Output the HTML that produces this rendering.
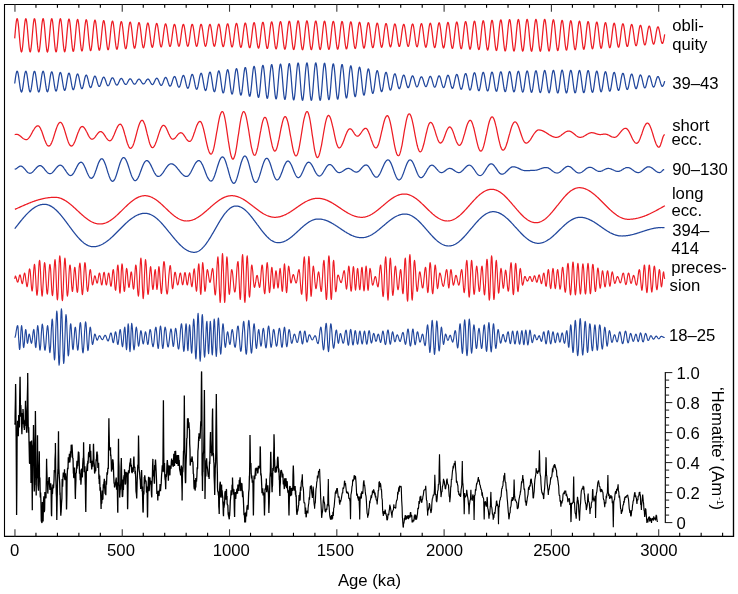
<!DOCTYPE html>
<html lang="en"><head><meta charset="utf-8"><title>Orbital filters and hematite record</title>
<style>html,body{margin:0;padding:0;background:#fff}svg{display:block}</style></head>
<body>
<svg width="738" height="594" viewBox="0 0 738 594">
<rect width="738" height="594" fill="#fff"/>
<path d="M4.5 537.05 V4.0 M4.0 4.5 H734.1" fill="none" stroke="#000" stroke-width="1.1"/>
<path d="M733.5 4.0 V537.05 M734.1 536.4 H4.0" fill="none" stroke="#000" stroke-width="1.35"/>
<path d="M14.95 4.5 V11.8 M14.95 536.4 V529.1999999999999 M122.24 4.5 V11.8 M122.24 536.4 V529.1999999999999 M229.53 4.5 V11.8 M229.53 536.4 V529.1999999999999 M336.82 4.5 V11.8 M336.82 536.4 V529.1999999999999 M444.11 4.5 V11.8 M444.11 536.4 V529.1999999999999 M551.40 4.5 V11.8 M551.40 536.4 V529.1999999999999 M658.69 4.5 V11.8 M658.69 536.4 V529.1999999999999" stroke="#3a3a3a" stroke-width="1.1" fill="none"/>
<path d="M35.96 4.5 V7.8 M35.96 536.4 V532.8 M57.42 4.5 V7.8 M57.42 536.4 V532.8 M78.87 4.5 V7.8 M78.87 536.4 V532.8 M100.33 4.5 V7.8 M100.33 536.4 V532.8 M143.25 4.5 V7.8 M143.25 536.4 V532.8 M164.71 4.5 V7.8 M164.71 536.4 V532.8 M186.16 4.5 V7.8 M186.16 536.4 V532.8 M207.62 4.5 V7.8 M207.62 536.4 V532.8 M250.54 4.5 V7.8 M250.54 536.4 V532.8 M272.00 4.5 V7.8 M272.00 536.4 V532.8 M293.45 4.5 V7.8 M293.45 536.4 V532.8 M314.91 4.5 V7.8 M314.91 536.4 V532.8 M357.83 4.5 V7.8 M357.83 536.4 V532.8 M379.29 4.5 V7.8 M379.29 536.4 V532.8 M400.74 4.5 V7.8 M400.74 536.4 V532.8 M422.20 4.5 V7.8 M422.20 536.4 V532.8 M465.12 4.5 V7.8 M465.12 536.4 V532.8 M486.58 4.5 V7.8 M486.58 536.4 V532.8 M508.03 4.5 V7.8 M508.03 536.4 V532.8 M529.49 4.5 V7.8 M529.49 536.4 V532.8 M572.41 4.5 V7.8 M572.41 536.4 V532.8 M593.87 4.5 V7.8 M593.87 536.4 V532.8 M615.32 4.5 V7.8 M615.32 536.4 V532.8 M636.78 4.5 V7.8 M636.78 536.4 V532.8 M679.70 4.5 V7.8 M679.70 536.4 V532.8 M701.16 4.5 V7.8 M701.16 536.4 V532.8 M722.61 4.5 V7.8 M722.61 536.4 V532.8" stroke="#000" stroke-width="1.1" fill="none"/>
<path d="M665.35 372.1 V523.1" stroke="#1a1a1a" stroke-width="1.25" fill="none"/>
<path d="M665.0500000000001 522.60 h7.3 M665.0500000000001 515.10 h4.1 M665.0500000000001 507.60 h4.1 M665.0500000000001 500.10 h4.1 M665.0500000000001 492.60 h7.3 M665.0500000000001 485.10 h4.1 M665.0500000000001 477.60 h4.1 M665.0500000000001 470.10 h4.1 M665.0500000000001 462.60 h7.3 M665.0500000000001 455.10 h4.1 M665.0500000000001 447.60 h4.1 M665.0500000000001 440.10 h4.1 M665.0500000000001 432.60 h7.3 M665.0500000000001 425.10 h4.1 M665.0500000000001 417.60 h4.1 M665.0500000000001 410.10 h4.1 M665.0500000000001 402.60 h7.3 M665.0500000000001 395.10 h4.1 M665.0500000000001 387.60 h4.1 M665.0500000000001 380.10 h4.1 M665.0500000000001 372.60 h7.3" stroke="#1a1a1a" stroke-width="1.0" fill="none"/>
<path d="M14.7 38.39 15.1 33.61 15.5 28.97 15.9 24.85 16.3 21.58 16.7 19.44 17.1 18.61 17.5 19.15 17.9 21.04 18.3 24.11 18.7 28.11 19.1 32.71 19.5 37.53 19.9 42.16 20.3 46.22 20.7 49.37 21.1 51.35 21.5 52.00 21.9 51.26 22.3 49.19 22.7 45.96 23.1 41.85 23.5 37.19 23.9 32.38 24.3 27.81 24.7 23.86 25.1 20.86 25.5 19.07 25.9 18.62 26.3 19.57 26.7 21.84 27.1 25.23 27.5 29.47 27.9 34.20 28.3 39.02 28.7 43.53 29.1 47.34 29.5 50.15 29.9 51.72 30.3 51.91 30.7 50.70 31.1 48.21 31.5 44.63 31.9 40.27 32.3 35.50 32.7 30.71 33.1 26.30 33.5 22.65 33.9 20.05 34.3 18.74 34.7 18.82 35.1 20.28 35.5 23.02 35.9 26.79 36.3 31.29 36.7 36.12 37.1 40.88 37.5 45.17 37.9 48.63 38.3 50.96 38.7 51.97 39.1 51.57 39.5 49.79 39.9 46.79 40.3 42.82 40.7 38.22 41.1 33.36 41.5 28.68 41.9 24.55 42.3 21.33 42.7 19.29 43.1 18.60 43.5 19.32 43.9 21.37 44.3 24.59 44.7 28.70 45.1 33.36 45.5 38.19 45.9 42.78 46.3 46.74 46.7 49.74 47.1 51.54 47.5 51.98 47.9 51.02 48.3 48.75 48.7 45.36 49.1 41.12 49.5 36.40 49.9 31.59 50.3 27.09 50.7 23.27 51.1 20.46 51.5 18.89 51.9 18.69 52.3 19.89 52.7 22.40 53.1 25.99 53.5 30.38 53.9 35.17 54.3 39.98 54.7 44.39 55.1 48.04 55.5 50.61 55.9 51.88 56.3 51.75 56.7 50.24 57.1 47.46 57.5 43.65 57.9 39.14 58.3 34.31 58.7 29.55 59.1 25.29 59.5 21.87 59.9 19.58 60.3 18.64 60.7 19.10 61.1 20.94 61.5 23.98 61.9 27.97 62.3 32.57 62.7 37.40 63.1 42.03 63.5 46.09 63.9 49.23 64.3 51.19 64.7 51.80 65.1 51.02 65.5 48.91 65.9 45.66 66.3 41.54 66.7 36.90 67.1 32.14 67.5 27.65 67.9 23.82 68.3 20.97 68.7 19.33 69.1 19.04 69.5 20.13 69.9 22.49 70.3 25.93 70.7 30.15 71.1 34.80 71.5 39.48 71.9 43.80 72.3 47.39 72.7 49.96 73.1 51.28 73.5 51.25 73.9 49.87 74.3 47.27 74.7 43.66 75.1 39.35 75.5 34.71 75.9 30.13 76.3 26.00 76.7 22.66 77.1 20.39 77.5 19.39 77.9 19.73 78.3 21.37 78.7 24.16 79.1 27.89 79.5 32.22 79.9 36.80 80.3 41.25 80.7 45.19 81.1 48.29 81.5 50.31 81.9 51.06 82.3 50.50 82.7 48.67 83.1 45.73 83.5 41.92 83.9 37.57 84.3 33.04 84.7 28.70 85.1 24.93 85.5 22.03 85.9 20.25 86.3 19.72 86.7 20.49 87.1 22.49 87.5 25.53 87.9 29.38 88.3 33.71 88.7 38.16 89.1 42.36 89.5 45.97 89.9 48.70 90.3 50.30 90.7 50.67 91.1 49.76 91.5 47.66 91.9 44.55 92.3 40.67 92.7 36.37 93.1 31.98 93.5 27.88 93.9 24.39 94.3 21.82 94.7 20.37 95.1 20.15 95.5 21.18 95.9 23.36 96.3 26.51 96.7 30.37 97.1 34.63 97.5 38.93 97.9 42.92 98.3 46.29 98.7 48.74 99.1 50.10 99.5 50.23 99.9 49.15 100.3 46.94 100.7 43.77 101.1 39.93 101.5 35.72 101.9 31.49 102.3 27.58 102.7 24.31 103.1 21.96 103.5 20.70 103.9 20.64 104.3 21.78 104.7 24.02 105.1 27.17 105.5 30.98 105.9 35.13 106.3 39.28 106.7 43.10 107.1 46.26 107.5 48.52 107.9 49.69 108.3 49.68 108.7 48.50 109.1 46.24 109.5 43.09 109.9 39.32 110.3 35.23 110.7 31.16 111.1 27.44 111.5 24.37 111.9 22.21 112.3 21.13 112.7 21.20 113.1 22.41 113.5 24.64 113.9 27.72 114.3 31.39 114.7 35.37 115.1 39.33 115.5 42.95 115.9 45.95 116.3 48.09 116.7 49.19 117.1 49.18 117.5 48.06 117.9 45.92 118.3 42.94 118.7 39.36 119.1 35.46 119.5 31.56 119.9 27.98 120.3 24.99 120.7 22.84 121.1 21.69 121.5 21.64 121.9 22.68 122.3 24.73 122.7 27.61 123.1 31.10 123.5 34.92 123.9 38.75 124.3 42.30 124.7 45.27 125.1 47.43 125.5 48.62 125.9 48.73 126.3 47.77 126.7 45.82 127.1 43.03 127.5 39.63 127.9 35.89 128.3 32.12 128.7 28.62 129.1 25.66 129.5 23.49 129.9 22.27 130.3 22.10 130.7 22.98 131.1 24.85 131.5 27.54 131.9 30.85 132.3 34.50 132.7 38.21 133.1 41.67 133.5 44.60 133.9 46.78 134.3 48.04 134.7 48.27 135.1 47.46 135.5 45.68 135.9 43.08 136.3 39.86 136.7 36.29 137.1 32.65 137.5 29.24 137.9 26.33 138.3 24.14 138.7 22.85 139.1 22.57 139.5 23.30 139.9 25.00 140.3 27.51 140.7 30.63 141.1 34.12 141.5 37.69 141.9 41.06 142.3 43.96 142.7 46.16 143.1 47.48 143.5 47.82 143.9 47.16 144.3 45.55 144.7 43.12 145.1 40.08 145.5 36.66 145.9 33.15 146.3 29.81 146.7 26.93 147.1 24.73 147.5 23.38 147.9 22.99 148.3 23.58 148.7 25.10 149.1 27.43 149.5 30.38 149.9 33.71 150.3 37.15 150.7 40.44 151.1 43.31 151.5 45.53 151.9 46.93 152.3 47.40 152.7 46.91 153.1 45.50 153.5 43.28 153.9 40.43 154.3 37.18 154.7 33.80 155.1 30.54 155.5 27.68 155.9 25.43 156.3 23.97 156.7 23.42 157.1 23.81 157.5 25.13 157.9 27.25 158.3 30.00 158.7 33.17 159.1 36.50 159.5 39.72 159.9 42.58 160.3 44.85 160.7 46.35 161.1 46.96 161.5 46.64 161.9 45.41 162.3 43.38 162.7 40.72 163.1 37.62 163.5 34.36 163.9 31.18 164.3 28.34 164.7 26.06 165.1 24.53 165.5 23.87 165.9 24.11 166.3 25.24 166.7 27.17 167.1 29.72 167.5 32.71 167.9 35.89 168.3 39.02 168.7 41.84 169.1 44.14 169.5 45.72 169.9 46.48 170.3 46.36 170.7 45.36 171.1 43.57 171.5 41.13 171.9 38.24 172.3 35.13 172.7 32.04 173.1 29.22 173.5 26.89 173.9 25.24 174.3 24.38 174.7 24.39 175.1 25.27 175.5 26.93 175.9 29.27 176.3 32.08 176.7 35.16 177.1 38.24 177.5 41.09 177.9 43.48 178.3 45.21 178.7 46.15 179.1 46.22 179.5 45.42 179.9 43.81 180.3 41.52 180.7 38.73 181.1 35.67 181.5 32.58 181.9 29.71 182.3 27.28 182.7 25.49 183.1 24.49 183.5 24.35 183.9 25.09 184.3 26.64 184.7 28.89 185.1 31.65 185.5 34.70 185.9 37.80 186.3 40.70 186.7 43.16 187.1 45.00 187.5 46.07 187.9 46.27 188.3 45.59 188.7 44.09 189.1 41.89 189.5 39.16 189.9 36.13 190.3 33.02 190.7 30.10 191.1 27.60 191.5 25.71 191.9 24.58 192.3 24.32 192.7 24.93 193.1 26.36 193.5 28.51 193.9 31.20 194.3 34.22 194.7 37.32 195.1 40.26 195.5 42.80 195.9 44.75 196.3 45.95 196.7 46.30 197.1 45.77 197.5 44.40 197.9 42.32 198.3 39.67 198.7 36.68 199.1 33.57 199.5 30.60 199.9 28.01 200.3 26.00 200.7 24.73 201.1 24.30 201.5 24.75 201.9 26.05 202.3 28.08 202.7 30.70 203.1 33.69 203.5 36.80 203.9 39.79 204.3 42.43 204.7 44.49 205.1 45.82 205.5 46.30 205.9 45.90 206.3 44.65 206.7 42.65 207.1 40.06 207.5 37.09 207.9 33.98 208.3 30.97 208.7 28.31 209.1 26.21 209.5 24.84 209.9 24.30 210.3 24.65 210.7 25.86 211.1 27.82 211.5 30.38 211.9 33.33 212.3 36.44 212.7 39.46 213.1 42.15 213.5 44.29 213.9 45.71 214.3 46.29 214.7 45.99 215.1 44.84 215.5 42.93 215.9 40.40 216.3 37.46 216.7 34.33 217.1 31.27 217.5 28.52 217.9 26.31 218.3 24.82 218.7 24.16 219.1 24.39 219.5 25.50 219.9 27.40 220.3 29.94 220.7 32.92 221.1 36.10 221.5 39.23 221.9 42.05 222.3 44.33 222.7 45.90 223.1 46.62 223.5 46.44 223.9 45.36 224.3 43.47 224.7 40.91 225.1 37.90 225.5 34.67 225.9 31.48 226.3 28.59 226.7 26.22 227.1 24.58 227.5 23.80 227.9 23.93 228.3 24.98 228.7 26.86 229.1 29.43 229.5 32.47 229.9 35.75 230.3 39.00 230.7 41.97 231.1 44.41 231.5 46.13 231.9 46.98 232.3 46.89 232.7 45.88 233.1 44.01 233.5 41.44 233.9 38.37 234.3 35.04 234.7 31.72 235.1 28.68 235.5 26.16 235.9 24.37 236.3 23.45 236.7 23.48 237.1 24.47 237.5 26.34 237.9 28.94 238.3 32.07 238.7 35.47 239.1 38.86 239.5 41.98 239.9 44.56 240.3 46.40 240.7 47.34 241.1 47.31 241.5 46.31 241.9 44.40 242.3 41.76 242.7 38.58 243.1 35.13 243.5 31.68 243.9 28.51 244.3 25.89 244.7 24.02 245.1 23.06 245.5 23.10 245.9 24.12 246.3 26.05 246.7 28.74 247.1 31.97 247.5 35.47 247.9 38.98 248.3 42.19 248.7 44.86 249.1 46.76 249.5 47.73 249.9 47.70 250.3 46.66 250.7 44.70 251.1 41.97 251.5 38.69 251.9 35.12 252.3 31.57 252.7 28.30 253.1 25.59 253.5 23.67 253.9 22.68 254.3 22.71 254.7 23.76 255.1 25.76 255.5 28.53 255.9 31.86 256.3 35.48 256.7 39.09 257.1 42.41 257.5 45.16 257.9 47.11 258.3 48.12 258.7 48.08 259.1 47.01 259.5 44.99 259.9 42.17 260.3 38.79 260.7 35.12 261.1 31.45 261.5 28.09 261.9 25.30 262.3 23.32 262.7 22.30 263.1 22.34 263.5 23.42 263.9 25.48 264.3 28.33 264.7 31.76 265.1 35.48 265.5 39.20 265.9 42.61 266.3 45.43 266.7 47.44 267.1 48.47 267.5 48.44 267.9 47.33 268.3 45.25 268.7 42.36 269.1 38.89 269.5 35.11 269.9 31.35 270.3 27.89 270.7 25.03 271.1 22.99 271.5 21.95 271.9 21.99 272.3 23.11 272.7 25.21 273.1 28.15 273.5 31.67 273.9 35.49 274.3 39.30 274.7 42.80 275.1 45.70 275.5 47.77 275.9 48.82 276.3 48.78 276.7 47.65 277.1 45.52 277.5 42.55 277.9 38.98 278.3 35.11 278.7 31.24 279.1 27.70 279.5 24.76 279.9 22.67 280.3 21.60 280.7 21.64 281.1 22.79 281.5 24.95 281.9 27.96 282.3 31.57 282.7 35.49 283.1 39.41 283.5 43.00 283.9 45.97 284.3 48.09 284.7 49.17 285.1 49.13 285.5 47.97 285.9 45.78 286.3 42.73 286.7 39.08 287.1 35.11 287.5 31.14 287.9 27.51 288.3 24.49 288.7 22.35 289.1 21.25 289.5 21.29 289.9 22.46 290.3 24.65 290.7 27.71 291.1 31.38 291.5 35.38 291.9 39.38 292.3 43.06 292.7 46.12 293.1 48.33 293.5 49.49 293.9 49.52 294.3 48.40 294.7 46.23 295.1 43.18 295.5 39.49 295.9 35.46 296.3 31.40 296.7 27.65 297.1 24.50 297.5 22.21 297.9 20.97 298.3 20.88 298.7 21.95 299.1 24.11 299.5 27.18 299.9 30.92 300.3 35.02 300.7 39.14 301.1 42.95 301.5 46.13 301.9 48.44 302.3 49.67 302.7 49.75 303.1 48.65 303.5 46.47 303.9 43.39 304.3 39.66 304.7 35.58 305.1 31.48 305.5 27.69 305.9 24.52 306.3 22.22 306.7 20.99 307.1 20.92 307.5 22.00 307.9 24.14 308.3 27.18 308.7 30.87 309.1 34.91 309.5 38.97 309.9 42.74 310.3 45.91 310.7 48.23 311.1 49.51 311.5 49.65 311.9 48.63 312.3 46.56 312.7 43.58 313.1 39.94 313.5 35.93 313.9 31.87 314.3 28.10 314.7 24.90 315.1 22.54 315.5 21.20 315.9 21.00 316.3 21.96 316.7 24.00 317.1 26.97 317.5 30.61 317.9 34.64 318.3 38.71 318.7 42.50 319.1 45.70 319.5 48.05 319.9 49.36 320.3 49.52 320.7 48.52 321.1 46.44 321.5 43.45 321.9 39.80 322.3 35.79 322.7 31.74 323.1 27.98 323.5 24.83 323.9 22.53 324.3 21.27 324.7 21.16 325.1 22.21 325.5 24.32 325.9 27.33 326.3 30.98 326.7 34.99 327.1 39.01 327.5 42.73 327.9 45.84 328.3 48.09 328.7 49.29 329.1 49.35 329.5 48.26 329.9 46.12 330.3 43.09 330.7 39.43 331.1 35.44 331.5 31.44 331.9 27.76 332.3 24.69 332.7 22.50 333.1 21.35 333.5 21.34 333.9 22.47 334.3 24.64 334.7 27.69 335.1 31.35 335.5 35.33 335.9 39.31 336.3 42.95 336.7 45.97 337.1 48.11 337.5 49.21 337.9 49.17 338.3 48.00 338.7 45.79 339.1 42.73 339.5 39.07 339.9 35.10 340.3 31.15 340.7 27.56 341.1 24.60 341.5 22.52 341.9 21.49 342.3 21.59 342.7 22.81 343.1 25.04 343.5 28.10 343.9 31.74 344.3 35.66 344.7 39.54 345.1 43.07 345.5 45.95 345.9 47.95 346.3 48.92 346.7 48.77 347.1 47.53 347.5 45.29 347.9 42.25 348.3 38.64 348.7 34.78 349.1 30.96 349.5 27.51 349.9 24.71 350.3 22.77 350.7 21.87 351.1 22.06 351.5 23.34 351.9 25.61 352.3 28.66 352.7 32.26 353.1 36.09 353.5 39.85 353.9 43.23 354.3 45.94 354.7 47.76 355.1 48.56 355.5 48.26 355.9 46.89 356.3 44.58 356.7 41.50 357.1 37.92 357.5 34.14 357.9 30.46 358.3 27.20 358.7 24.60 359.1 22.90 359.5 22.23 359.9 22.62 360.3 24.02 360.7 26.33 361.1 29.34 361.5 32.83 361.9 36.50 362.3 40.07 362.7 43.24 363.1 45.77 363.5 47.45 363.9 48.16 364.3 47.83 364.7 46.50 365.1 44.28 365.5 41.35 365.9 37.94 366.3 34.33 366.7 30.80 367.1 27.65 367.5 25.12 367.9 23.41 368.3 22.66 368.7 22.92 369.1 24.18 369.5 26.32 369.9 29.17 370.3 32.50 370.7 36.05 371.1 39.53 371.5 42.66 371.9 45.19 372.3 46.92 372.7 47.72 373.1 47.52 373.5 46.34 373.9 44.28 374.3 41.51 374.7 38.25 375.1 34.76 375.5 31.33 375.9 28.23 376.3 25.70 376.7 23.95 377.1 23.11 377.5 23.25 377.9 24.37 378.3 26.37 378.7 29.08 379.1 32.29 379.5 35.73 379.9 39.13 380.3 42.21 380.7 44.71 381.1 46.45 381.5 47.29 381.9 47.14 382.3 46.05 382.7 44.08 383.1 41.41 383.5 38.26 383.9 34.87 384.3 31.54 384.7 28.51 385.1 26.05 385.5 24.34 385.9 23.52 386.3 23.66 386.7 24.73 387.1 26.64 387.5 29.24 387.9 32.31 388.3 35.62 388.7 38.89 389.1 41.86 389.5 44.30 389.9 46.01 390.3 46.85 390.7 46.77 391.1 45.77 391.5 43.94 391.9 41.42 392.3 38.42 392.7 35.17 393.1 31.95 393.5 29.01 393.9 26.58 394.3 24.86 394.7 23.97 395.1 24.00 395.5 24.93 395.9 26.69 396.3 29.13 396.7 32.06 397.1 35.24 397.5 38.41 397.9 41.32 398.3 43.74 398.7 45.48 399.1 46.39 399.5 46.42 399.9 45.55 400.3 43.87 400.7 41.51 401.1 38.65 401.5 35.54 401.9 32.42 402.3 29.54 402.7 27.13 403.1 25.39 403.5 24.44 403.9 24.36 404.3 25.14 404.7 26.72 405.1 29.00 405.5 31.79 405.9 34.88 406.3 38.00 406.7 40.92 407.1 43.40 407.5 45.23 407.9 46.27 408.3 46.44 408.7 45.71 409.1 44.14 409.5 41.86 409.9 39.04 410.3 35.92 410.7 32.73 411.1 29.74 411.5 27.19 411.9 25.29 412.3 24.18 412.7 23.96 413.1 24.65 413.5 26.20 413.9 28.48 414.3 31.32 414.7 34.49 415.1 37.73 415.5 40.78 415.9 43.41 416.3 45.39 416.7 46.57 417.1 46.85 417.5 46.20 417.9 44.67 418.3 42.39 418.7 39.53 419.1 36.32 419.5 33.02 419.9 29.89 420.3 27.19 420.7 25.13 421.1 23.89 421.5 23.55 421.9 24.16 422.3 25.66 422.7 27.95 423.1 30.82 423.5 34.07 423.9 37.43 424.3 40.62 424.7 43.40 425.1 45.53 425.5 46.85 425.9 47.25 426.3 46.68 426.7 45.20 427.1 42.93 427.5 40.03 427.9 36.74 428.3 33.33 428.7 30.07 429.1 27.22 429.5 25.01 429.9 23.61 430.3 23.16 430.7 23.67 431.1 25.13 431.5 27.40 431.9 30.31 432.3 33.63 432.7 37.10 433.1 40.43 433.5 43.36 433.9 45.65 434.3 47.11 434.7 47.63 435.1 47.17 435.5 45.74 435.9 43.48 436.3 40.55 436.7 37.19 437.1 33.67 437.5 30.27 437.9 27.27 438.3 24.90 438.7 23.36 439.1 22.78 439.5 23.19 439.9 24.59 440.3 26.84 440.7 29.78 441.1 33.17 441.5 36.75 441.9 40.21 442.3 43.29 442.7 45.74 443.1 47.36 443.5 48.01 443.9 47.64 444.3 46.28 444.7 44.04 445.1 41.09 445.5 37.66 445.9 34.04 446.3 30.51 446.7 27.35 447.1 24.82 447.5 23.13 447.9 22.41 448.3 22.72 448.7 24.06 449.1 26.31 449.5 29.30 449.9 32.78 450.3 36.48 450.7 40.09 451.1 43.32 451.5 45.91 451.9 47.65 452.3 48.40 452.7 48.08 453.1 46.72 453.5 44.43 453.9 41.40 454.3 37.86 454.7 34.10 455.1 30.43 455.5 27.14 455.9 24.51 456.3 22.74 456.7 21.99 457.1 22.31 457.5 23.67 457.9 25.98 458.3 29.03 458.7 32.60 459.1 36.40 459.5 40.12 459.9 43.46 460.3 46.16 460.7 47.99 461.1 48.81 461.5 48.55 461.9 47.22 462.3 44.93 462.7 41.86 463.1 38.26 463.5 34.40 463.9 30.61 464.3 27.19 464.7 24.40 465.1 22.48 465.5 21.59 465.9 21.79 466.3 23.08 466.7 25.36 467.1 28.44 467.5 32.07 467.9 35.98 468.3 39.85 468.7 43.36 469.1 46.23 469.5 48.23 469.9 49.21 470.3 49.06 470.7 47.81 471.1 45.56 471.5 42.47 471.9 38.80 472.3 34.84 472.7 30.90 473.1 27.31 473.5 24.34 473.9 22.25 474.3 21.20 474.7 21.29 475.1 22.51 475.5 24.78 475.9 27.91 476.3 31.65 476.7 35.70 477.1 39.73 477.5 43.40 477.9 46.43 478.3 48.56 478.7 49.62 479.1 49.51 479.5 48.25 479.9 45.92 480.3 42.73 480.7 38.92 481.1 34.81 481.5 30.72 481.9 27.00 482.3 23.94 482.7 21.80 483.1 20.76 483.5 20.89 483.9 22.21 484.3 24.59 484.7 27.86 485.1 31.75 485.5 35.93 485.9 40.08 486.3 43.85 486.7 46.92 487.1 49.06 487.5 50.08 487.9 49.89 488.3 48.50 488.7 46.04 489.1 42.69 489.5 38.73 489.9 34.48 490.3 30.28 490.7 26.48 491.1 23.40 491.5 21.27 491.9 20.29 492.3 20.53 492.7 21.97 493.1 24.49 493.5 27.89 493.9 31.90 494.3 36.19 494.7 40.42 495.1 44.25 495.5 47.37 495.9 49.51 496.3 50.52 496.7 50.29 497.1 48.85 497.5 46.31 497.9 42.88 498.3 38.82 498.7 34.46 499.1 30.17 499.5 26.28 499.9 23.10 500.3 20.91 500.7 19.87 501.1 20.09 501.5 21.54 501.9 24.13 502.3 27.63 502.7 31.77 503.1 36.21 503.5 40.59 503.9 44.54 504.3 47.75 504.7 49.95 505.1 50.95 505.5 50.67 505.9 49.13 506.3 46.46 506.7 42.88 507.1 38.67 507.5 34.19 507.9 29.80 508.3 25.85 508.7 22.67 509.1 20.52 509.5 19.58 509.9 19.92 510.3 21.52 510.7 24.24 511.1 27.87 511.5 32.10 511.9 36.60 512.3 41.00 512.7 44.93 513.1 48.08 513.5 50.19 513.9 51.08 514.3 50.69 514.7 49.03 515.1 46.26 515.5 42.59 515.9 38.32 516.3 33.80 516.7 29.40 517.1 25.48 517.5 22.36 517.9 20.30 518.3 19.45 518.7 19.90 519.1 21.61 519.5 24.42 519.9 28.13 520.3 32.42 520.7 36.95 521.1 41.34 521.5 45.25 521.9 48.35 522.3 50.39 522.7 51.20 523.1 50.72 523.5 48.99 523.9 46.14 524.3 42.41 524.7 38.10 525.1 33.55 525.5 29.15 525.9 25.24 526.3 22.15 526.7 20.13 527.1 19.34 527.5 19.85 527.9 21.61 528.3 24.48 528.7 28.22 529.1 32.55 529.5 37.10 529.9 41.50 530.3 45.41 530.7 48.49 531.1 50.51 531.5 51.29 531.9 50.78 532.3 49.02 532.7 46.14 533.1 42.38 533.5 38.06 533.9 33.50 534.3 29.10 534.7 25.19 535.1 22.11 535.5 20.09 535.9 19.31 536.3 19.82 536.7 21.61 537.1 24.51 537.5 28.30 537.9 32.66 538.3 37.24 538.7 41.66 539.1 45.55 539.5 48.61 539.9 50.58 540.3 51.30 540.7 50.71 541.1 48.85 541.5 45.89 541.9 42.06 542.3 37.68 542.7 33.10 543.1 28.70 543.5 24.85 543.9 21.84 544.3 19.94 544.7 19.30 545.1 19.98 545.5 21.94 545.9 24.99 546.3 28.89 546.7 33.31 547.1 37.89 547.5 42.23 547.9 46.00 548.3 48.87 548.7 50.61 549.1 51.08 549.5 50.25 549.9 48.18 550.3 45.06 550.7 41.13 551.1 36.74 551.5 32.24 551.9 28.00 552.3 24.38 552.7 21.67 553.1 20.09 553.5 19.77 553.9 20.74 554.3 22.91 554.7 26.09 555.1 30.03 555.5 34.39 555.9 38.82 556.3 42.94 556.7 46.43 557.1 48.98 557.5 50.40 557.9 50.56 558.3 49.47 558.7 47.20 559.1 43.96 559.5 40.01 559.9 35.69 560.3 31.34 560.7 27.33 561.1 23.99 561.5 21.60 561.9 20.34 562.3 20.32 562.7 21.54 563.1 23.89 563.5 27.18 563.9 31.13 564.3 35.42 564.7 39.68 565.1 43.57 565.5 46.76 565.9 49.00 566.3 50.11 566.7 49.98 567.1 48.64 567.5 46.21 567.9 42.88 568.3 38.93 568.7 34.69 569.1 30.52 569.5 26.75 569.9 23.70 570.3 21.62 570.7 20.67 571.1 20.93 571.5 22.40 571.9 24.94 572.3 28.33 572.7 32.30 573.1 36.51 573.5 40.60 573.9 44.24 574.3 47.13 574.7 49.02 575.1 49.75 575.5 49.28 575.9 47.65 576.3 44.98 576.7 41.52 577.1 37.55 577.5 33.40 577.9 29.42 578.3 25.94 578.7 23.26 579.1 21.58 579.5 21.06 579.9 21.73 580.3 23.53 580.7 26.31 581.1 29.83 581.5 33.79 581.9 37.87 582.3 41.73 582.7 45.03 583.1 47.52 583.5 48.97 583.9 49.29 584.3 48.43 584.7 46.48 585.1 43.60 585.5 40.04 585.9 36.09 586.3 32.09 586.7 28.37 587.1 25.23 587.5 22.95 587.9 21.71 588.3 21.60 588.7 22.64 589.1 24.73 589.5 27.70 589.9 31.29 590.3 35.21 590.7 39.12 591.1 42.71 591.5 45.66 591.9 47.74 592.3 48.77 592.7 48.67 593.1 47.46 593.5 45.24 593.9 42.19 594.3 38.59 594.7 34.72 595.1 30.91 595.5 27.49 595.9 24.73 596.3 22.86 596.7 22.04 597.1 22.33 597.5 23.70 597.9 26.03 598.3 29.13 598.7 32.73 599.1 36.53 599.5 40.21 599.9 43.47 600.3 46.04 600.7 47.70 601.1 48.32 601.5 47.85 601.9 46.33 602.3 43.90 602.7 40.76 603.1 37.18 603.5 33.46 603.9 29.90 604.3 26.81 604.7 24.44 605.1 22.98 605.5 22.56 605.9 23.20 606.3 24.83 606.7 27.32 607.1 30.46 607.5 33.99 607.9 37.61 608.3 41.02 608.7 43.95 609.1 46.15 609.5 47.45 609.9 47.74 610.3 47.00 610.7 45.30 611.1 42.78 611.5 39.65 611.9 36.17 612.3 32.64 612.7 29.34 613.1 26.55 613.5 24.49 613.9 23.33 614.3 23.17 614.7 24.00 615.1 25.74 615.5 28.27 615.9 31.35 616.3 34.75 616.7 38.17 617.1 41.35 617.5 44.02 617.9 45.97 618.3 47.03 618.7 47.13 619.1 46.27 619.5 44.51 619.9 42.01 620.3 38.97 620.7 35.64 621.1 32.30 621.5 29.22 621.9 26.65 622.3 24.80 622.7 23.81 623.1 23.77 623.5 24.66 623.9 26.43 624.3 28.91 624.7 31.90 625.1 35.15 625.5 38.40 625.9 41.38 626.3 43.84 626.7 45.59 627.1 46.48 627.5 46.46 627.9 45.53 628.3 43.77 628.7 41.33 629.1 38.41 629.5 35.26 629.9 32.13 630.3 29.28 630.7 26.94 631.1 25.30 631.5 24.49 631.9 24.56 632.3 25.50 632.7 27.22 633.1 29.59 633.5 32.40 633.9 35.43 634.3 38.42 634.7 41.15 635.1 43.38 635.5 44.94 635.9 45.72 636.3 45.64 636.7 44.74 637.1 43.08 637.5 40.80 637.9 38.09 638.3 35.18 638.7 32.30 639.1 29.68 639.5 27.53 639.9 26.03 640.3 25.28 640.7 25.35 641.1 26.23 641.5 27.84 641.9 30.04 642.3 32.65 642.7 35.46 643.1 38.23 643.5 40.75 643.9 42.80 644.3 44.23 644.7 44.93 645.1 44.84 645.5 43.98 645.9 42.41 646.3 40.29 646.7 37.77 647.1 35.08 647.5 32.42 647.9 30.02 648.3 28.06 648.7 26.71 649.1 26.06 649.5 26.17 649.9 27.03 650.3 28.57 650.7 30.65 651.1 33.09 651.5 35.70 651.9 38.25 652.3 40.54 652.7 42.38 653.1 43.63 653.5 44.17 653.9 43.98 654.3 43.08 654.7 41.54 655.1 39.50 655.5 37.13 655.9 34.63 656.3 32.21 656.7 30.06 657.1 28.36 657.5 27.25 657.9 26.81 658.3 27.07 658.7 27.99 659.1 29.50 659.5 31.46 659.9 33.72 660.3 36.10 660.7 38.39 661.1 40.42 661.5 42.02 661.9 43.06 662.3 43.47 662.7 43.21 663.1 42.32 663.5 40.85 663.9 38.95 664.3 36.76 664.7 34.47" fill="none" stroke="#ed1c24" stroke-width="1.25" stroke-linejoin="round" stroke-linecap="butt"/>
<path d="M14.7 83.53 15.1 80.55 15.5 77.66 15.9 75.09 16.3 73.06 16.7 71.73 17.1 71.21 17.5 71.54 17.9 72.72 18.3 74.63 18.7 77.12 19.1 79.99 19.5 82.99 19.9 85.87 20.3 88.40 20.7 90.36 21.1 91.60 21.5 92.00 21.9 91.54 22.3 90.25 22.7 88.24 23.1 85.68 23.5 82.78 23.9 79.78 24.3 76.94 24.7 74.48 25.1 72.61 25.5 71.49 25.9 71.21 26.3 71.80 26.7 73.22 27.1 75.33 27.5 77.97 27.9 80.91 28.3 83.92 28.7 86.72 29.1 89.10 29.5 90.85 29.9 91.82 30.3 91.94 30.7 91.19 31.1 89.64 31.5 87.41 31.9 84.70 32.3 81.72 32.7 78.74 33.1 75.99 33.5 73.72 33.9 72.11 34.3 71.29 34.7 71.33 35.1 72.25 35.5 73.95 35.9 76.30 36.3 79.10 36.7 82.11 37.1 85.07 37.5 87.75 37.9 89.90 38.3 91.35 38.7 91.98 39.1 91.73 39.5 90.62 39.9 88.76 40.3 86.28 40.7 83.42 41.1 80.39 41.5 77.48 41.9 74.90 42.3 72.90 42.7 71.63 43.1 71.20 43.5 71.65 43.9 72.92 44.3 74.93 44.7 77.49 45.1 80.40 45.5 83.39 45.9 86.22 46.3 88.65 46.7 90.47 47.1 91.55 47.5 91.79 47.9 91.17 48.3 89.76 48.7 87.69 49.1 85.11 49.5 82.26 49.9 79.38 50.3 76.69 50.7 74.44 51.1 72.79 51.5 71.89 51.9 71.81 52.3 72.54 52.7 74.04 53.1 76.17 53.5 78.73 53.9 81.53 54.3 84.31 54.7 86.84 55.1 88.92 55.5 90.36 55.9 91.06 56.3 90.96 56.7 90.07 57.1 88.47 57.5 86.30 57.9 83.76 58.3 81.04 58.7 78.40 59.1 76.04 59.5 74.17 59.9 72.93 60.3 72.44 60.7 72.72 61.1 73.74 61.5 75.42 61.9 77.61 62.3 80.12 62.7 82.74 63.1 85.24 63.5 87.42 63.9 89.09 64.3 90.12 64.7 90.42 65.1 89.98 65.5 88.84 65.9 87.10 66.3 84.90 66.7 82.45 67.1 79.94 67.5 77.59 67.9 75.59 68.3 74.12 68.7 73.28 69.1 73.16 69.5 73.74 69.9 74.98 70.3 76.77 70.7 78.96 71.1 81.35 71.5 83.74 71.9 85.93 72.3 87.74 72.7 89.02 73.1 89.67 73.5 89.63 73.9 88.92 74.3 87.59 74.7 85.77 75.1 83.62 75.5 81.31 75.9 79.06 76.3 77.05 76.7 75.45 77.1 74.38 77.5 73.94 77.9 74.15 78.3 74.97 78.7 76.33 79.1 78.11 79.5 80.16 79.9 82.30 80.3 84.35 80.7 86.14 81.1 87.54 81.5 88.41 81.9 88.71 82.3 88.42 82.7 87.56 83.1 86.22 83.5 84.52 83.9 82.59 84.3 80.62 84.7 78.75 85.1 77.15 85.5 75.94 85.9 75.23 86.3 75.05 86.7 75.41 87.1 76.28 87.5 77.58 87.9 79.18 88.3 80.95 88.7 82.75 89.1 84.43 89.5 85.85 89.9 86.89 90.3 87.48 90.7 87.58 91.1 87.19 91.5 86.34 91.9 85.12 92.3 83.63 92.7 82.00 93.1 80.37 93.5 78.86 93.9 77.61 94.3 76.71 94.7 76.23 95.1 76.20 95.5 76.60 95.9 77.41 96.3 78.54 96.7 79.90 97.1 81.37 97.5 82.83 97.9 84.16 98.3 85.26 98.7 86.03 99.1 86.44 99.5 86.44 99.9 86.04 100.3 85.31 100.7 84.29 101.1 83.06 101.5 81.73 101.9 80.41 102.3 79.20 102.7 78.20 103.1 77.49 103.5 77.13 103.9 77.13 104.3 77.50 104.7 78.20 105.1 79.16 105.5 80.31 105.9 81.55 106.3 82.78 106.7 83.89 107.1 84.80 107.5 85.44 107.9 85.75 108.3 85.73 108.7 85.37 109.1 84.70 109.5 83.80 109.9 82.73 110.3 81.58 110.7 80.45 111.1 79.43 111.5 78.61 111.9 78.04 112.3 77.77 112.7 77.81 113.1 78.16 113.5 78.77 113.9 79.60 114.3 80.58 114.7 81.62 115.1 82.64 115.5 83.56 115.9 84.32 116.3 84.84 116.7 85.09 117.1 85.07 117.5 84.76 117.9 84.22 118.3 83.47 118.7 82.58 119.1 81.64 119.5 80.71 119.9 79.86 120.3 79.17 120.7 78.69 121.1 78.45 121.5 78.46 121.9 78.72 122.3 79.21 122.7 79.87 123.1 80.67 123.5 81.52 123.9 82.36 124.3 83.12 124.7 83.75 125.1 84.19 125.5 84.44 125.9 84.46 126.3 84.25 126.7 83.83 127.1 83.23 127.5 82.51 127.9 81.72 128.3 80.93 128.7 80.20 129.1 79.59 129.5 79.15 129.9 78.90 130.3 78.87 130.7 79.06 131.1 79.45 131.5 80.01 131.9 80.69 132.3 81.44 132.7 82.19 133.1 82.89 133.5 83.48 133.9 83.92 134.3 84.16 134.7 84.20 135.1 84.03 135.5 83.67 135.9 83.15 136.3 82.50 136.7 81.80 137.1 81.08 137.5 80.41 137.9 79.84 138.3 79.42 138.7 79.17 139.1 79.13 139.5 79.28 139.9 79.61 140.3 80.10 140.7 80.70 141.1 81.37 141.5 82.06 141.9 82.69 142.3 83.24 142.7 83.65 143.1 83.89 143.5 83.94 143.9 83.81 144.3 83.50 144.7 83.05 145.1 82.49 145.5 81.86 145.9 81.19 146.3 80.53 146.7 79.94 147.1 79.47 147.5 79.16 147.9 79.03 148.3 79.12 148.7 79.41 149.1 79.88 149.5 80.51 149.9 81.24 150.3 82.02 150.7 82.79 151.1 83.48 151.5 84.04 151.9 84.42 152.3 84.57 152.7 84.49 153.1 84.17 153.5 83.64 153.9 82.93 154.3 82.09 154.7 81.20 155.1 80.32 155.5 79.52 155.9 78.87 156.3 78.42 156.7 78.23 157.1 78.30 157.5 78.64 157.9 79.23 158.3 80.02 158.7 80.96 159.1 81.97 159.5 82.97 159.9 83.88 160.3 84.62 160.7 85.14 161.1 85.38 161.5 85.31 161.9 84.95 162.3 84.31 162.7 83.43 163.1 82.40 163.5 81.27 163.9 80.16 164.3 79.14 164.7 78.30 165.1 77.71 165.5 77.42 165.9 77.47 166.3 77.85 166.7 78.54 167.1 79.48 167.5 80.60 167.9 81.83 168.3 83.06 168.7 84.19 169.1 85.14 169.5 85.81 169.9 86.16 170.3 86.16 170.7 85.80 171.1 85.09 171.5 84.09 171.9 82.87 172.3 81.52 172.7 80.16 173.1 78.88 173.5 77.80 173.9 77.00 174.3 76.55 174.7 76.50 175.1 76.87 175.5 77.62 175.9 78.70 176.3 80.04 176.7 81.53 177.1 83.05 177.5 84.48 177.9 85.70 178.3 86.61 178.7 87.13 179.1 87.22 179.5 86.85 179.9 86.05 180.3 84.88 180.7 83.42 181.1 81.80 181.5 80.13 181.9 78.56 182.3 77.20 182.7 76.18 183.1 75.59 183.5 75.46 183.9 75.83 184.3 76.68 184.7 77.93 185.1 79.49 185.5 81.25 185.9 83.06 186.3 84.79 186.7 86.27 187.1 87.41 187.5 88.09 187.9 88.26 188.3 87.89 188.7 87.01 189.1 85.68 189.5 84.01 189.9 82.12 190.3 80.16 190.7 78.29 191.1 76.66 191.5 75.41 191.9 74.64 192.3 74.42 192.7 74.78 193.1 75.69 193.5 77.08 193.9 78.85 194.3 80.87 194.7 82.97 195.1 84.99 195.5 86.76 195.9 88.15 196.3 89.03 196.7 89.33 197.1 89.01 197.5 88.09 197.9 86.64 198.3 84.76 198.7 82.60 199.1 80.33 199.5 78.14 199.9 76.19 200.3 74.64 200.7 73.64 201.1 73.26 201.5 73.55 201.9 74.49 202.3 76.02 202.7 78.02 203.1 80.34 203.5 82.78 203.9 85.16 204.3 87.29 204.7 88.98 205.1 90.09 205.5 90.54 205.9 90.27 206.3 89.29 206.7 87.68 207.1 85.57 207.5 83.10 207.9 80.49 208.3 77.93 208.7 75.64 209.1 73.80 209.5 72.58 209.9 72.06 210.3 72.31 210.7 73.31 211.1 74.99 211.5 77.23 211.9 79.84 212.3 82.63 212.7 85.36 213.1 87.82 213.5 89.80 213.9 91.15 214.3 91.74 214.7 91.51 215.1 90.49 215.5 88.74 215.9 86.39 216.3 83.63 216.7 80.68 217.1 77.77 217.5 75.14 217.9 73.01 218.3 71.54 218.7 70.87 219.1 71.06 219.5 72.10 219.9 73.92 220.3 76.37 220.7 79.27 221.1 82.39 221.5 85.47 221.9 88.28 222.3 90.57 222.7 92.16 223.1 92.92 223.5 92.77 223.9 91.72 224.3 89.84 224.7 87.28 225.1 84.24 225.5 80.96 225.9 77.70 226.3 74.72 226.7 72.27 227.1 70.54 227.5 69.70 227.9 69.80 228.3 70.86 228.7 72.79 229.1 75.45 229.5 78.63 229.9 82.07 230.3 85.51 230.7 88.66 231.1 91.27 231.5 93.12 231.9 94.06 232.3 94.00 232.7 92.95 233.1 90.97 233.5 88.22 233.9 84.91 234.3 81.32 234.7 77.71 235.1 74.40 235.5 71.63 235.9 69.65 236.3 68.62 236.7 68.62 237.1 69.68 237.5 71.71 237.9 74.57 238.3 78.02 238.7 81.79 239.1 85.57 239.5 89.05 239.9 91.96 240.3 94.04 240.7 95.13 241.1 95.13 241.5 94.02 241.9 91.90 242.3 88.92 242.7 85.33 243.1 81.41 243.5 77.47 243.9 73.84 244.3 70.82 244.7 68.65 245.1 67.52 245.5 67.53 245.9 68.68 246.3 70.89 246.7 73.98 247.1 77.72 247.5 81.80 247.9 85.89 248.3 89.66 248.7 92.81 249.1 95.06 249.5 96.23 249.9 96.22 250.3 95.02 250.7 92.73 251.1 89.51 251.5 85.63 251.9 81.39 252.3 77.14 252.7 73.23 253.1 69.97 253.5 67.64 253.9 66.42 254.3 66.43 254.7 67.68 255.1 70.06 255.5 73.40 255.9 77.43 256.3 81.82 256.7 86.22 257.1 90.27 257.5 93.65 257.9 96.07 258.3 97.33 258.7 97.31 259.1 96.02 259.5 93.55 259.9 90.09 260.3 85.92 260.7 81.38 261.1 76.82 261.5 72.62 261.9 69.13 262.3 66.62 262.7 65.33 263.1 65.34 263.5 66.68 263.9 69.24 264.3 72.81 264.7 77.13 265.1 81.83 265.5 86.54 265.9 90.85 266.3 94.43 266.7 96.98 267.1 98.29 267.5 98.24 267.9 96.85 268.3 94.22 268.7 90.55 269.1 86.15 269.5 81.36 269.9 76.59 270.3 72.20 270.7 68.57 271.1 65.98 271.5 64.65 271.9 64.70 272.3 66.11 272.7 68.79 273.1 72.51 273.5 76.98 273.9 81.84 274.3 86.69 274.7 91.14 275.1 94.83 275.5 97.46 275.9 98.81 276.3 98.77 276.7 97.33 277.1 94.61 277.5 90.83 277.9 86.29 278.3 81.36 278.7 76.43 279.1 71.91 279.5 68.16 279.9 65.50 280.3 64.13 280.7 64.17 281.1 65.63 281.5 68.39 281.9 72.23 282.3 76.84 282.7 81.85 283.1 86.85 283.5 91.43 283.9 95.24 284.3 97.95 284.7 99.33 285.1 99.29 285.5 97.81 285.9 95.01 286.3 91.11 286.7 86.43 287.1 81.35 287.5 76.28 287.9 71.62 288.3 67.76 288.7 65.01 289.1 63.60 289.5 63.65 289.9 65.14 290.3 67.95 290.7 71.87 291.1 76.58 291.5 81.70 291.9 86.83 292.3 91.55 292.7 95.49 293.1 98.32 293.5 99.82 293.9 99.86 294.3 98.43 294.7 95.64 295.1 91.73 295.5 86.99 295.9 81.80 296.3 76.59 296.7 71.76 297.1 67.71 297.5 64.77 297.9 63.17 298.3 63.04 298.7 64.42 299.1 67.20 299.5 71.15 299.9 75.96 300.3 81.24 300.7 86.55 301.1 91.46 301.5 95.57 301.9 98.55 302.3 100.15 302.7 100.26 303.1 98.85 303.5 96.04 303.9 92.07 304.3 87.24 304.7 81.96 305.1 76.65 305.5 71.74 305.9 67.63 306.3 64.65 306.7 63.05 307.1 62.94 307.5 64.34 307.9 67.11 308.3 71.05 308.7 75.84 309.1 81.09 309.5 86.38 309.9 91.28 310.3 95.41 310.7 98.43 311.1 100.10 311.5 100.29 311.9 98.98 312.3 96.28 312.7 92.40 313.1 87.65 313.5 82.42 313.9 77.12 314.3 72.18 314.7 68.00 315.1 64.91 315.5 63.15 315.9 62.88 316.3 64.13 316.7 66.80 317.1 70.68 317.5 75.46 317.9 80.73 318.3 86.08 318.7 91.06 319.1 95.27 319.5 98.36 319.9 100.08 320.3 100.28 320.7 98.95 321.1 96.20 321.5 92.28 321.9 87.49 322.3 82.24 322.7 76.95 323.1 72.05 323.5 67.95 323.9 64.97 324.3 63.35 324.7 63.23 325.1 64.60 325.5 67.36 325.9 71.27 326.3 76.01 326.7 81.20 327.1 86.40 327.5 91.19 327.9 95.19 328.3 98.07 328.7 99.60 329.1 99.66 329.5 98.25 329.9 95.48 330.3 91.59 330.7 86.89 331.1 81.78 331.5 76.67 331.9 71.97 332.3 68.07 332.7 65.29 333.1 63.85 333.5 63.85 333.9 65.30 334.3 68.08 334.7 71.95 335.1 76.60 335.5 81.64 335.9 86.66 336.3 91.26 336.7 95.05 337.1 97.74 337.5 99.10 337.9 99.03 338.3 97.55 338.7 94.76 339.1 90.91 339.5 86.32 339.9 81.35 340.3 76.42 340.7 71.96 341.1 68.31 341.5 65.76 341.9 64.52 342.3 64.69 342.7 66.22 343.1 69.00 343.5 72.78 343.9 77.25 344.3 82.05 344.7 86.77 345.1 91.03 345.5 94.50 345.9 96.89 346.3 98.02 346.7 97.81 347.1 96.28 347.5 93.56 347.9 89.90 348.3 85.58 348.7 80.98 349.1 76.46 349.5 72.39 349.9 69.11 350.3 66.86 350.7 65.84 351.1 66.10 351.5 67.64 351.9 70.31 352.3 73.89 352.7 78.07 353.1 82.52 353.5 86.85 353.9 90.71 354.3 93.80 354.7 95.85 355.1 96.72 355.5 96.34 355.9 94.75 356.3 92.09 356.7 88.60 357.1 84.55 357.5 80.30 357.9 76.19 358.3 72.56 358.7 69.70 359.1 67.84 359.5 67.14 359.9 67.61 360.3 69.21 360.7 71.78 361.1 75.11 361.5 78.92 361.9 82.90 362.3 86.73 362.7 90.11 363.1 92.77 363.5 94.51 363.9 95.20 364.3 94.79 364.7 93.34 365.1 90.97 365.5 87.88 365.9 84.33 366.3 80.60 366.7 76.99 367.1 73.80 367.5 71.27 367.9 69.59 368.3 68.89 368.7 69.22 369.1 70.53 369.5 72.70 369.9 75.56 370.3 78.86 370.7 82.34 371.1 85.71 371.5 88.71 371.9 91.11 372.3 92.71 372.7 93.41 373.1 93.16 373.5 91.99 373.9 90.01 374.3 87.38 374.7 84.33 375.1 81.10 375.5 77.96 375.9 75.16 376.3 72.90 376.7 71.37 377.1 70.68 377.5 70.87 377.9 71.92 378.3 73.74 378.7 76.16 379.1 78.98 379.5 81.97 379.9 84.89 380.3 87.50 380.7 89.60 381.1 91.03 381.5 91.68 381.9 91.51 382.3 90.54 382.7 88.87 383.1 86.63 383.5 84.02 383.9 81.25 384.3 78.55 384.7 76.14 385.1 74.20 385.5 72.88 385.9 72.29 386.3 72.45 386.7 73.34 387.1 74.87 387.5 76.92 387.9 79.31 388.3 81.84 388.7 84.32 389.1 86.54 389.5 88.33 389.9 89.56 390.3 90.13 390.7 90.02 391.1 89.23 391.5 87.85 391.9 86.00 392.3 83.83 392.7 81.51 393.1 79.24 393.5 77.20 393.9 75.55 394.3 74.40 394.7 73.85 395.1 73.92 395.5 74.61 395.9 75.84 396.3 77.50 396.7 79.46 397.1 81.56 397.5 83.62 397.9 85.48 398.3 86.99 398.7 88.05 399.1 88.57 399.5 88.53 399.9 87.94 400.3 86.87 400.7 85.40 401.1 83.65 401.5 81.75 401.9 79.86 402.3 78.13 402.7 76.70 403.1 75.67 403.5 75.13 403.9 75.11 404.3 75.61 404.7 76.58 405.1 77.94 405.5 79.58 405.9 81.36 406.3 83.13 406.7 84.76 407.1 86.12 407.5 87.11 407.9 87.64 408.3 87.68 408.7 87.24 409.1 86.35 409.5 85.10 409.9 83.58 410.3 81.92 410.7 80.26 411.1 78.73 411.5 77.45 411.9 76.51 412.3 75.99 412.7 75.93 413.1 76.32 413.5 77.12 413.9 78.27 414.3 79.68 414.7 81.21 415.1 82.75 415.5 84.19 415.9 85.39 416.3 86.28 416.7 86.78 417.1 86.86 417.5 86.52 417.9 85.79 418.3 84.74 418.7 83.46 419.1 82.04 419.5 80.62 419.9 79.29 420.3 78.16 420.7 77.33 421.1 76.85 421.5 76.76 421.9 77.05 422.3 77.66 422.7 78.59 423.1 79.76 423.5 81.09 423.9 82.48 424.3 83.81 424.7 84.97 425.1 85.87 425.5 86.44 425.9 86.62 426.3 86.40 426.7 85.79 427.1 84.83 427.5 83.61 427.9 82.22 428.3 80.76 428.7 79.36 429.1 78.12 429.5 77.16 429.9 76.54 430.3 76.33 430.7 76.54 431.1 77.16 431.5 78.14 431.9 79.41 432.3 80.87 432.7 82.39 433.1 83.87 433.5 85.18 433.9 86.20 434.3 86.87 434.7 87.12 435.1 86.92 435.5 86.30 435.9 85.29 436.3 83.97 436.7 82.46 437.1 80.86 437.5 79.31 437.9 77.93 438.3 76.84 438.7 76.12 439.1 75.83 439.5 76.01 439.9 76.64 440.3 77.68 440.7 79.03 441.1 80.61 441.5 82.28 441.9 83.90 442.3 85.35 442.7 86.51 443.1 87.29 443.5 87.61 443.9 87.45 444.3 86.82 444.7 85.76 445.1 84.37 445.5 82.74 445.9 80.99 446.3 79.28 446.7 77.73 447.1 76.47 447.5 75.61 447.9 75.23 448.3 75.36 448.7 75.99 449.1 77.10 449.5 78.58 449.9 80.33 450.3 82.20 450.7 84.04 451.1 85.71 451.5 87.06 451.9 87.98 452.3 88.40 452.7 88.26 453.1 87.58 453.5 86.40 453.9 84.82 454.3 82.96 454.7 80.96 455.1 79.00 455.5 77.23 455.9 75.79 456.3 74.81 456.7 74.38 457.1 74.53 457.5 75.24 457.9 76.48 458.3 78.15 458.7 80.11 459.1 82.21 459.5 84.29 459.9 86.16 460.3 87.69 460.7 88.75 461.1 89.24 461.5 89.12 461.9 88.39 462.3 87.10 462.7 85.36 463.1 83.30 463.5 81.08 463.9 78.88 464.3 76.88 464.7 75.24 465.1 74.10 465.5 73.55 465.9 73.64 466.3 74.38 466.7 75.70 467.1 77.51 467.5 79.67 467.9 82.01 468.3 84.33 468.7 86.46 469.1 88.21 469.5 89.45 469.9 90.06 470.3 90.00 470.7 89.26 471.1 87.90 471.5 86.02 471.9 83.76 472.3 81.31 472.7 78.86 473.1 76.61 473.5 74.75 473.9 73.41 474.3 72.73 474.7 72.76 475.1 73.51 475.5 74.94 475.9 76.92 476.3 79.29 476.7 81.85 477.1 84.40 477.5 86.73 477.9 88.65 478.3 90.00 478.7 90.67 479.1 90.60 479.5 89.80 479.9 88.33 480.3 86.31 480.7 83.89 481.1 81.29 481.5 78.70 481.9 76.34 482.3 74.40 482.7 73.05 483.1 72.38 483.5 72.47 483.9 73.30 484.3 74.81 484.7 76.88 485.1 79.35 485.5 82.00 485.9 84.63 486.3 87.02 486.7 88.97 487.1 90.33 487.5 90.97 487.9 90.86 488.3 89.98 488.7 88.42 489.1 86.29 489.5 83.78 489.9 81.08 490.3 78.41 490.7 76.00 491.1 74.04 491.5 72.69 491.9 72.07 492.3 72.22 492.7 73.13 493.1 74.73 493.5 76.89 493.9 79.44 494.3 82.17 494.7 84.86 495.1 87.29 495.5 89.27 495.9 90.64 496.3 91.27 496.7 91.13 497.1 90.22 497.5 88.60 497.9 86.42 498.3 83.84 498.7 81.07 499.1 78.33 499.5 75.86 499.9 73.84 500.3 72.44 500.7 71.78 501.1 71.92 501.5 72.84 501.9 74.49 502.3 76.72 502.7 79.35 503.1 82.18 503.5 84.97 503.9 87.49 504.3 89.53 504.7 90.93 505.1 91.57 505.5 91.40 505.9 90.42 506.3 88.73 506.7 86.44 507.1 83.76 507.5 80.89 507.9 78.07 508.3 75.54 508.7 73.50 509.1 72.11 509.5 71.50 509.9 71.71 510.3 72.73 510.7 74.47 511.1 76.81 511.5 79.54 511.9 82.44 512.3 85.28 512.7 87.83 513.1 89.88 513.5 91.25 513.9 91.83 514.3 91.59 514.7 90.52 515.1 88.72 515.5 86.34 515.9 83.57 516.3 80.62 516.7 77.75 517.1 75.19 517.5 73.15 517.9 71.80 518.3 71.24 518.7 71.52 519.1 72.63 519.5 74.47 519.9 76.90 520.3 79.71 520.7 82.68 521.1 85.57 521.5 88.15 521.9 90.19 522.3 91.54 522.7 92.09 523.1 91.78 523.5 90.64 523.9 88.77 524.3 86.30 524.7 83.45 525.1 80.44 525.5 77.52 525.9 74.93 526.3 72.87 526.7 71.52 527.1 70.99 527.5 71.31 527.9 72.48 528.3 74.38 528.7 76.88 529.1 79.76 529.5 82.80 529.9 85.75 530.3 88.36 530.7 90.44 531.1 91.80 531.5 92.33 531.9 92.00 532.3 90.82 532.7 88.89 533.1 86.37 533.5 83.46 533.9 80.39 534.3 77.41 534.7 74.77 535.1 72.67 535.5 71.30 535.9 70.76 536.3 71.10 536.7 72.30 537.1 74.27 537.5 76.84 537.9 79.80 538.3 82.92 538.7 85.94 539.1 88.60 539.5 90.70 539.9 92.06 540.3 92.56 540.7 92.16 541.1 90.90 541.5 88.87 541.9 86.25 542.3 83.24 542.7 80.09 543.1 77.05 543.5 74.39 543.9 72.31 544.3 70.99 544.7 70.53 545.1 70.99 545.5 72.32 545.9 74.43 546.3 77.13 546.7 80.21 547.1 83.41 547.5 86.47 547.9 89.12 548.3 91.16 548.7 92.41 549.1 92.77 549.5 92.20 549.9 90.76 550.3 88.55 550.7 85.77 551.1 82.63 551.5 79.40 551.9 76.35 552.3 73.73 552.7 71.76 553.1 70.59 553.5 70.34 553.9 71.02 554.3 72.57 554.7 74.88 555.1 77.75 555.5 80.94 555.9 84.19 556.3 87.23 556.7 89.81 557.1 91.72 557.5 92.79 557.9 92.94 558.3 92.15 558.7 90.48 559.1 88.08 559.5 85.13 559.9 81.89 560.3 78.62 560.7 75.59 561.1 73.05 561.5 71.22 561.9 70.24 562.3 70.21 562.7 71.13 563.1 72.91 563.5 75.41 563.9 78.42 564.3 81.69 564.7 84.95 565.1 87.92 565.5 90.37 565.9 92.09 566.3 92.94 566.7 92.85 567.1 91.84 567.5 89.97 567.9 87.42 568.3 84.39 568.7 81.13 569.1 77.92 569.5 75.01 569.9 72.65 570.3 71.04 570.7 70.30 571.1 70.50 571.5 71.62 571.9 73.58 572.3 76.20 572.7 79.27 573.1 82.54 573.5 85.72 573.9 88.55 574.3 90.80 574.7 92.28 575.1 92.86 575.5 92.50 575.9 91.23 576.3 89.16 576.7 86.46 577.1 83.36 577.5 80.11 577.9 76.99 578.3 74.26 578.7 72.15 579.1 70.83 579.5 70.41 579.9 70.93 580.3 72.34 580.7 74.52 581.1 77.28 581.5 80.41 581.9 83.63 582.3 86.68 582.7 89.30 583.1 91.27 583.5 92.43 583.9 92.69 584.3 92.02 584.7 90.48 585.1 88.20 585.5 85.37 585.9 82.23 586.3 79.04 586.7 76.07 587.1 73.57 587.5 71.74 587.9 70.73 588.3 70.64 588.7 71.46 589.1 73.13 589.5 75.50 589.9 78.38 590.3 81.53 590.7 84.66 591.1 87.53 591.5 89.88 591.9 91.53 592.3 92.35 592.7 92.26 593.1 91.29 593.5 89.51 593.9 87.08 594.3 84.21 594.7 81.14 595.1 78.12 595.5 75.41 595.9 73.23 596.3 71.75 596.7 71.11 597.1 71.35 597.5 72.44 597.9 74.29 598.3 76.73 598.7 79.57 599.1 82.57 599.5 85.46 599.9 88.02 600.3 90.03 600.7 91.32 601.1 91.80 601.5 91.42 601.9 90.23 602.3 88.32 602.7 85.87 603.1 83.07 603.5 80.16 603.9 77.40 604.3 75.00 604.7 73.16 605.1 72.04 605.5 71.72 605.9 72.22 606.3 73.49 606.7 75.43 607.1 77.86 607.5 80.59 607.9 83.38 608.3 86.01 608.7 88.26 609.1 89.95 609.5 90.94 609.9 91.15 610.3 90.58 610.7 89.26 611.1 87.32 611.5 84.93 611.9 82.27 612.3 79.57 612.7 77.06 613.1 74.94 613.5 73.38 613.9 72.50 614.3 72.39 614.7 73.02 615.1 74.36 615.5 76.28 615.9 78.62 616.3 81.18 616.7 83.76 617.1 86.13 617.5 88.12 617.9 89.55 618.3 90.32 618.7 90.38 619.1 89.72 619.5 88.40 619.9 86.54 620.3 84.30 620.7 81.85 621.1 79.41 621.5 77.17 621.9 75.31 622.3 73.98 622.7 73.28 623.1 73.27 623.5 73.94 623.9 75.23 624.3 77.02 624.7 79.17 625.1 81.50 625.5 83.81 625.9 85.92 626.3 87.66 626.7 88.88 627.1 89.50 627.5 89.47 627.9 88.80 628.3 87.55 628.7 85.83 629.1 83.78 629.5 81.57 629.9 79.39 630.3 77.41 630.7 75.79 631.1 74.67 631.5 74.12 631.9 74.18 632.3 74.84 632.7 76.04 633.1 77.68 633.5 79.61 633.9 81.69 634.3 83.73 634.7 85.58 635.1 87.09 635.5 88.14 635.9 88.65 636.3 88.59 636.7 87.96 637.1 86.83 637.5 85.29 637.9 83.47 638.3 81.52 638.7 79.60 639.1 77.86 639.5 76.45 639.9 75.46 640.3 74.98 640.7 75.04 641.1 75.63 641.5 76.70 641.9 78.15 642.3 79.86 642.7 81.70 643.1 83.51 643.5 85.14 643.9 86.47 644.3 87.39 644.7 87.83 645.1 87.76 645.5 87.19 645.9 86.18 646.3 84.80 646.7 83.18 647.1 81.46 647.5 79.76 647.9 78.24 648.3 77.00 648.7 76.15 649.1 75.75 649.5 75.84 649.9 76.39 650.3 77.37 650.7 78.68 651.1 80.22 651.5 81.85 651.9 83.44 652.3 84.86 652.7 85.99 653.1 86.75 653.5 87.07 653.9 86.94 654.3 86.37 654.7 85.42 655.1 84.17 655.5 82.72 655.9 81.19 656.3 79.73 656.7 78.43 657.1 77.42 657.5 76.76 657.9 76.51 658.3 76.68 658.7 77.24 659.1 78.15 659.5 79.32 659.9 80.67 660.3 82.07 660.7 83.42 661.1 84.61 661.5 85.55 661.9 86.15 662.3 86.38 662.7 86.21 663.1 85.68 663.5 84.82 663.9 83.71 664.3 82.45 664.7 81.12" fill="none" stroke="#21479d" stroke-width="1.25" stroke-linejoin="round" stroke-linecap="butt"/>
<path d="M14.7 134.55 15.3 134.50 15.9 134.38 16.5 134.32 17.0 134.36 17.5 134.47 18.0 134.64 18.6 134.88 19.1 135.18 19.6 135.52 20.1 135.91 20.6 136.32 21.1 136.75 21.6 137.19 22.1 137.62 22.6 138.04 23.1 138.42 23.6 138.77 24.2 139.06 24.7 139.30 25.2 139.48 25.7 139.59 26.2 139.62 26.7 139.56 27.2 139.37 27.7 139.05 28.2 138.62 28.7 138.07 29.3 137.43 29.8 136.70 30.3 135.89 30.8 135.03 31.3 134.12 31.8 133.18 32.3 132.24 32.8 131.31 33.3 130.40 33.9 129.53 34.4 128.73 34.9 127.99 35.4 127.35 35.9 126.81 36.4 126.37 36.9 126.06 37.4 125.86 37.9 125.80 38.5 125.91 39.0 126.25 39.5 126.80 40.0 127.56 40.5 128.51 41.0 129.62 41.6 130.87 42.1 132.23 42.6 133.68 43.1 135.18 43.6 136.69 44.1 138.19 44.6 139.64 45.2 141.00 45.7 142.26 46.2 143.37 46.7 144.31 47.2 145.07 47.7 145.62 48.3 145.96 48.8 146.07 49.3 145.96 49.8 145.63 50.3 145.09 50.8 144.35 51.3 143.41 51.8 142.31 52.3 141.05 52.8 139.67 53.3 138.18 53.8 136.62 54.3 135.02 54.8 133.40 55.3 131.79 55.8 130.24 56.3 128.75 56.8 127.37 57.3 126.11 57.8 125.01 58.3 124.07 58.8 123.33 59.3 122.79 59.8 122.46 60.3 122.35 60.8 122.47 61.3 122.83 61.8 123.42 62.3 124.23 62.8 125.24 63.3 126.44 63.8 127.79 64.3 129.28 64.8 130.87 65.3 132.52 65.8 134.21 66.3 135.90 66.8 137.55 67.3 139.14 67.8 140.62 68.3 141.98 68.8 143.17 69.3 144.19 69.8 145.00 70.3 145.59 70.8 145.95 71.3 146.07 71.9 145.96 72.4 145.64 72.9 145.10 73.4 144.37 73.9 143.46 74.4 142.39 75.0 141.18 75.5 139.86 76.0 138.46 76.5 137.01 77.0 135.55 77.5 134.10 78.0 132.71 78.6 131.39 79.1 130.18 79.6 129.11 80.1 128.19 80.6 127.46 81.1 126.93 81.7 126.60 82.2 126.49 82.7 126.58 83.2 126.83 83.7 127.26 84.3 127.83 84.8 128.54 85.3 129.36 85.8 130.28 86.3 131.27 86.9 132.30 87.4 133.35 87.9 134.38 88.4 135.37 88.9 136.29 89.5 137.12 90.0 137.83 90.5 138.40 91.0 138.82 91.6 139.08 92.1 139.16 92.6 139.10 93.1 138.90 93.6 138.59 94.1 138.17 94.6 137.65 95.1 137.05 95.6 136.40 96.1 135.71 96.6 135.01 97.1 134.32 97.6 133.67 98.1 133.07 98.6 132.55 99.1 132.13 99.6 131.82 100.1 131.62 100.6 131.56 101.1 131.63 101.6 131.84 102.1 132.18 102.6 132.64 103.2 133.21 103.7 133.86 104.2 134.59 104.7 135.37 105.2 136.17 105.7 136.97 106.2 137.74 106.7 138.47 107.3 139.13 107.8 139.70 108.3 140.16 108.8 140.50 109.3 140.70 109.8 140.77 110.3 140.67 110.9 140.37 111.4 139.87 111.9 139.19 112.4 138.35 112.9 137.36 113.4 136.25 114.0 135.04 114.5 133.78 115.0 132.48 115.5 131.18 116.0 129.92 116.6 128.72 117.1 127.61 117.6 126.62 118.1 125.77 118.6 125.09 119.1 124.59 119.7 124.29 120.2 124.19 120.7 124.34 121.2 124.78 121.7 125.51 122.3 126.50 122.8 127.73 123.3 129.17 123.8 130.79 124.3 132.54 124.8 134.39 125.4 136.28 125.9 138.17 126.4 140.02 126.9 141.77 127.4 143.39 128.0 144.83 128.5 146.07 129.0 147.06 129.5 147.78 130.0 148.23 130.5 148.38 131.0 148.25 131.5 147.85 132.0 147.21 132.6 146.33 133.1 145.22 133.6 143.92 134.1 142.43 134.6 140.79 135.1 139.03 135.6 137.18 136.1 135.28 136.6 133.36 137.1 131.46 137.6 129.62 138.1 127.86 138.6 126.22 139.1 124.73 139.6 123.42 140.1 122.32 140.6 121.44 141.1 120.79 141.6 120.40 142.1 120.27 142.6 120.44 143.1 120.94 143.6 121.77 144.1 122.89 144.7 124.29 145.2 125.92 145.7 127.76 146.2 129.74 146.7 131.83 147.2 133.98 147.8 136.12 148.3 138.21 148.8 140.20 149.3 142.03 149.8 143.67 150.4 145.07 150.9 146.19 151.4 147.01 151.9 147.52 152.4 147.68 152.9 147.57 153.4 147.23 153.9 146.68 154.4 145.91 154.9 144.96 155.4 143.83 155.9 142.55 156.5 141.15 157.0 139.66 157.5 138.10 158.0 136.51 158.5 134.92 159.0 133.36 159.5 131.87 160.0 130.47 160.5 129.20 161.0 128.07 161.5 127.11 162.0 126.35 162.5 125.79 163.0 125.45 163.5 125.34 164.0 125.44 164.5 125.76 165.0 126.27 165.6 126.96 166.1 127.81 166.6 128.80 167.1 129.89 167.6 131.05 168.1 132.25 168.6 133.45 169.2 134.61 169.7 135.71 170.2 136.69 170.7 137.54 171.2 138.24 171.7 138.74 172.2 139.06 172.8 139.16 173.3 139.10 173.8 138.92 174.3 138.62 174.8 138.22 175.3 137.73 175.8 137.17 176.3 136.57 176.8 135.94 177.3 135.31 177.8 134.70 178.3 134.14 178.8 133.66 179.3 133.25 179.8 132.96 180.3 132.77 180.8 132.71 181.3 132.79 181.9 133.01 182.4 133.37 182.9 133.85 183.4 134.45 183.9 135.14 184.4 135.89 184.9 136.68 185.5 137.49 186.0 138.29 186.5 139.04 187.0 139.73 187.5 140.32 188.0 140.81 188.6 141.17 189.1 141.39 189.6 141.47 190.1 141.34 190.6 140.97 191.1 140.37 191.7 139.55 192.2 138.53 192.7 137.33 193.2 135.99 193.7 134.54 194.2 133.01 194.8 131.44 195.3 129.88 195.8 128.35 196.3 126.90 196.8 125.55 197.4 124.36 197.9 123.34 198.4 122.52 198.9 121.91 199.4 121.55 199.9 121.42 200.4 121.59 201.0 122.09 201.5 122.90 202.0 124.02 202.5 125.42 203.0 127.07 203.5 128.94 204.0 130.98 204.5 133.17 205.0 135.45 205.5 137.78 206.0 140.11 206.5 142.39 207.0 144.57 207.5 146.62 208.0 148.49 208.5 150.14 209.0 151.54 209.5 152.66 210.0 153.47 210.5 153.97 211.0 154.13 211.5 153.92 212.0 153.27 212.5 152.21 213.1 150.75 213.6 148.93 214.1 146.78 214.6 144.35 215.1 141.68 215.6 138.83 216.1 135.86 216.6 132.83 217.2 129.79 217.7 126.82 218.2 123.97 218.7 121.31 219.2 118.87 219.7 116.72 220.2 114.90 220.8 113.44 221.3 112.38 221.8 111.73 222.3 111.52 222.8 111.78 223.3 112.58 223.8 113.88 224.3 115.66 224.8 117.88 225.3 120.50 225.8 123.44 226.3 126.65 226.8 130.06 227.3 133.58 227.8 137.14 228.3 140.67 228.9 144.07 229.4 147.28 229.9 150.23 230.4 152.84 230.9 155.06 231.4 156.84 231.9 158.14 232.4 158.94 232.9 159.20 233.4 158.94 233.9 158.14 234.4 156.84 235.0 155.06 235.5 152.84 236.0 150.23 236.5 147.28 237.0 144.07 237.5 140.67 238.0 137.14 238.6 133.58 239.1 130.06 239.6 126.65 240.1 123.44 240.6 120.50 241.1 117.88 241.7 115.66 242.2 113.88 242.7 112.58 243.2 111.78 243.7 111.52 244.2 111.76 244.7 112.49 245.3 113.69 245.8 115.32 246.3 117.36 246.8 119.76 247.3 122.46 247.8 125.41 248.4 128.53 248.9 131.77 249.4 135.04 249.9 138.27 250.4 141.40 250.9 144.34 251.4 147.05 252.0 149.44 252.5 151.48 253.0 153.12 253.5 154.31 254.0 155.04 254.5 155.29 255.1 155.05 255.6 154.36 256.1 153.22 256.6 151.66 257.1 149.72 257.7 147.45 258.2 144.91 258.7 142.15 259.2 139.25 259.7 136.28 260.2 133.31 260.8 130.41 261.3 127.65 261.8 125.11 262.3 122.84 262.8 120.91 263.4 119.35 263.9 118.21 264.4 117.51 264.9 117.28 265.4 117.51 266.0 118.19 266.5 119.32 267.0 120.85 267.5 122.74 268.0 124.95 268.6 127.41 269.1 130.05 269.6 132.81 270.1 135.61 270.6 138.37 271.2 141.01 271.7 143.47 272.2 145.68 272.7 147.57 273.3 149.10 273.8 150.22 274.3 150.91 274.8 151.14 275.3 150.93 275.9 150.29 276.4 149.26 276.9 147.84 277.4 146.08 277.9 144.02 278.4 141.71 279.0 139.20 279.5 136.57 280.0 133.86 280.5 131.16 281.0 128.52 281.6 126.02 282.1 123.71 282.6 121.65 283.1 119.89 283.6 118.47 284.1 117.43 284.7 116.80 285.2 116.59 285.7 116.81 286.2 117.46 286.7 118.54 287.2 120.01 287.8 121.84 288.3 124.00 288.8 126.43 289.3 129.09 289.8 131.90 290.3 134.81 290.9 137.75 291.4 140.66 291.9 143.48 292.4 146.13 292.9 148.56 293.4 150.72 293.9 152.56 294.5 154.03 295.0 155.10 295.5 155.76 296.0 155.98 296.5 155.75 297.0 155.08 297.5 153.97 298.0 152.45 298.5 150.55 299.0 148.31 299.5 145.77 300.0 142.98 300.5 140.01 301.0 136.91 301.5 133.75 302.0 130.58 302.5 127.49 303.0 124.51 303.5 121.73 304.0 119.19 304.6 116.95 305.1 115.05 305.6 113.53 306.1 112.42 306.6 111.74 307.1 111.52 307.6 111.80 308.1 112.65 308.6 114.03 309.1 115.92 309.7 118.27 310.2 121.01 310.7 124.10 311.2 127.44 311.7 130.95 312.2 134.55 312.8 138.16 313.3 141.67 313.8 145.01 314.3 148.09 314.8 150.84 315.4 153.19 315.9 155.08 316.4 156.46 316.9 157.31 317.4 157.59 317.9 157.38 318.4 156.74 318.9 155.69 319.4 154.24 319.9 152.44 320.4 150.32 320.9 147.91 321.5 145.27 322.0 142.45 322.5 139.51 323.0 136.51 323.5 133.51 324.0 130.57 324.5 127.76 325.0 125.12 325.5 122.71 326.0 120.58 326.5 118.78 327.0 117.34 327.5 116.29 328.0 115.65 328.5 115.43 329.0 115.62 329.5 116.16 330.0 117.04 330.5 118.26 331.0 119.77 331.5 121.55 332.0 123.55 332.5 125.74 333.1 128.06 333.6 130.46 334.1 132.89 334.6 135.29 335.1 137.61 335.6 139.79 336.1 141.80 336.6 143.58 337.1 145.09 337.6 146.31 338.1 147.19 338.6 147.73 339.1 147.92 339.7 147.81 340.2 147.49 340.7 146.97 341.2 146.25 341.7 145.36 342.2 144.32 342.8 143.14 343.3 141.85 343.8 140.48 344.3 139.07 344.8 137.64 345.3 136.23 345.8 134.86 346.4 133.58 346.9 132.39 347.4 131.35 347.9 130.46 348.4 129.74 348.9 129.22 349.5 128.90 350.0 128.80 350.5 128.89 351.0 129.16 351.6 129.60 352.1 130.18 352.6 130.88 353.1 131.66 353.7 132.48 354.2 133.30 354.7 134.08 355.2 134.78 355.8 135.36 356.3 135.80 356.8 136.07 357.3 136.17 357.9 136.09 358.4 135.87 358.9 135.51 359.4 135.02 359.9 134.43 360.5 133.75 361.0 133.01 361.5 132.25 362.0 131.49 362.5 130.75 363.0 130.07 363.6 129.48 364.1 128.99 364.6 128.63 365.1 128.41 365.6 128.33 366.2 128.46 366.7 128.81 367.2 129.40 367.7 130.20 368.2 131.20 368.7 132.37 369.3 133.68 369.8 135.10 370.3 136.59 370.8 138.12 371.3 139.66 371.9 141.15 372.4 142.57 372.9 143.88 373.4 145.05 373.9 146.05 374.4 146.85 375.0 147.44 375.5 147.79 376.0 147.92 376.5 147.75 377.0 147.26 377.5 146.46 378.1 145.36 378.6 143.98 379.1 142.35 379.6 140.51 380.1 138.49 380.6 136.33 381.1 134.08 381.6 131.79 382.2 129.50 382.7 127.25 383.2 125.09 383.7 123.07 384.2 121.23 384.7 119.60 385.2 118.22 385.8 117.12 386.3 116.32 386.8 115.83 387.3 115.66 387.8 115.87 388.3 116.48 388.8 117.48 389.3 118.85 389.8 120.56 390.3 122.58 390.8 124.87 391.3 127.38 391.8 130.06 392.3 132.85 392.8 135.71 393.3 138.56 393.8 141.35 394.3 144.03 394.8 146.54 395.3 148.83 395.8 150.85 396.3 152.57 396.8 153.94 397.3 154.94 397.8 155.54 398.3 155.75 398.9 155.51 399.4 154.82 399.9 153.67 400.4 152.10 400.9 150.15 401.4 147.85 402.0 145.27 402.5 142.44 403.0 139.45 403.5 136.35 404.0 133.22 404.5 130.12 405.1 127.13 405.6 124.30 406.1 121.71 406.6 119.42 407.1 117.46 407.6 115.90 408.1 114.75 408.7 114.06 409.2 113.82 409.7 114.02 410.2 114.59 410.7 115.54 411.2 116.84 411.7 118.46 412.2 120.38 412.7 122.55 413.2 124.93 413.7 127.47 414.2 130.12 414.7 132.83 415.2 135.53 415.7 138.18 416.2 140.72 416.7 143.10 417.2 145.27 417.7 147.19 418.2 148.81 418.7 150.11 419.2 151.06 419.7 151.64 420.2 151.83 420.8 151.65 421.3 151.11 421.8 150.22 422.3 149.02 422.8 147.51 423.3 145.75 423.9 143.78 424.4 141.64 424.9 139.39 425.4 137.09 425.9 134.78 426.5 132.53 427.0 130.39 427.5 128.42 428.0 126.66 428.5 125.16 429.0 123.95 429.6 123.07 430.1 122.53 430.6 122.35 431.1 122.49 431.6 122.91 432.2 123.59 432.7 124.53 433.2 125.69 433.7 127.04 434.2 128.55 434.8 130.17 435.3 131.86 435.8 133.57 436.3 135.26 436.9 136.88 437.4 138.38 437.9 139.73 438.4 140.89 438.9 141.83 439.5 142.52 440.0 142.94 440.5 143.08 441.0 142.96 441.5 142.59 442.0 142.00 442.6 141.19 443.1 140.20 443.6 139.05 444.1 137.77 444.6 136.42 445.1 135.01 445.6 133.61 446.1 132.26 446.6 130.98 447.2 129.83 447.7 128.84 448.2 128.03 448.7 127.44 449.2 127.07 449.7 126.95 450.2 127.08 450.7 127.45 451.2 128.06 451.8 128.90 452.3 129.93 452.8 131.13 453.3 132.47 453.8 133.90 454.3 135.41 454.8 136.93 455.3 138.43 455.8 139.87 456.3 141.21 456.8 142.41 457.4 143.44 457.9 144.27 458.4 144.88 458.9 145.26 459.4 145.38 459.9 145.24 460.4 144.82 460.9 144.14 461.5 143.20 462.0 142.03 462.5 140.65 463.0 139.10 463.5 137.41 464.0 135.62 464.6 133.76 465.1 131.89 465.6 130.03 466.1 128.24 466.6 126.55 467.1 125.00 467.6 123.62 468.2 122.45 468.7 121.52 469.2 120.83 469.7 120.41 470.2 120.27 470.7 120.44 471.2 120.96 471.7 121.80 472.2 122.95 472.7 124.39 473.2 126.08 473.8 127.99 474.3 130.07 474.8 132.27 475.3 134.55 475.8 136.86 476.3 139.14 476.8 141.34 477.3 143.42 477.8 145.33 478.3 147.02 478.8 148.46 479.3 149.61 479.8 150.45 480.3 150.97 480.8 151.14 481.3 150.97 481.8 150.45 482.4 149.59 482.9 148.42 483.4 146.95 483.9 145.22 484.4 143.26 484.9 141.11 485.4 138.81 485.9 136.42 486.5 133.98 487.0 131.54 487.5 129.14 488.0 126.85 488.5 124.70 489.0 122.74 489.5 121.01 490.1 119.54 490.6 118.37 491.1 117.51 491.6 116.99 492.1 116.82 492.6 117.00 493.1 117.56 493.7 118.47 494.2 119.72 494.7 121.27 495.2 123.10 495.7 125.17 496.3 127.42 496.8 129.80 497.3 132.27 497.8 134.77 498.3 137.23 498.8 139.62 499.4 141.87 499.9 143.93 500.4 145.76 500.9 147.32 501.4 148.56 502.0 149.48 502.5 150.03 503.0 150.22 503.5 150.09 504.0 149.69 504.6 149.05 505.1 148.16 505.6 147.04 506.1 145.72 506.6 144.22 507.2 142.57 507.7 140.80 508.2 138.93 508.7 137.02 509.2 135.08 509.8 133.17 510.3 131.31 510.8 129.53 511.3 127.88 511.8 126.38 512.4 125.06 512.9 123.95 513.4 123.06 513.9 122.41 514.5 122.02 515.0 121.88 515.5 121.99 516.0 122.31 516.5 122.84 517.0 123.57 517.5 124.47 518.0 125.54 518.5 126.75 519.0 128.08 519.5 129.50 520.0 130.97 520.5 132.48 521.0 133.99 521.5 135.47 522.0 136.88 522.5 138.21 523.0 139.42 523.5 140.49 524.0 141.40 524.5 142.12 525.0 142.65 525.5 142.97 526.0 143.08 526.5 143.03 527.0 142.87 527.6 142.62 528.1 142.27 528.6 141.82 529.1 141.30 529.6 140.70 530.1 140.03 530.6 139.31 531.1 138.54 531.6 137.74 532.1 136.92 532.6 136.10 533.1 135.28 533.6 134.48 534.1 133.72 534.6 132.99 535.2 132.33 535.7 131.73 536.2 131.20 536.7 130.76 537.2 130.41 537.7 130.15 538.2 130.00 538.7 129.95 539.2 129.96 539.7 130.01 540.2 130.08 540.7 130.18 541.2 130.31 541.7 130.47 542.2 130.65 542.8 130.86 543.3 131.09 543.8 131.33 544.3 131.60 544.8 131.89 545.3 132.18 545.8 132.49 546.3 132.81 546.8 133.14 547.3 133.47 547.8 133.80 548.3 134.13 548.8 134.45 549.3 134.77 549.9 135.08 550.4 135.38 550.9 135.66 551.4 135.93 551.9 136.18 552.4 136.41 552.9 136.61 553.4 136.80 553.9 136.95 554.4 137.08 554.9 137.19 555.4 137.26 555.9 137.30 556.4 137.32 556.9 137.29 557.5 137.21 558.0 137.08 558.5 136.90 559.0 136.68 559.5 136.41 560.0 136.10 560.5 135.76 561.0 135.40 561.5 135.01 562.0 134.61 562.5 134.21 563.1 133.80 563.6 133.40 564.1 133.02 564.6 132.65 565.1 132.32 565.6 132.01 566.1 131.74 566.6 131.52 567.1 131.34 567.6 131.20 568.1 131.13 568.6 131.10 569.1 131.13 569.6 131.21 570.2 131.36 570.7 131.55 571.2 131.80 571.7 132.09 572.2 132.42 572.7 132.78 573.2 133.17 573.7 133.58 574.2 134.00 574.7 134.42 575.2 134.84 575.7 135.25 576.2 135.64 576.7 136.00 577.2 136.33 577.7 136.62 578.2 136.87 578.7 137.06 579.2 137.20 579.7 137.29 580.2 137.32 580.7 137.30 581.2 137.23 581.7 137.13 582.2 136.98 582.7 136.80 583.2 136.59 583.7 136.34 584.2 136.07 584.7 135.79 585.2 135.48 585.7 135.17 586.2 134.86 586.7 134.55 587.2 134.24 587.7 133.96 588.2 133.69 588.7 133.44 589.2 133.23 589.7 133.05 590.2 132.90 590.7 132.80 591.2 132.73 591.7 132.71 592.2 132.73 592.7 132.77 593.2 132.85 593.7 132.95 594.2 133.08 594.7 133.22 595.2 133.38 595.7 133.55 596.2 133.72 596.7 133.88 597.2 134.04 597.7 134.19 598.2 134.31 598.7 134.42 599.2 134.49 599.7 134.54 600.2 134.55 600.7 134.54 601.2 134.50 601.7 134.44 602.3 134.36 602.8 134.28 603.3 134.21 603.8 134.15 604.3 134.11 604.8 134.09 605.3 134.12 605.8 134.18 606.3 134.29 606.9 134.43 607.4 134.61 607.9 134.82 608.4 135.06 608.9 135.31 609.4 135.57 609.9 135.84 610.4 136.10 610.9 136.35 611.4 136.59 611.9 136.80 612.5 136.98 613.0 137.12 613.5 137.23 614.0 137.30 614.5 137.32 615.0 137.27 615.5 137.14 616.0 136.91 616.5 136.61 617.0 136.22 617.5 135.77 618.0 135.26 618.5 134.69 619.0 134.09 619.5 133.47 620.0 132.83 620.5 132.19 621.0 131.56 621.5 130.96 622.0 130.40 622.5 129.88 623.0 129.43 623.5 129.05 624.0 128.74 624.5 128.52 625.0 128.38 625.5 128.33 626.0 128.41 626.6 128.64 627.1 129.01 627.6 129.52 628.1 130.16 628.6 130.92 629.1 131.77 629.6 132.71 630.1 133.71 630.6 134.76 631.1 135.82 631.6 136.89 632.1 137.93 632.6 138.93 633.1 139.87 633.6 140.72 634.1 141.48 634.6 142.12 635.1 142.63 635.6 143.00 636.1 143.23 636.6 143.31 637.1 143.19 637.6 142.86 638.2 142.30 638.7 141.55 639.2 140.60 639.7 139.49 640.2 138.24 640.7 136.88 641.2 135.43 641.8 133.93 642.3 132.41 642.8 130.92 643.3 129.47 643.8 128.10 644.3 126.85 644.9 125.74 645.4 124.80 645.9 124.04 646.4 123.49 646.9 123.15 647.4 123.04 647.9 123.15 648.4 123.48 648.9 124.04 649.4 124.80 649.9 125.75 650.4 126.88 650.9 128.16 651.4 129.57 651.9 131.08 652.4 132.67 652.9 134.30 653.4 135.96 653.9 137.59 654.4 139.18 654.9 140.69 655.4 142.10 655.9 143.38 656.4 144.51 656.9 145.46 657.4 146.22 657.9 146.78 658.4 147.11 658.9 147.22 659.5 146.97 660.0 146.22 660.5 145.04 661.0 143.52 661.6 141.79 662.1 139.99 662.6 138.26 663.1 136.74 663.7 135.56 664.2 134.81 664.7 134.55" fill="none" stroke="#ed1c24" stroke-width="1.25" stroke-linejoin="round" stroke-linecap="butt"/>
<path d="M14.7 169.11 15.2 169.05 15.8 168.87 16.3 168.59 16.9 168.23 17.4 167.82 17.9 167.40 18.5 166.99 19.0 166.63 19.6 166.35 20.1 166.17 20.7 166.11 21.2 166.17 21.7 166.33 22.2 166.59 22.7 166.95 23.2 167.39 23.7 167.90 24.2 168.46 24.8 169.06 25.3 169.68 25.8 170.30 26.3 170.91 26.8 171.47 27.3 171.98 27.8 172.42 28.3 172.78 28.9 173.04 29.4 173.20 29.9 173.26 30.4 173.21 30.9 173.07 31.4 172.84 31.9 172.53 32.4 172.14 32.9 171.69 33.4 171.18 33.9 170.63 34.4 170.05 34.9 169.45 35.5 168.86 36.0 168.28 36.5 167.73 37.0 167.22 37.5 166.77 38.0 166.38 38.5 166.07 39.0 165.84 39.5 165.70 40.0 165.65 40.5 165.71 41.1 165.87 41.6 166.14 42.1 166.50 42.6 166.95 43.1 167.48 43.7 168.07 44.2 168.69 44.7 169.35 45.2 170.02 45.7 170.67 46.3 171.30 46.8 171.89 47.3 172.41 47.8 172.87 48.4 173.23 48.9 173.50 49.4 173.66 49.9 173.72 50.4 173.66 51.0 173.51 51.5 173.25 52.0 172.90 52.5 172.47 53.0 171.96 53.5 171.39 54.1 170.77 54.6 170.12 55.1 169.45 55.6 168.79 56.1 168.14 56.7 167.52 57.2 166.95 57.7 166.44 58.2 166.01 58.7 165.66 59.3 165.40 59.8 165.24 60.3 165.19 60.8 165.26 61.3 165.45 61.8 165.76 62.4 166.18 62.9 166.71 63.4 167.33 63.9 168.02 64.4 168.77 65.0 169.56 65.5 170.38 66.0 171.19 66.5 171.98 67.0 172.73 67.5 173.42 68.1 174.04 68.6 174.57 69.1 174.99 69.6 175.30 70.1 175.49 70.7 175.56 71.2 175.48 71.7 175.23 72.2 174.83 72.7 174.28 73.2 173.60 73.8 172.80 74.3 171.91 74.8 170.94 75.3 169.92 75.8 168.88 76.4 167.83 76.9 166.81 77.4 165.85 77.9 164.95 78.4 164.15 78.9 163.47 79.5 162.93 80.0 162.52 80.5 162.28 81.0 162.20 81.5 162.30 82.1 162.59 82.6 163.08 83.1 163.74 83.6 164.56 84.1 165.52 84.6 166.60 85.2 167.77 85.7 169.00 86.2 170.26 86.7 171.52 87.2 172.75 87.8 173.92 88.3 175.00 88.8 175.96 89.3 176.78 89.8 177.44 90.3 177.93 90.9 178.22 91.4 178.32 91.9 178.20 92.4 177.84 92.9 177.26 93.5 176.45 94.0 175.46 94.5 174.29 95.0 172.98 95.5 171.56 96.1 170.06 96.6 168.53 97.1 167.00 97.6 165.51 98.1 164.09 98.6 162.78 99.2 161.61 99.7 160.61 100.2 159.81 100.7 159.22 101.2 158.86 101.8 158.74 102.3 158.87 102.8 159.24 103.3 159.86 103.8 160.70 104.3 161.76 104.8 162.99 105.4 164.39 105.9 165.91 106.4 167.52 106.9 169.19 107.4 170.87 107.9 172.54 108.5 174.15 109.0 175.67 109.5 177.07 110.0 178.30 110.5 179.36 111.0 180.20 111.5 180.82 112.1 181.19 112.6 181.32 113.1 181.20 113.6 180.84 114.1 180.25 114.6 179.43 115.1 178.42 115.6 177.22 116.1 175.87 116.6 174.38 117.1 172.80 117.6 171.14 118.1 169.45 118.6 167.77 119.1 166.11 119.6 164.53 120.1 163.04 120.6 161.69 121.1 160.49 121.6 159.47 122.1 158.66 122.6 158.07 123.1 157.71 123.6 157.59 124.1 157.70 124.6 158.02 125.1 158.54 125.6 159.27 126.1 160.17 126.6 161.25 127.1 162.47 127.6 163.81 128.1 165.25 128.6 166.77 129.1 168.32 129.6 169.89 130.1 171.45 130.6 172.97 131.1 174.41 131.6 175.75 132.1 176.97 132.7 178.04 133.2 178.95 133.7 179.67 134.2 180.20 134.7 180.52 135.2 180.63 135.7 180.53 136.2 180.25 136.7 179.80 137.2 179.17 137.7 178.38 138.2 177.45 138.7 176.38 139.2 175.22 139.7 173.96 140.2 172.64 140.7 171.29 141.2 169.92 141.7 168.57 142.2 167.25 142.7 166.00 143.2 164.83 143.7 163.77 144.2 162.83 144.7 162.04 145.2 161.41 145.7 160.96 146.2 160.68 146.7 160.59 147.2 160.66 147.7 160.88 148.2 161.24 148.7 161.74 149.2 162.37 149.7 163.11 150.2 163.95 150.7 164.88 151.2 165.87 151.7 166.92 152.2 167.99 152.7 169.07 153.2 170.15 153.7 171.19 154.2 172.19 154.7 173.12 155.2 173.96 155.7 174.70 156.2 175.32 156.7 175.82 157.2 176.19 157.7 176.41 158.2 176.48 158.7 176.43 159.2 176.28 159.7 176.04 160.3 175.70 160.8 175.27 161.3 174.76 161.8 174.18 162.3 173.54 162.9 172.84 163.4 172.10 163.9 171.33 164.4 170.54 164.9 169.75 165.4 168.96 166.0 168.19 166.5 167.45 167.0 166.75 167.5 166.11 168.0 165.53 168.6 165.02 169.1 164.59 169.6 164.26 170.1 164.01 170.6 163.86 171.2 163.81 171.7 163.84 172.2 163.95 172.7 164.12 173.2 164.36 173.7 164.66 174.2 165.02 174.8 165.44 175.3 165.91 175.8 166.42 176.3 166.98 176.8 167.57 177.3 168.19 177.8 168.83 178.4 169.48 178.9 170.15 179.4 170.81 179.9 171.46 180.4 172.10 180.9 172.72 181.4 173.31 182.0 173.87 182.5 174.38 183.0 174.85 183.5 175.27 184.0 175.63 184.5 175.93 185.0 176.17 185.6 176.34 186.1 176.45 186.6 176.48 187.1 176.41 187.6 176.21 188.1 175.88 188.6 175.42 189.1 174.84 189.6 174.15 190.1 173.37 190.7 172.51 191.2 171.57 191.7 170.59 192.2 169.57 192.7 168.53 193.2 167.50 193.7 166.48 194.2 165.49 194.7 164.56 195.2 163.69 195.7 162.91 196.3 162.23 196.8 161.65 197.3 161.19 197.8 160.86 198.3 160.65 198.8 160.59 199.3 160.67 199.8 160.93 200.3 161.37 200.8 161.96 201.3 162.70 201.8 163.59 202.4 164.60 202.9 165.71 203.4 166.91 203.9 168.18 204.4 169.50 204.9 170.84 205.4 172.17 205.9 173.49 206.4 174.76 206.9 175.96 207.4 177.08 208.0 178.08 208.5 178.97 209.0 179.71 209.5 180.31 210.0 180.74 210.5 181.00 211.0 181.09 211.5 180.97 212.0 180.64 212.5 180.09 213.0 179.33 213.5 178.37 214.0 177.25 214.5 175.97 215.0 174.56 215.5 173.04 216.0 171.45 216.5 169.82 217.0 168.17 217.5 166.53 218.0 164.94 218.5 163.43 219.0 162.02 219.5 160.74 220.0 159.61 220.5 158.66 221.0 157.90 221.5 157.35 222.0 157.01 222.5 156.90 223.0 157.03 223.5 157.44 224.1 158.10 224.6 159.00 225.1 160.13 225.6 161.47 226.1 162.98 226.6 164.64 227.1 166.41 227.7 168.26 228.2 170.15 228.7 172.03 229.2 173.88 229.7 175.65 230.2 177.31 230.7 178.82 231.2 180.16 231.8 181.29 232.3 182.19 232.8 182.85 233.3 183.26 233.8 183.39 234.3 183.25 234.8 182.84 235.3 182.15 235.8 181.22 236.3 180.04 236.8 178.66 237.3 177.09 237.8 175.38 238.3 173.55 238.8 171.64 239.3 169.68 239.8 167.73 240.3 165.82 240.8 163.99 241.3 162.27 241.9 160.71 242.4 159.33 242.9 158.15 243.4 157.22 243.9 156.53 244.4 156.12 244.9 155.98 245.4 156.13 245.9 156.57 246.4 157.29 246.9 158.28 247.4 159.51 248.0 160.97 248.5 162.60 249.0 164.38 249.5 166.28 250.0 168.23 250.5 170.21 251.1 172.17 251.6 174.06 252.1 175.85 252.6 177.48 253.1 178.93 253.6 180.17 254.1 181.16 254.7 181.88 255.2 182.32 255.7 182.47 256.2 182.35 256.7 181.98 257.2 181.38 257.7 180.55 258.2 179.52 258.7 178.30 259.2 176.91 259.7 175.40 260.2 173.78 260.7 172.10 261.2 170.38 261.7 168.65 262.2 166.97 262.7 165.35 263.2 163.84 263.7 162.46 264.2 161.24 264.7 160.20 265.2 159.37 265.7 158.77 266.2 158.40 266.8 158.28 267.3 158.41 267.8 158.81 268.3 159.46 268.8 160.35 269.3 161.45 269.9 162.74 270.4 164.19 270.9 165.76 271.4 167.41 271.9 169.11 272.5 170.80 273.0 172.45 273.5 174.02 274.0 175.47 274.5 176.76 275.0 177.87 275.6 178.76 276.1 179.41 276.6 179.80 277.1 179.94 277.6 179.83 278.1 179.52 278.7 179.00 279.2 178.29 279.7 177.41 280.2 176.38 280.7 175.21 281.2 173.94 281.8 172.59 282.3 171.20 282.8 169.78 283.3 168.39 283.8 167.04 284.3 165.77 284.9 164.60 285.4 163.57 285.9 162.69 286.4 161.98 286.9 161.47 287.4 161.15 287.9 161.05 288.5 161.15 289.0 161.45 289.5 161.95 290.0 162.63 290.5 163.47 291.1 164.46 291.6 165.57 292.1 166.78 292.6 168.04 293.1 169.34 293.6 170.64 294.2 171.90 294.7 173.10 295.2 174.21 295.7 175.20 296.2 176.05 296.8 176.73 297.3 177.23 297.8 177.53 298.3 177.63 298.8 177.54 299.3 177.25 299.9 176.79 300.4 176.16 300.9 175.37 301.4 174.45 301.9 173.42 302.5 172.30 303.0 171.12 303.5 169.91 304.0 168.71 304.5 167.53 305.0 166.41 305.6 165.38 306.1 164.46 306.6 163.67 307.1 163.04 307.6 162.58 308.2 162.29 308.7 162.20 309.2 162.27 309.7 162.50 310.2 162.88 310.7 163.40 311.2 164.04 311.7 164.80 312.2 165.65 312.7 166.58 313.2 167.57 313.7 168.59 314.2 169.62 314.7 170.65 315.2 171.63 315.7 172.56 316.2 173.42 316.8 174.17 317.3 174.82 317.8 175.33 318.3 175.71 318.8 175.94 319.3 176.02 319.8 175.95 320.3 175.74 320.8 175.39 321.3 174.92 321.9 174.33 322.4 173.65 322.9 172.87 323.4 172.04 323.9 171.16 324.5 170.26 325.0 169.36 325.5 168.48 326.0 167.65 326.5 166.88 327.0 166.19 327.6 165.60 328.1 165.13 328.6 164.78 329.1 164.57 329.6 164.50 330.1 164.56 330.6 164.72 331.1 164.99 331.6 165.35 332.1 165.80 332.6 166.33 333.1 166.91 333.6 167.54 334.1 168.20 334.6 168.87 335.1 169.52 335.6 170.15 336.1 170.74 336.6 171.26 337.1 171.71 337.6 172.08 338.1 172.35 338.6 172.51 339.1 172.56 339.7 172.53 340.2 172.44 340.7 172.29 341.2 172.08 341.7 171.82 342.2 171.53 342.7 171.20 343.2 170.85 343.8 170.49 344.3 170.13 344.8 169.78 345.3 169.45 345.8 169.16 346.3 168.90 346.8 168.70 347.3 168.54 347.8 168.45 348.4 168.42 348.9 168.45 349.4 168.56 349.9 168.73 350.4 168.96 350.9 169.24 351.4 169.56 351.9 169.90 352.4 170.26 352.9 170.62 353.4 170.97 353.9 171.28 354.4 171.56 354.9 171.79 355.4 171.96 355.9 172.07 356.4 172.10 356.9 172.05 357.4 171.91 358.0 171.67 358.5 171.35 359.0 170.95 359.5 170.49 360.0 169.97 360.5 169.41 361.0 168.83 361.5 168.24 362.0 167.66 362.5 167.10 363.0 166.58 363.6 166.11 364.1 165.71 364.6 165.39 365.1 165.16 365.6 165.01 366.1 164.96 366.6 165.04 367.1 165.26 367.7 165.63 368.2 166.13 368.7 166.75 369.2 167.48 369.7 168.30 370.2 169.18 370.8 170.11 371.3 171.07 371.8 172.02 372.3 172.95 372.8 173.84 373.4 174.65 373.9 175.38 374.4 176.01 374.9 176.51 375.4 176.87 375.9 177.10 376.5 177.17 377.0 177.09 377.5 176.85 378.0 176.46 378.5 175.91 379.0 175.23 379.5 174.43 380.0 173.51 380.5 172.51 381.0 171.43 381.5 170.29 382.0 169.12 382.5 167.94 383.0 166.78 383.5 165.64 384.0 164.56 384.5 163.55 385.0 162.64 385.5 161.83 386.0 161.15 386.5 160.61 387.0 160.21 387.5 159.97 388.0 159.89 388.5 160.00 389.0 160.30 389.5 160.80 390.0 161.48 390.5 162.34 391.0 163.35 391.5 164.50 392.0 165.75 392.5 167.09 393.0 168.49 393.5 169.91 394.0 171.34 394.5 172.74 395.0 174.08 395.5 175.33 396.0 176.48 396.5 177.49 397.0 178.34 397.5 179.03 398.0 179.53 398.5 179.83 399.0 179.94 399.5 179.83 400.0 179.53 400.5 179.03 401.1 178.34 401.6 177.49 402.1 176.48 402.6 175.33 403.1 174.08 403.6 172.74 404.1 171.34 404.6 169.91 405.1 168.49 405.6 167.09 406.1 165.75 406.6 164.50 407.1 163.35 407.6 162.34 408.1 161.48 408.6 160.80 409.1 160.30 409.6 160.00 410.1 159.89 410.6 159.99 411.1 160.29 411.6 160.77 412.2 161.44 412.7 162.26 413.2 163.23 413.7 164.33 414.2 165.52 414.7 166.79 415.3 168.10 415.8 169.43 416.3 170.74 416.8 172.00 417.3 173.20 417.8 174.29 418.3 175.26 418.9 176.09 419.4 176.75 419.9 177.24 420.4 177.53 420.9 177.63 421.4 177.56 422.0 177.36 422.5 177.02 423.0 176.55 423.5 175.97 424.0 175.29 424.5 174.52 425.0 173.68 425.6 172.80 426.1 171.88 426.6 170.95 427.1 170.03 427.6 169.14 428.1 168.30 428.7 167.53 429.2 166.85 429.7 166.27 430.2 165.81 430.7 165.47 431.2 165.26 431.8 165.19 432.3 165.24 432.8 165.39 433.3 165.64 433.8 165.97 434.3 166.38 434.8 166.86 435.3 167.40 435.8 167.97 436.3 168.57 436.8 169.18 437.4 169.78 437.9 170.36 438.4 170.89 438.9 171.37 439.4 171.79 439.9 172.12 440.4 172.36 440.9 172.51 441.4 172.56 441.9 172.52 442.5 172.41 443.0 172.21 443.5 171.96 444.0 171.64 444.5 171.28 445.1 170.90 445.6 170.49 446.1 170.09 446.6 169.70 447.1 169.34 447.6 169.02 448.2 168.77 448.7 168.58 449.2 168.46 449.7 168.42 450.2 168.45 450.7 168.54 451.3 168.70 451.8 168.90 452.3 169.16 452.8 169.45 453.3 169.78 453.8 170.13 454.3 170.49 454.8 170.85 455.4 171.20 455.9 171.53 456.4 171.82 456.9 172.08 457.4 172.29 457.9 172.44 458.4 172.53 458.9 172.56 459.5 172.52 460.0 172.38 460.5 172.16 461.0 171.86 461.5 171.48 462.0 171.04 462.6 170.55 463.1 170.02 463.6 169.45 464.1 168.88 464.6 168.30 465.2 167.74 465.7 167.20 466.2 166.71 466.7 166.27 467.2 165.90 467.7 165.59 468.3 165.37 468.8 165.24 469.3 165.19 469.8 165.25 470.3 165.42 470.8 165.71 471.4 166.09 471.9 166.58 472.4 167.14 472.9 167.78 473.4 168.48 473.9 169.22 474.5 169.99 475.0 170.76 475.5 171.53 476.0 172.27 476.5 172.97 477.0 173.61 477.5 174.17 478.1 174.66 478.6 175.05 479.1 175.33 479.6 175.50 480.1 175.56 480.6 175.50 481.1 175.32 481.6 175.03 482.1 174.63 482.6 174.12 483.1 173.53 483.6 172.86 484.1 172.12 484.7 171.34 485.2 170.52 485.7 169.68 486.2 168.85 486.7 168.03 487.2 167.24 487.7 166.51 488.2 165.84 488.7 165.24 489.2 164.74 489.7 164.34 490.2 164.05 490.7 163.87 491.2 163.81 491.7 163.87 492.2 164.04 492.7 164.32 493.2 164.71 493.7 165.19 494.2 165.76 494.7 166.40 495.2 167.10 495.8 167.84 496.3 168.61 496.8 169.38 497.3 170.15 497.8 170.89 498.3 171.58 498.8 172.22 499.3 172.79 499.8 173.28 500.3 173.66 500.8 173.95 501.3 174.12 501.8 174.18 502.4 174.14 502.9 174.03 503.4 173.84 503.9 173.59 504.4 173.28 504.9 172.90 505.4 172.48 505.9 172.02 506.5 171.53 507.0 171.02 507.5 170.49 508.0 169.97 508.5 169.45 509.0 168.96 509.5 168.50 510.1 168.08 510.6 167.71 511.1 167.39 511.6 167.14 512.1 166.95 512.6 166.84 513.1 166.80 513.6 166.82 514.1 166.87 514.7 166.94 515.2 167.05 515.7 167.18 516.2 167.34 516.7 167.51 517.2 167.71 517.7 167.93 518.2 168.16 518.7 168.40 519.2 168.64 519.7 168.89 520.2 169.13 520.7 169.37 521.2 169.60 521.7 169.81 522.3 170.01 522.8 170.19 523.3 170.35 523.8 170.48 524.3 170.58 524.8 170.66 525.3 170.71 525.8 170.72 526.3 170.72 526.8 170.71 527.3 170.69 527.9 170.66 528.4 170.63 528.9 170.59 529.4 170.55 529.9 170.51 530.4 170.47 530.9 170.43 531.5 170.39 532.0 170.35 532.5 170.32 533.0 170.29 533.5 170.28 534.0 170.26 534.6 170.26 535.1 170.25 535.6 170.21 536.1 170.15 536.6 170.06 537.1 169.95 537.6 169.82 538.1 169.68 538.6 169.51 539.1 169.34 539.6 169.16 540.1 168.97 540.6 168.78 541.1 168.60 541.6 168.42 542.1 168.24 542.6 168.08 543.1 167.93 543.6 167.81 544.1 167.70 544.6 167.61 545.1 167.55 545.6 167.51 546.1 167.50 546.6 167.52 547.1 167.61 547.6 167.75 548.1 167.93 548.6 168.17 549.1 168.45 549.6 168.77 550.1 169.11 550.6 169.48 551.1 169.87 551.6 170.26 552.1 170.65 552.6 171.04 553.1 171.41 553.6 171.75 554.1 172.07 554.6 172.35 555.1 172.59 555.6 172.77 556.1 172.91 556.6 173.00 557.1 173.02 557.6 172.99 558.1 172.89 558.6 172.72 559.1 172.49 559.6 172.21 560.1 171.87 560.6 171.49 561.2 171.07 561.7 170.63 562.2 170.16 562.7 169.68 563.2 169.21 563.7 168.74 564.2 168.30 564.7 167.88 565.2 167.50 565.7 167.16 566.2 166.87 566.7 166.65 567.2 166.48 567.7 166.38 568.2 166.34 568.7 166.38 569.2 166.49 569.7 166.67 570.2 166.92 570.8 167.24 571.3 167.60 571.8 168.01 572.3 168.46 572.8 168.94 573.3 169.43 573.9 169.93 574.4 170.43 574.9 170.90 575.4 171.35 575.9 171.77 576.4 172.13 577.0 172.44 577.5 172.69 578.0 172.88 578.5 172.99 579.0 173.02 579.5 172.99 580.0 172.90 580.6 172.74 581.1 172.52 581.6 172.26 582.1 171.94 582.6 171.58 583.1 171.20 583.7 170.79 584.2 170.36 584.7 169.93 585.2 169.50 585.7 169.09 586.2 168.71 586.7 168.35 587.3 168.03 587.8 167.77 588.3 167.55 588.8 167.39 589.3 167.30 589.8 167.27 590.4 167.29 590.9 167.38 591.4 167.52 591.9 167.70 592.4 167.93 592.9 168.20 593.4 168.51 593.9 168.83 594.4 169.17 594.9 169.51 595.4 169.85 596.0 170.17 596.5 170.47 597.0 170.74 597.5 170.97 598.0 171.16 598.5 171.30 599.0 171.38 599.5 171.41 600.0 171.39 600.5 171.31 601.1 171.19 601.6 171.02 602.1 170.82 602.6 170.58 603.1 170.32 603.6 170.05 604.2 169.78 604.7 169.50 605.2 169.25 605.7 169.01 606.2 168.81 606.7 168.64 607.2 168.52 607.8 168.44 608.3 168.42 608.8 168.44 609.3 168.50 609.8 168.60 610.3 168.73 610.8 168.90 611.3 169.10 611.8 169.31 612.3 169.55 612.9 169.79 613.4 170.04 613.9 170.28 614.4 170.52 614.9 170.73 615.4 170.93 615.9 171.10 616.4 171.23 616.9 171.33 617.4 171.39 617.9 171.41 618.5 171.38 619.0 171.29 619.5 171.15 620.0 170.95 620.6 170.71 621.1 170.43 621.6 170.12 622.1 169.79 622.7 169.45 623.2 169.11 623.7 168.78 624.2 168.48 624.8 168.20 625.3 167.95 625.8 167.76 626.3 167.61 626.9 167.53 627.4 167.50 627.9 167.52 628.4 167.61 628.9 167.75 629.5 167.94 630.0 168.17 630.5 168.45 631.0 168.76 631.5 169.10 632.0 169.47 632.5 169.84 633.1 170.22 633.6 170.59 634.1 170.96 634.6 171.30 635.1 171.61 635.6 171.89 636.2 172.12 636.7 172.31 637.2 172.45 637.7 172.54 638.2 172.56 638.7 172.53 639.3 172.42 639.8 172.25 640.3 172.01 640.8 171.72 641.3 171.38 641.8 170.99 642.4 170.57 642.9 170.13 643.4 169.68 643.9 169.23 644.4 168.79 645.0 168.38 645.5 167.99 646.0 167.65 646.5 167.35 647.0 167.12 647.5 166.95 648.1 166.84 648.6 166.80 649.1 166.83 649.6 166.92 650.1 167.07 650.6 167.26 651.1 167.51 651.6 167.80 652.1 168.13 652.6 168.49 653.1 168.87 653.6 169.27 654.1 169.68 654.6 170.09 655.1 170.50 655.6 170.88 656.1 171.24 656.6 171.57 657.1 171.86 657.6 172.11 658.1 172.30 658.6 172.45 659.1 172.53 659.6 172.56 660.2 172.47 660.7 172.21 661.2 171.82 661.7 171.33 662.2 170.81 662.7 170.32 663.2 169.92 663.7 169.66 664.2 169.57" fill="none" stroke="#21479d" stroke-width="1.25" stroke-linejoin="round" stroke-linecap="butt"/>
<path d="M14.9 209.36 15.4 209.13 15.9 208.91 16.4 208.69 16.9 208.46 17.4 208.24 17.9 208.01 18.4 207.79 18.9 207.56 19.4 207.34 19.9 207.11 20.4 206.89 20.9 206.67 21.4 206.44 21.9 206.22 22.4 206.00 22.9 205.78 23.4 205.56 23.9 205.34 24.4 205.12 24.9 204.90 25.4 204.68 25.9 204.47 26.4 204.26 26.9 204.05 27.4 203.84 27.9 203.63 28.4 203.42 28.9 203.22 29.4 203.02 29.9 202.82 30.4 202.62 30.9 202.42 31.4 202.23 31.9 202.04 32.4 201.85 32.9 201.67 33.4 201.49 33.9 201.31 34.4 201.13 34.9 200.96 35.4 200.79 35.9 200.62 36.4 200.46 36.9 200.30 37.4 200.14 37.9 199.99 38.4 199.84 38.9 199.70 39.5 199.55 40.0 199.42 40.5 199.28 41.0 199.15 41.5 199.03 42.0 198.90 42.5 198.79 43.0 198.67 43.5 198.56 44.0 198.46 44.5 198.36 45.0 198.26 45.5 198.17 46.0 198.08 46.5 198.00 47.0 197.92 47.5 197.84 48.0 197.77 48.5 197.71 49.0 197.65 49.5 197.59 50.0 197.54 50.5 197.50 51.0 197.46 51.5 197.42 52.0 197.39 52.5 197.36 53.0 197.34 53.5 197.32 54.0 197.31 54.5 197.30 55.0 197.30 55.5 197.31 56.0 197.33 56.5 197.37 57.0 197.43 57.5 197.50 58.0 197.59 58.5 197.70 59.0 197.82 59.5 197.95 60.0 198.11 60.5 198.27 61.0 198.45 61.5 198.65 62.0 198.86 62.5 199.09 63.0 199.33 63.5 199.58 64.0 199.85 64.5 200.13 65.0 200.42 65.5 200.73 66.0 201.05 66.5 201.38 67.0 201.72 67.5 202.07 68.0 202.43 68.5 202.80 69.0 203.18 69.5 203.58 70.0 203.97 70.5 204.38 71.0 204.80 71.5 205.22 72.0 205.65 72.5 206.08 73.0 206.52 73.5 206.97 74.0 207.42 74.5 207.87 75.0 208.33 75.5 208.79 76.0 209.25 76.5 209.72 77.0 210.18 77.5 210.65 78.0 211.12 78.5 211.58 79.0 212.05 79.5 212.51 80.0 212.97 80.5 213.43 81.0 213.88 81.5 214.33 82.0 214.78 82.5 215.22 83.0 215.65 83.5 216.08 84.0 216.50 84.5 216.92 85.0 217.32 85.5 217.72 86.0 218.12 86.5 218.50 87.0 218.87 87.5 219.23 88.0 219.58 88.5 219.92 89.0 220.25 89.5 220.57 90.0 220.88 90.5 221.17 91.0 221.45 91.5 221.72 92.0 221.97 92.5 222.21 93.0 222.44 93.5 222.65 94.0 222.85 94.5 223.03 95.0 223.19 95.5 223.35 96.0 223.48 96.5 223.60 97.0 223.71 97.5 223.80 98.0 223.87 98.5 223.93 99.0 223.97 99.5 223.99 100.0 224.00 100.5 223.99 101.0 223.97 101.5 223.92 102.0 223.86 102.5 223.79 103.0 223.69 103.5 223.58 104.0 223.45 104.5 223.31 105.0 223.15 105.5 222.97 106.0 222.78 106.5 222.57 107.0 222.34 107.5 222.10 108.0 221.85 108.5 221.58 109.0 221.30 109.5 221.00 110.0 220.69 110.5 220.37 111.0 220.03 111.5 219.68 112.0 219.32 112.5 218.95 113.0 218.56 113.5 218.17 114.0 217.76 114.5 217.35 115.0 216.93 115.5 216.49 116.0 216.05 116.5 215.61 117.0 215.15 117.5 214.69 118.0 214.22 118.5 213.75 119.0 213.27 119.5 212.79 120.0 212.31 120.5 211.82 121.0 211.33 121.5 210.84 122.0 210.34 122.5 209.85 123.0 209.36 123.5 208.86 124.0 208.37 124.5 207.88 125.0 207.39 125.5 206.91 126.0 206.43 126.5 205.95 127.0 205.48 127.5 205.01 128.0 204.55 128.5 204.09 129.0 203.65 129.5 203.21 130.0 202.78 130.5 202.35 131.0 201.94 131.5 201.53 132.0 201.14 132.5 200.75 133.0 200.38 133.5 200.02 134.0 199.67 134.5 199.33 135.0 199.01 135.5 198.70 136.0 198.40 136.5 198.12 137.0 197.85 137.5 197.60 138.0 197.36 138.5 197.13 139.0 196.92 139.5 196.73 140.0 196.55 140.5 196.39 141.0 196.25 141.5 196.12 142.0 196.01 142.5 195.91 143.0 195.84 143.5 195.78 144.0 195.73 144.5 195.71 145.0 195.70 145.5 195.71 146.0 195.74 146.5 195.78 147.0 195.84 147.5 195.93 148.0 196.02 148.5 196.14 149.0 196.28 149.5 196.43 150.0 196.60 150.5 196.78 151.0 196.98 151.5 197.20 152.0 197.43 152.5 197.68 153.0 197.95 153.5 198.23 154.0 198.52 154.5 198.83 155.0 199.15 155.6 199.49 156.1 199.84 156.6 200.20 157.1 200.57 157.6 200.95 158.1 201.35 158.6 201.75 159.1 202.16 159.6 202.59 160.1 203.02 160.6 203.45 161.1 203.90 161.6 204.35 162.1 204.81 162.6 205.27 163.1 205.74 163.6 206.21 164.1 206.68 164.6 207.15 165.1 207.63 165.6 208.11 166.1 208.59 166.6 209.07 167.1 209.55 167.6 210.02 168.1 210.49 168.6 210.96 169.1 211.43 169.6 211.89 170.1 212.35 170.6 212.80 171.1 213.25 171.6 213.68 172.1 214.11 172.6 214.54 173.1 214.95 173.6 215.35 174.1 215.75 174.6 216.13 175.1 216.50 175.6 216.86 176.1 217.21 176.7 217.55 177.2 217.87 177.7 218.18 178.2 218.47 178.7 218.75 179.2 219.02 179.7 219.27 180.2 219.50 180.7 219.72 181.2 219.92 181.7 220.10 182.2 220.27 182.7 220.42 183.2 220.56 183.7 220.68 184.2 220.77 184.7 220.86 185.2 220.92 185.7 220.96 186.2 220.99 186.7 221.00 187.2 220.99 187.7 220.97 188.2 220.93 188.7 220.88 189.2 220.81 189.7 220.72 190.2 220.62 190.7 220.51 191.2 220.38 191.7 220.24 192.2 220.08 192.7 219.91 193.2 219.72 193.7 219.52 194.2 219.31 194.7 219.08 195.2 218.84 195.7 218.58 196.2 218.32 196.7 218.04 197.2 217.75 197.7 217.45 198.2 217.14 198.7 216.81 199.2 216.48 199.7 216.14 200.2 215.79 200.7 215.42 201.2 215.05 201.7 214.68 202.2 214.29 202.7 213.90 203.2 213.50 203.7 213.09 204.2 212.68 204.7 212.26 205.2 211.84 205.7 211.41 206.2 210.98 206.7 210.55 207.2 210.11 207.7 209.67 208.2 209.23 208.7 208.79 209.2 208.35 209.7 207.91 210.2 207.47 210.7 207.03 211.2 206.59 211.7 206.15 212.2 205.72 212.7 205.29 213.2 204.86 213.7 204.44 214.2 204.02 214.7 203.61 215.2 203.20 215.7 202.80 216.2 202.41 216.7 202.03 217.2 201.65 217.7 201.28 218.2 200.91 218.7 200.56 219.2 200.22 219.7 199.89 220.2 199.56 220.7 199.25 221.2 198.95 221.7 198.66 222.2 198.38 222.7 198.12 223.2 197.86 223.7 197.62 224.2 197.39 224.7 197.18 225.2 196.98 225.7 196.79 226.2 196.62 226.7 196.46 227.2 196.32 227.7 196.19 228.2 196.08 228.7 195.98 229.2 195.89 229.7 195.82 230.2 195.77 230.7 195.73 231.2 195.71 231.7 195.70 232.2 195.71 232.7 195.73 233.2 195.76 233.7 195.82 234.2 195.88 234.7 195.96 235.2 196.05 235.7 196.16 236.2 196.28 236.7 196.41 237.2 196.56 237.7 196.72 238.2 196.90 238.7 197.08 239.3 197.28 239.8 197.49 240.3 197.72 240.8 197.95 241.3 198.20 241.8 198.46 242.3 198.73 242.8 199.00 243.3 199.29 243.8 199.59 244.3 199.90 244.8 200.22 245.3 200.54 245.8 200.87 246.3 201.21 246.8 201.56 247.3 201.92 247.8 202.28 248.3 202.64 248.8 203.01 249.3 203.39 249.8 203.77 250.3 204.15 250.8 204.54 251.3 204.93 251.8 205.32 252.3 205.71 252.8 206.11 253.3 206.50 253.9 206.89 254.4 207.29 254.9 207.68 255.4 208.07 255.9 208.46 256.4 208.85 256.9 209.23 257.4 209.61 257.9 209.99 258.4 210.36 258.9 210.72 259.4 211.08 259.9 211.44 260.4 211.79 260.9 212.13 261.4 212.46 261.9 212.78 262.4 213.10 262.9 213.41 263.4 213.71 263.9 214.00 264.4 214.27 264.9 214.54 265.4 214.80 265.9 215.05 266.4 215.28 266.9 215.51 267.4 215.72 268.0 215.92 268.5 216.10 269.0 216.28 269.5 216.44 270.0 216.59 270.5 216.72 271.0 216.84 271.5 216.95 272.0 217.04 272.5 217.12 273.0 217.18 273.5 217.24 274.0 217.27 274.5 217.29 275.0 217.30 275.5 217.29 276.0 217.27 276.5 217.24 277.0 217.20 277.5 217.14 278.0 217.07 278.5 216.98 279.0 216.89 279.5 216.78 280.0 216.66 280.5 216.53 281.0 216.38 281.5 216.22 282.0 216.06 282.5 215.88 283.0 215.69 283.5 215.49 284.0 215.27 284.5 215.05 285.0 214.82 285.5 214.58 286.1 214.33 286.6 214.07 287.1 213.80 287.6 213.53 288.1 213.24 288.6 212.95 289.1 212.65 289.6 212.35 290.1 212.03 290.6 211.72 291.1 211.39 291.6 211.07 292.1 210.74 292.6 210.40 293.1 210.06 293.6 209.72 294.1 209.37 294.6 209.03 295.1 208.68 295.6 208.33 296.1 207.98 296.6 207.62 297.1 207.27 297.6 206.92 298.1 206.57 298.6 206.23 299.1 205.88 299.6 205.54 300.1 205.20 300.6 204.86 301.1 204.53 301.6 204.21 302.1 203.88 302.6 203.57 303.1 203.25 303.6 202.95 304.1 202.65 304.6 202.36 305.1 202.07 305.6 201.80 306.1 201.53 306.6 201.27 307.2 201.02 307.7 200.78 308.2 200.55 308.7 200.33 309.2 200.11 309.7 199.91 310.2 199.72 310.7 199.54 311.2 199.38 311.7 199.22 312.2 199.07 312.7 198.94 313.2 198.82 313.7 198.71 314.2 198.62 314.7 198.53 315.2 198.46 315.7 198.40 316.2 198.36 316.7 198.33 317.2 198.31 317.7 198.30 318.2 198.31 318.7 198.32 319.2 198.35 319.7 198.40 320.2 198.45 320.7 198.52 321.2 198.60 321.7 198.68 322.2 198.79 322.7 198.90 323.2 199.02 323.7 199.16 324.2 199.30 324.7 199.46 325.2 199.63 325.7 199.81 326.2 200.00 326.7 200.19 327.2 200.40 327.7 200.62 328.2 200.85 328.7 201.08 329.2 201.33 329.7 201.58 330.2 201.84 330.7 202.11 331.2 202.38 331.7 202.66 332.2 202.95 332.7 203.25 333.2 203.55 333.7 203.85 334.2 204.16 334.7 204.48 335.2 204.80 335.7 205.12 336.2 205.45 336.7 205.78 337.2 206.11 337.7 206.45 338.2 206.78 338.7 207.12 339.2 207.46 339.7 207.80 340.2 208.14 340.7 208.48 341.2 208.82 341.7 209.15 342.2 209.49 342.7 209.82 343.2 210.15 343.7 210.48 344.2 210.80 344.7 211.12 345.2 211.44 345.7 211.75 346.2 212.05 346.7 212.35 347.2 212.65 347.7 212.94 348.2 213.22 348.7 213.49 349.2 213.76 349.7 214.02 350.2 214.27 350.7 214.52 351.2 214.75 351.7 214.98 352.2 215.20 352.7 215.41 353.2 215.60 353.7 215.79 354.2 215.97 354.7 216.14 355.2 216.30 355.7 216.44 356.2 216.58 356.7 216.70 357.2 216.81 357.7 216.92 358.2 217.00 358.7 217.08 359.2 217.15 359.7 217.20 360.2 217.25 360.7 217.28 361.2 217.29 361.7 217.30 362.2 217.29 362.7 217.27 363.2 217.23 363.7 217.17 364.2 217.10 364.7 217.01 365.2 216.91 365.7 216.79 366.2 216.66 366.7 216.51 367.2 216.35 367.7 216.17 368.2 215.98 368.7 215.77 369.2 215.56 369.7 215.32 370.2 215.08 370.7 214.82 371.2 214.54 371.7 214.26 372.2 213.96 372.7 213.66 373.2 213.34 373.7 213.01 374.2 212.67 374.7 212.32 375.2 211.96 375.7 211.60 376.2 211.22 376.7 210.84 377.2 210.45 377.7 210.06 378.2 209.66 378.7 209.25 379.2 208.84 379.7 208.42 380.2 208.00 380.7 207.58 381.2 207.15 381.7 206.72 382.2 206.30 382.7 205.87 383.3 205.43 383.8 205.00 384.3 204.58 384.8 204.15 385.3 203.72 385.8 203.30 386.3 202.88 386.8 202.46 387.3 202.05 387.8 201.64 388.3 201.24 388.8 200.85 389.3 200.46 389.8 200.08 390.3 199.70 390.8 199.34 391.3 198.98 391.8 198.63 392.3 198.29 392.8 197.96 393.3 197.64 393.8 197.34 394.3 197.04 394.8 196.76 395.3 196.48 395.8 196.22 396.3 195.98 396.8 195.74 397.3 195.53 397.8 195.32 398.3 195.13 398.8 194.95 399.3 194.79 399.8 194.64 400.3 194.51 400.8 194.39 401.3 194.29 401.8 194.20 402.3 194.13 402.8 194.07 403.3 194.03 403.8 194.01 404.3 194.00 404.8 194.01 405.3 194.04 405.8 194.08 406.3 194.14 406.8 194.22 407.3 194.32 407.8 194.44 408.3 194.57 408.8 194.72 409.3 194.89 409.8 195.08 410.3 195.28 410.8 195.49 411.3 195.73 411.8 195.98 412.3 196.24 412.8 196.52 413.3 196.81 413.8 197.12 414.3 197.45 414.8 197.78 415.4 198.13 415.9 198.49 416.4 198.86 416.9 199.25 417.4 199.64 417.9 200.05 418.4 200.47 418.9 200.89 419.4 201.33 419.9 201.77 420.4 202.22 420.9 202.68 421.4 203.14 421.9 203.61 422.4 204.09 422.9 204.56 423.4 205.05 423.9 205.53 424.4 206.02 424.9 206.51 425.4 207.01 425.9 207.50 426.4 207.99 426.9 208.49 427.4 208.98 427.9 209.47 428.4 209.95 428.9 210.44 429.4 210.91 429.9 211.39 430.4 211.86 430.9 212.32 431.4 212.78 431.9 213.23 432.4 213.67 432.9 214.11 433.4 214.53 433.9 214.95 434.4 215.36 434.9 215.75 435.4 216.14 435.9 216.51 436.4 216.87 437.0 217.22 437.5 217.55 438.0 217.88 438.5 218.19 439.0 218.48 439.5 218.76 440.0 219.02 440.5 219.27 441.0 219.51 441.5 219.72 442.0 219.92 442.5 220.11 443.0 220.28 443.5 220.43 444.0 220.56 444.5 220.68 445.0 220.78 445.5 220.86 446.0 220.92 446.5 220.96 447.0 220.99 447.5 221.00 448.0 220.99 448.5 220.96 449.0 220.91 449.5 220.84 450.0 220.75 450.5 220.64 451.0 220.51 451.5 220.36 452.0 220.19 452.5 220.00 453.0 219.79 453.5 219.57 454.0 219.32 454.5 219.06 455.0 218.78 455.5 218.48 456.0 218.17 456.5 217.84 457.0 217.49 457.5 217.13 458.0 216.75 458.6 216.36 459.1 215.95 459.6 215.53 460.1 215.10 460.6 214.65 461.1 214.19 461.6 213.72 462.1 213.24 462.6 212.75 463.1 212.24 463.6 211.73 464.1 211.22 464.6 210.69 465.1 210.16 465.6 209.62 466.1 209.07 466.6 208.52 467.1 207.96 467.6 207.41 468.1 206.84 468.6 206.28 469.1 205.72 469.6 205.15 470.1 204.58 470.6 204.02 471.1 203.46 471.6 202.89 472.1 202.34 472.6 201.78 473.1 201.23 473.6 200.68 474.1 200.14 474.6 199.61 475.1 199.08 475.6 198.57 476.1 198.06 476.6 197.55 477.1 197.06 477.6 196.58 478.1 196.11 478.6 195.65 479.1 195.20 479.6 194.77 480.1 194.35 480.6 193.94 481.2 193.55 481.7 193.17 482.2 192.81 482.7 192.46 483.2 192.13 483.7 191.82 484.2 191.52 484.7 191.24 485.2 190.98 485.7 190.73 486.2 190.51 486.7 190.30 487.2 190.11 487.7 189.94 488.2 189.79 488.7 189.66 489.2 189.55 489.7 189.46 490.2 189.39 490.7 189.34 491.2 189.31 491.7 189.30 492.2 189.31 492.7 189.34 493.2 189.40 493.7 189.47 494.2 189.57 494.7 189.68 495.2 189.82 495.7 189.98 496.2 190.15 496.7 190.35 497.2 190.57 497.7 190.81 498.2 191.07 498.7 191.34 499.3 191.64 499.8 191.95 500.3 192.28 500.8 192.63 501.3 193.00 501.8 193.38 502.3 193.78 502.8 194.19 503.3 194.62 503.8 195.06 504.3 195.52 504.8 195.99 505.3 196.48 505.8 196.97 506.3 197.48 506.8 198.00 507.3 198.52 507.8 199.06 508.3 199.61 508.8 200.16 509.3 200.73 509.8 201.30 510.3 201.87 510.8 202.45 511.3 203.03 511.8 203.62 512.3 204.21 512.8 204.81 513.3 205.40 513.9 206.00 514.4 206.60 514.9 207.19 515.4 207.79 515.9 208.38 516.4 208.97 516.9 209.55 517.4 210.13 517.9 210.70 518.4 211.27 518.9 211.84 519.4 212.39 519.9 212.94 520.4 213.48 520.9 214.00 521.4 214.52 521.9 215.03 522.4 215.52 522.9 216.01 523.4 216.48 523.9 216.94 524.4 217.38 524.9 217.81 525.4 218.22 525.9 218.62 526.4 219.00 526.9 219.37 527.4 219.72 527.9 220.05 528.4 220.36 529.0 220.66 529.5 220.93 530.0 221.19 530.5 221.43 531.0 221.65 531.5 221.85 532.0 222.02 532.5 222.18 533.0 222.32 533.5 222.43 534.0 222.53 534.5 222.60 535.0 222.66 535.5 222.69 536.0 222.70 536.5 222.69 537.0 222.65 537.5 222.60 538.0 222.51 538.5 222.41 539.0 222.28 539.5 222.13 540.0 221.96 540.5 221.76 541.0 221.55 541.5 221.31 542.0 221.05 542.5 220.76 543.0 220.46 543.6 220.14 544.1 219.79 544.6 219.43 545.1 219.05 545.6 218.65 546.1 218.23 546.6 217.80 547.1 217.35 547.6 216.88 548.1 216.39 548.6 215.90 549.1 215.38 549.6 214.86 550.1 214.32 550.6 213.76 551.1 213.20 551.6 212.63 552.1 212.04 552.6 211.45 553.1 210.85 553.6 210.24 554.1 209.63 554.6 209.01 555.1 208.38 555.6 207.75 556.1 207.11 556.6 206.48 557.1 205.84 557.6 205.20 558.2 204.56 558.7 203.92 559.2 203.29 559.7 202.65 560.2 202.02 560.7 201.39 561.2 200.77 561.7 200.16 562.2 199.55 562.7 198.95 563.2 198.36 563.7 197.77 564.2 197.20 564.7 196.64 565.2 196.08 565.7 195.54 566.2 195.02 566.7 194.50 567.2 194.01 567.7 193.52 568.2 193.05 568.7 192.60 569.2 192.17 569.7 191.75 570.2 191.35 570.7 190.97 571.2 190.61 571.7 190.26 572.3 189.94 572.8 189.64 573.3 189.35 573.8 189.09 574.3 188.85 574.8 188.64 575.3 188.44 575.8 188.27 576.3 188.12 576.8 187.99 577.3 187.89 577.8 187.80 578.3 187.75 578.8 187.71 579.3 187.70 579.8 187.71 580.3 187.73 580.8 187.77 581.3 187.83 581.8 187.90 582.3 187.99 582.8 188.10 583.3 188.22 583.8 188.35 584.3 188.50 584.8 188.67 585.3 188.85 585.8 189.05 586.3 189.26 586.8 189.49 587.3 189.73 587.8 189.99 588.3 190.26 588.8 190.54 589.3 190.84 589.8 191.15 590.3 191.47 590.8 191.80 591.3 192.15 591.8 192.51 592.3 192.88 592.8 193.26 593.3 193.65 593.8 194.05 594.3 194.46 594.8 194.88 595.3 195.31 595.8 195.75 596.3 196.19 596.8 196.64 597.3 197.10 597.8 197.57 598.3 198.04 598.8 198.52 599.3 199.00 599.8 199.49 600.3 199.98 600.8 200.48 601.3 200.98 601.8 201.48 602.3 201.98 602.8 202.49 603.3 202.99 603.8 203.50 604.3 204.01 604.8 204.51 605.3 205.02 605.8 205.52 606.3 206.02 606.8 206.52 607.3 207.02 607.8 207.51 608.3 208.00 608.8 208.48 609.3 208.96 609.8 209.43 610.3 209.90 610.8 210.36 611.3 210.81 611.8 211.25 612.3 211.69 612.8 212.12 613.3 212.54 613.8 212.95 614.3 213.35 614.8 213.74 615.3 214.12 615.8 214.49 616.3 214.85 616.8 215.20 617.3 215.53 617.8 215.85 618.3 216.16 618.8 216.46 619.3 216.74 619.8 217.01 620.3 217.27 620.8 217.51 621.3 217.74 621.8 217.95 622.3 218.15 622.8 218.33 623.3 218.50 623.8 218.65 624.3 218.78 624.8 218.90 625.3 219.01 625.8 219.10 626.3 219.17 626.8 219.23 627.3 219.27 627.8 219.29 628.3 219.30 628.8 219.30 629.3 219.29 629.8 219.27 630.3 219.25 630.8 219.22 631.3 219.18 631.8 219.14 632.3 219.09 632.8 219.04 633.3 218.97 633.8 218.91 634.3 218.83 634.8 218.75 635.3 218.66 635.8 218.57 636.3 218.47 636.8 218.36 637.3 218.25 637.8 218.14 638.3 218.01 638.8 217.88 639.3 217.75 639.8 217.61 640.3 217.46 640.8 217.31 641.3 217.15 641.8 216.99 642.3 216.82 642.8 216.65 643.4 216.47 643.9 216.29 644.4 216.10 644.9 215.90 645.4 215.71 645.9 215.50 646.4 215.30 646.9 215.09 647.4 214.87 647.9 214.65 648.4 214.43 648.9 214.20 649.4 213.97 649.9 213.74 650.4 213.50 650.9 213.26 651.4 213.01 651.9 212.77 652.4 212.52 652.9 212.26 653.4 212.01 653.9 211.75 654.4 211.49 654.9 211.23 655.4 210.96 655.9 210.70 656.4 210.43 656.9 210.16 657.4 209.89 657.9 209.61 658.4 209.34 658.9 209.06 659.4 208.79 659.9 208.51 660.4 208.23 660.9 207.96 661.4 207.68 661.9 207.40 662.4 207.12 662.9 206.85 663.4 206.57 663.9 206.29 664.4 206.02 664.9 205.74" fill="none" stroke="#ed1c24" stroke-width="1.25" stroke-linejoin="round" stroke-linecap="butt"/>
<path d="M14.7 228.62 15.3 227.98 15.8 227.33 16.3 226.69 16.8 226.05 17.3 225.41 17.8 224.77 18.3 224.13 18.8 223.50 19.3 222.87 19.8 222.24 20.3 221.62 20.8 221.01 21.3 220.40 21.8 219.79 22.3 219.19 22.8 218.60 23.3 218.01 23.8 217.43 24.3 216.86 24.8 216.30 25.3 215.75 25.8 215.20 26.3 214.67 26.8 214.14 27.3 213.63 27.8 213.12 28.3 212.63 28.8 212.15 29.3 211.67 29.8 211.22 30.3 210.77 30.8 210.34 31.3 209.91 31.8 209.51 32.3 209.11 32.8 208.73 33.3 208.37 33.8 208.02 34.3 207.68 34.8 207.36 35.3 207.05 35.8 206.76 36.3 206.48 36.8 206.22 37.3 205.98 37.8 205.75 38.3 205.54 38.8 205.34 39.3 205.16 39.8 205.00 40.3 204.85 40.8 204.72 41.3 204.61 41.8 204.52 42.3 204.44 42.8 204.38 43.3 204.33 43.8 204.31 44.3 204.30 44.8 204.31 45.3 204.34 45.8 204.40 46.3 204.47 46.8 204.57 47.3 204.69 47.8 204.83 48.3 204.99 48.8 205.18 49.3 205.38 49.8 205.60 50.3 205.85 50.8 206.11 51.3 206.40 51.8 206.70 52.3 207.03 52.8 207.37 53.3 207.73 53.8 208.11 54.3 208.51 54.8 208.93 55.3 209.36 55.8 209.81 56.3 210.27 56.8 210.75 57.3 211.25 57.8 211.76 58.3 212.28 58.8 212.82 59.3 213.37 59.8 213.93 60.3 214.51 60.8 215.10 61.3 215.69 61.8 216.30 62.3 216.92 62.8 217.54 63.3 218.18 63.8 218.82 64.3 219.47 64.8 220.12 65.3 220.78 65.8 221.45 66.3 222.12 66.8 222.79 67.3 223.46 67.8 224.14 68.3 224.82 68.8 225.50 69.3 226.18 69.8 226.86 70.3 227.54 70.8 228.21 71.3 228.88 71.8 229.55 72.3 230.22 72.8 230.88 73.3 231.53 73.8 232.18 74.3 232.82 74.8 233.46 75.3 234.08 75.8 234.70 76.3 235.31 76.8 235.90 77.3 236.49 77.8 237.07 78.3 237.63 78.8 238.18 79.3 238.72 79.8 239.24 80.3 239.75 80.8 240.25 81.3 240.73 81.8 241.19 82.3 241.64 82.8 242.07 83.3 242.49 83.8 242.89 84.3 243.27 84.8 243.63 85.3 243.97 85.8 244.30 86.3 244.60 86.8 244.89 87.3 245.15 87.8 245.40 88.3 245.62 88.8 245.82 89.3 246.01 89.8 246.17 90.3 246.31 90.8 246.43 91.3 246.53 91.8 246.60 92.3 246.66 92.8 246.69 93.3 246.70 93.8 246.69 94.3 246.67 94.8 246.63 95.3 246.58 95.8 246.51 96.3 246.42 96.8 246.32 97.3 246.21 97.8 246.07 98.3 245.93 98.8 245.77 99.3 245.59 99.8 245.40 100.3 245.20 100.8 244.98 101.3 244.75 101.8 244.50 102.3 244.25 102.8 243.97 103.3 243.69 103.8 243.39 104.3 243.08 104.8 242.76 105.3 242.42 105.8 242.08 106.4 241.72 106.9 241.35 107.4 240.97 107.9 240.58 108.4 240.18 108.9 239.77 109.4 239.36 109.9 238.93 110.4 238.50 110.9 238.05 111.4 237.60 111.9 237.15 112.4 236.68 112.9 236.21 113.4 235.74 113.9 235.26 114.4 234.77 114.9 234.28 115.4 233.79 115.9 233.29 116.4 232.79 116.9 232.28 117.4 231.78 117.9 231.27 118.4 230.76 118.9 230.25 119.4 229.75 119.9 229.24 120.4 228.73 120.9 228.22 121.4 227.72 121.9 227.21 122.4 226.71 122.9 226.21 123.4 225.72 123.9 225.23 124.4 224.74 124.9 224.26 125.4 223.79 125.9 223.32 126.4 222.85 126.9 222.40 127.4 221.95 127.9 221.50 128.4 221.07 128.9 220.64 129.4 220.23 129.9 219.82 130.4 219.42 130.9 219.03 131.4 218.65 131.9 218.28 132.5 217.92 133.0 217.58 133.5 217.24 134.0 216.92 134.5 216.61 135.0 216.31 135.5 216.03 136.0 215.75 136.5 215.50 137.0 215.25 137.5 215.02 138.0 214.80 138.5 214.60 139.0 214.41 139.5 214.23 140.0 214.07 140.5 213.93 141.0 213.79 141.5 213.68 142.0 213.58 142.5 213.49 143.0 213.42 143.5 213.37 144.0 213.33 144.5 213.31 145.0 213.30 145.5 213.31 146.0 213.34 146.5 213.39 147.0 213.46 147.5 213.55 148.0 213.66 148.5 213.79 149.0 213.94 149.5 214.11 150.0 214.29 150.5 214.50 151.0 214.73 151.5 214.97 152.0 215.23 152.5 215.51 153.0 215.81 153.6 216.12 154.1 216.46 154.6 216.81 155.1 217.17 155.6 217.55 156.1 217.95 156.6 218.36 157.1 218.79 157.6 219.23 158.1 219.69 158.6 220.16 159.1 220.64 159.6 221.14 160.1 221.64 160.6 222.16 161.1 222.69 161.6 223.23 162.1 223.78 162.6 224.34 163.1 224.91 163.6 225.48 164.1 226.07 164.6 226.66 165.1 227.25 165.6 227.85 166.1 228.46 166.6 229.07 167.1 229.69 167.6 230.31 168.1 230.93 168.6 231.55 169.1 232.17 169.7 232.80 170.2 233.43 170.7 234.05 171.2 234.67 171.7 235.29 172.2 235.91 172.7 236.53 173.2 237.14 173.7 237.75 174.2 238.35 174.7 238.94 175.2 239.53 175.7 240.12 176.2 240.69 176.7 241.26 177.2 241.82 177.7 242.37 178.2 242.91 178.7 243.44 179.2 243.96 179.7 244.46 180.2 244.96 180.7 245.44 181.2 245.91 181.7 246.37 182.2 246.81 182.7 247.24 183.2 247.65 183.7 248.05 184.2 248.43 184.7 248.79 185.2 249.14 185.7 249.48 186.3 249.79 186.8 250.09 187.3 250.37 187.8 250.63 188.3 250.87 188.8 251.10 189.3 251.31 189.8 251.49 190.3 251.66 190.8 251.81 191.3 251.94 191.8 252.05 192.3 252.14 192.8 252.21 193.3 252.26 193.8 252.29 194.3 252.30 194.8 252.28 195.3 252.23 195.8 252.15 196.3 252.04 196.8 251.89 197.3 251.71 197.8 251.49 198.3 251.25 198.8 250.97 199.3 250.66 199.8 250.32 200.3 249.95 200.8 249.55 201.3 249.13 201.8 248.67 202.3 248.18 202.8 247.67 203.3 247.13 203.8 246.57 204.3 245.98 204.9 245.36 205.4 244.73 205.9 244.07 206.4 243.39 206.9 242.69 207.4 241.97 207.9 241.23 208.4 240.47 208.9 239.70 209.4 238.91 209.9 238.11 210.4 237.30 210.9 236.47 211.4 235.63 211.9 234.79 212.4 233.93 212.9 233.07 213.4 232.21 213.9 231.34 214.4 230.46 214.9 229.59 215.4 228.71 215.9 227.84 216.4 226.96 216.9 226.09 217.4 225.23 217.9 224.37 218.4 223.51 218.9 222.67 219.4 221.83 219.9 221.00 220.4 220.19 220.9 219.39 221.4 218.60 221.9 217.83 222.4 217.07 222.9 216.33 223.4 215.61 223.9 214.91 224.4 214.23 224.9 213.57 225.4 212.94 226.0 212.32 226.5 211.73 227.0 211.17 227.5 210.63 228.0 210.12 228.5 209.63 229.0 209.17 229.5 208.75 230.0 208.35 230.5 207.98 231.0 207.64 231.5 207.33 232.0 207.05 232.5 206.81 233.0 206.59 233.5 206.41 234.0 206.26 234.5 206.15 235.0 206.07 235.5 206.02 236.0 206.00 236.5 206.01 237.0 206.05 237.5 206.12 238.0 206.20 238.5 206.32 239.0 206.46 239.5 206.63 240.0 206.82 240.5 207.03 241.0 207.27 241.5 207.53 242.0 207.82 242.5 208.13 243.1 208.46 243.6 208.81 244.1 209.19 244.6 209.59 245.1 210.00 245.6 210.44 246.1 210.90 246.6 211.37 247.1 211.87 247.6 212.38 248.1 212.91 248.6 213.45 249.1 214.01 249.6 214.59 250.1 215.17 250.6 215.78 251.1 216.39 251.6 217.01 252.1 217.65 252.6 218.29 253.1 218.94 253.6 219.60 254.1 220.27 254.6 220.94 255.1 221.62 255.6 222.30 256.1 222.98 256.6 223.66 257.1 224.35 257.7 225.04 258.2 225.72 258.7 226.40 259.2 227.08 259.7 227.76 260.2 228.43 260.7 229.10 261.2 229.76 261.7 230.41 262.2 231.05 262.7 231.69 263.2 232.31 263.7 232.92 264.2 233.52 264.7 234.11 265.2 234.69 265.7 235.25 266.2 235.79 266.7 236.32 267.2 236.83 267.7 237.33 268.2 237.80 268.7 238.26 269.2 238.70 269.7 239.11 270.2 239.51 270.7 239.89 271.2 240.24 271.8 240.57 272.3 240.88 272.8 241.17 273.3 241.43 273.8 241.67 274.3 241.88 274.8 242.07 275.3 242.24 275.8 242.38 276.3 242.50 276.8 242.58 277.3 242.65 277.8 242.69 278.3 242.70 278.8 242.69 279.3 242.66 279.8 242.62 280.3 242.55 280.8 242.47 281.3 242.37 281.8 242.26 282.3 242.12 282.8 241.97 283.3 241.80 283.8 241.61 284.3 241.41 284.8 241.19 285.3 240.95 285.8 240.70 286.3 240.44 286.8 240.16 287.3 239.86 287.8 239.55 288.3 239.23 288.8 238.89 289.3 238.55 289.8 238.19 290.3 237.82 290.8 237.43 291.3 237.04 291.8 236.64 292.3 236.23 292.8 235.81 293.3 235.38 293.8 234.95 294.3 234.51 294.8 234.07 295.3 233.62 295.8 233.16 296.3 232.70 296.8 232.24 297.3 231.78 297.8 231.32 298.3 230.85 298.8 230.38 299.3 229.92 299.8 229.46 300.3 229.00 300.8 228.54 301.3 228.08 301.8 227.63 302.3 227.19 302.8 226.75 303.3 226.32 303.8 225.89 304.3 225.47 304.8 225.06 305.3 224.66 305.8 224.27 306.3 223.88 306.8 223.51 307.3 223.15 307.8 222.81 308.3 222.47 308.8 222.15 309.3 221.84 309.8 221.54 310.3 221.26 310.8 221.00 311.3 220.75 311.8 220.51 312.3 220.29 312.8 220.09 313.3 219.90 313.8 219.73 314.3 219.58 314.8 219.44 315.3 219.33 315.8 219.23 316.3 219.15 316.8 219.08 317.3 219.04 317.8 219.01 318.3 219.00 318.8 219.01 319.3 219.02 319.8 219.06 320.3 219.10 320.8 219.16 321.3 219.22 321.8 219.30 322.3 219.40 322.8 219.50 323.3 219.62 323.9 219.74 324.4 219.88 324.9 220.03 325.4 220.20 325.9 220.37 326.4 220.55 326.9 220.75 327.4 220.95 327.9 221.16 328.4 221.39 328.9 221.62 329.4 221.86 329.9 222.11 330.4 222.37 330.9 222.64 331.4 222.91 331.9 223.19 332.4 223.48 332.9 223.77 333.4 224.07 333.9 224.38 334.4 224.69 335.0 225.01 335.5 225.33 336.0 225.66 336.5 225.99 337.0 226.32 337.5 226.65 338.0 226.99 338.5 227.33 339.0 227.67 339.5 228.01 340.0 228.35 340.5 228.69 341.0 229.03 341.5 229.37 342.0 229.71 342.5 230.05 343.0 230.38 343.5 230.71 344.0 231.04 344.5 231.37 345.0 231.69 345.6 232.01 346.1 232.32 346.6 232.63 347.1 232.93 347.6 233.22 348.1 233.51 348.6 233.79 349.1 234.06 349.6 234.33 350.1 234.59 350.6 234.84 351.1 235.08 351.6 235.31 352.1 235.54 352.6 235.75 353.1 235.95 353.6 236.15 354.1 236.33 354.6 236.50 355.1 236.67 355.6 236.82 356.1 236.96 356.7 237.08 357.2 237.20 357.7 237.30 358.2 237.40 358.7 237.48 359.2 237.54 359.7 237.60 360.2 237.64 360.7 237.68 361.2 237.69 361.7 237.70 362.2 237.69 362.7 237.67 363.2 237.63 363.7 237.57 364.2 237.50 364.7 237.42 365.2 237.31 365.7 237.20 366.2 237.07 366.7 236.92 367.2 236.76 367.7 236.58 368.2 236.39 368.7 236.18 369.3 235.97 369.8 235.73 370.3 235.49 370.8 235.23 371.3 234.96 371.8 234.68 372.3 234.38 372.8 234.07 373.3 233.76 373.8 233.43 374.3 233.09 374.8 232.75 375.3 232.39 375.8 232.02 376.3 231.65 376.8 231.27 377.3 230.88 377.8 230.48 378.3 230.08 378.8 229.68 379.3 229.26 379.8 228.85 380.3 228.43 380.8 228.00 381.3 227.58 381.8 227.15 382.3 226.71 382.8 226.28 383.4 225.85 383.9 225.42 384.4 224.99 384.9 224.55 385.4 224.12 385.9 223.70 386.4 223.27 386.9 222.85 387.4 222.44 387.9 222.02 388.4 221.62 388.9 221.22 389.4 220.82 389.9 220.43 390.4 220.05 390.9 219.68 391.4 219.31 391.9 218.95 392.4 218.61 392.9 218.27 393.4 217.94 393.9 217.63 394.4 217.32 394.9 217.02 395.4 216.74 395.9 216.47 396.4 216.21 396.9 215.97 397.4 215.73 398.0 215.52 398.5 215.31 399.0 215.12 399.5 214.94 400.0 214.78 400.5 214.63 401.0 214.50 401.5 214.39 402.0 214.28 402.5 214.20 403.0 214.13 403.5 214.07 404.0 214.03 404.5 214.01 405.0 214.00 405.5 214.01 406.0 214.04 406.5 214.09 407.0 214.17 407.5 214.26 408.0 214.37 408.5 214.51 409.0 214.66 409.5 214.84 410.0 215.03 410.5 215.25 411.0 215.48 411.5 215.73 412.0 216.00 412.5 216.29 413.0 216.60 413.5 216.92 414.0 217.26 414.5 217.62 415.0 217.99 415.5 218.38 416.1 218.79 416.6 219.21 417.1 219.64 417.6 220.09 418.1 220.55 418.6 221.02 419.1 221.50 419.6 222.00 420.1 222.51 420.6 223.02 421.1 223.55 421.6 224.08 422.1 224.62 422.6 225.17 423.1 225.72 423.6 226.28 424.1 226.84 424.6 227.41 425.1 227.98 425.6 228.56 426.1 229.13 426.6 229.71 427.1 230.29 427.6 230.87 428.1 231.44 428.6 232.02 429.1 232.59 429.6 233.16 430.1 233.72 430.6 234.28 431.1 234.83 431.6 235.38 432.1 235.92 432.6 236.45 433.1 236.98 433.6 237.49 434.1 238.00 434.6 238.50 435.1 238.98 435.6 239.45 436.1 239.91 436.6 240.36 437.1 240.79 437.6 241.21 438.2 241.62 438.7 242.01 439.2 242.38 439.7 242.74 440.2 243.08 440.7 243.40 441.2 243.71 441.7 244.00 442.2 244.27 442.7 244.52 443.2 244.75 443.7 244.97 444.2 245.16 444.7 245.34 445.2 245.49 445.7 245.63 446.2 245.74 446.7 245.83 447.2 245.91 447.7 245.96 448.2 245.99 448.7 246.00 449.2 245.99 449.7 245.96 450.2 245.90 450.7 245.83 451.2 245.73 451.7 245.62 452.2 245.48 452.7 245.32 453.2 245.14 453.7 244.94 454.2 244.72 454.7 244.48 455.2 244.23 455.7 243.95 456.2 243.65 456.7 243.34 457.2 243.00 457.7 242.65 458.2 242.29 458.7 241.90 459.2 241.50 459.7 241.08 460.2 240.65 460.7 240.21 461.2 239.74 461.7 239.27 462.2 238.78 462.7 238.28 463.2 237.77 463.7 237.25 464.2 236.72 464.7 236.17 465.2 235.62 465.7 235.06 466.2 234.49 466.7 233.92 467.2 233.34 467.7 232.75 468.2 232.16 468.7 231.56 469.2 230.96 469.7 230.36 470.2 229.76 470.7 229.15 471.3 228.55 471.8 227.94 472.3 227.34 472.8 226.74 473.3 226.14 473.8 225.54 474.3 224.95 474.8 224.36 475.3 223.78 475.8 223.21 476.3 222.64 476.8 222.08 477.3 221.53 477.8 220.98 478.3 220.45 478.8 219.93 479.3 219.42 479.8 218.92 480.3 218.43 480.8 217.96 481.3 217.49 481.8 217.05 482.3 216.62 482.8 216.20 483.3 215.80 483.8 215.41 484.3 215.05 484.8 214.70 485.3 214.36 485.8 214.05 486.3 213.75 486.8 213.47 487.3 213.22 487.8 212.98 488.3 212.76 488.8 212.56 489.3 212.38 489.8 212.22 490.3 212.08 490.8 211.97 491.3 211.87 491.8 211.80 492.3 211.74 492.8 211.71 493.3 211.70 493.8 211.71 494.3 211.74 494.8 211.79 495.3 211.86 495.8 211.95 496.3 212.05 496.8 212.18 497.3 212.33 497.9 212.49 498.4 212.67 498.9 212.88 499.4 213.10 499.9 213.33 500.4 213.59 500.9 213.86 501.4 214.15 501.9 214.46 502.4 214.78 502.9 215.12 503.4 215.48 503.9 215.85 504.4 216.23 504.9 216.63 505.4 217.04 505.9 217.46 506.4 217.90 507.0 218.35 507.5 218.81 508.0 219.28 508.5 219.76 509.0 220.25 509.5 220.75 510.0 221.26 510.5 221.78 511.0 222.30 511.5 222.83 512.0 223.37 512.5 223.91 513.0 224.45 513.5 225.00 514.0 225.55 514.5 226.11 515.0 226.66 515.5 227.22 516.1 227.78 516.6 228.34 517.1 228.89 517.6 229.45 518.1 230.00 518.6 230.55 519.1 231.09 519.6 231.63 520.1 232.17 520.6 232.70 521.1 233.22 521.6 233.74 522.1 234.25 522.6 234.75 523.1 235.24 523.6 235.72 524.1 236.19 524.6 236.65 525.2 237.10 525.7 237.54 526.2 237.96 526.7 238.37 527.2 238.77 527.7 239.15 528.2 239.52 528.7 239.88 529.2 240.22 529.7 240.54 530.2 240.85 530.7 241.14 531.2 241.41 531.7 241.67 532.2 241.90 532.7 242.12 533.2 242.33 533.7 242.51 534.3 242.67 534.8 242.82 535.3 242.95 535.8 243.05 536.3 243.14 536.8 243.21 537.3 243.26 537.8 243.29 538.3 243.30 538.8 243.29 539.3 243.26 539.8 243.22 540.3 243.15 540.8 243.07 541.3 242.97 541.8 242.85 542.3 242.71 542.8 242.55 543.3 242.38 543.8 242.19 544.3 241.98 544.8 241.76 545.3 241.52 545.8 241.26 546.3 240.99 546.8 240.70 547.3 240.40 547.8 240.08 548.3 239.75 548.9 239.40 549.4 239.05 549.9 238.68 550.4 238.29 550.9 237.90 551.4 237.50 551.9 237.08 552.4 236.66 552.9 236.22 553.4 235.78 553.9 235.33 554.4 234.87 554.9 234.41 555.4 233.94 555.9 233.47 556.4 232.99 556.9 232.50 557.4 232.02 557.9 231.53 558.4 231.04 558.9 230.55 559.4 230.05 559.9 229.56 560.4 229.07 560.9 228.58 561.4 228.10 561.9 227.61 562.4 227.13 562.9 226.66 563.4 226.19 563.9 225.73 564.4 225.27 564.9 224.82 565.4 224.38 565.9 223.94 566.4 223.52 566.9 223.10 567.4 222.70 567.9 222.31 568.4 221.92 568.9 221.55 569.4 221.20 570.0 220.85 570.5 220.52 571.0 220.20 571.5 219.90 572.0 219.61 572.5 219.34 573.0 219.08 573.5 218.84 574.0 218.62 574.5 218.41 575.0 218.22 575.5 218.05 576.0 217.89 576.5 217.75 577.0 217.63 577.5 217.53 578.0 217.45 578.5 217.38 579.0 217.34 579.5 217.31 580.0 217.30 580.5 217.31 581.0 217.33 581.5 217.36 582.0 217.41 582.5 217.47 583.0 217.54 583.5 217.63 584.0 217.73 584.5 217.84 585.0 217.96 585.5 218.10 586.0 218.25 586.5 218.41 587.0 218.58 587.5 218.77 588.0 218.96 588.5 219.17 589.0 219.39 589.5 219.62 590.0 219.85 590.6 220.10 591.1 220.36 591.6 220.62 592.1 220.90 592.6 221.18 593.1 221.47 593.6 221.77 594.1 222.08 594.6 222.39 595.1 222.71 595.6 223.03 596.1 223.36 596.6 223.69 597.1 224.03 597.6 224.37 598.1 224.72 598.6 225.07 599.1 225.41 599.6 225.77 600.1 226.12 600.6 226.47 601.1 226.83 601.6 227.18 602.1 227.53 602.6 227.89 603.1 228.23 603.6 228.58 604.1 228.93 604.6 229.27 605.1 229.61 605.6 229.94 606.1 230.27 606.6 230.59 607.1 230.91 607.6 231.22 608.1 231.53 608.6 231.83 609.1 232.12 609.6 232.40 610.1 232.68 610.6 232.94 611.1 233.20 611.7 233.45 612.2 233.68 612.7 233.91 613.2 234.13 613.7 234.34 614.2 234.53 614.7 234.72 615.2 234.89 615.7 235.05 616.2 235.20 616.7 235.34 617.2 235.46 617.7 235.57 618.2 235.67 618.7 235.76 619.2 235.83 619.7 235.89 620.2 235.94 620.7 235.97 621.2 235.99 621.7 236.00 622.2 236.00 622.7 235.99 623.2 235.97 623.7 235.95 624.2 235.92 624.7 235.88 625.2 235.84 625.7 235.79 626.2 235.74 626.7 235.68 627.2 235.61 627.7 235.54 628.2 235.46 628.8 235.37 629.3 235.28 629.8 235.19 630.3 235.09 630.8 234.98 631.3 234.87 631.8 234.76 632.3 234.63 632.8 234.51 633.3 234.38 633.8 234.25 634.3 234.11 634.8 233.97 635.3 233.83 635.8 233.68 636.3 233.53 636.8 233.38 637.3 233.22 637.8 233.06 638.3 232.90 638.8 232.74 639.3 232.58 639.8 232.41 640.3 232.25 640.8 232.08 641.3 231.92 641.9 231.75 642.4 231.58 642.9 231.42 643.4 231.25 643.9 231.09 644.4 230.92 644.9 230.76 645.4 230.60 645.9 230.44 646.4 230.28 646.9 230.12 647.4 229.97 647.9 229.82 648.4 229.67 648.9 229.53 649.4 229.39 649.9 229.25 650.4 229.12 650.9 228.99 651.4 228.87 651.9 228.74 652.4 228.63 652.9 228.52 653.4 228.41 653.9 228.31 654.4 228.22 654.9 228.13 655.5 228.04 656.0 227.96 656.5 227.89 657.0 227.82 657.5 227.76 658.0 227.71 658.5 227.66 659.0 227.62 659.5 227.58 660.0 227.55 660.5 227.53 661.0 227.51 661.5 227.50 662.0 227.50 662.5 227.51 663.0 227.53 663.5 227.57 664.0 227.59 664.5 227.60" fill="none" stroke="#21479d" stroke-width="1.25" stroke-linejoin="round" stroke-linecap="butt"/>
<path d="M14.7 278.80 15.0 277.41 15.4 276.03 15.7 276.33 16.0 277.18 16.4 278.40 16.7 279.76 17.0 280.99 17.3 281.83 17.7 282.14 18.0 281.78 18.3 280.77 18.7 279.31 19.0 277.70 19.3 276.25 19.6 275.24 20.0 274.88 20.3 275.31 20.6 276.53 21.0 278.28 21.3 280.23 21.6 281.98 21.9 283.20 22.3 283.63 22.6 283.11 22.9 281.64 23.3 279.51 23.6 277.16 23.9 275.03 24.3 273.56 24.6 273.04 24.9 273.55 25.2 275.03 25.5 277.23 25.8 279.83 26.2 282.43 26.5 284.64 26.8 286.11 27.1 286.63 27.4 285.95 27.7 284.03 28.1 281.15 28.4 277.76 28.7 274.36 29.0 271.49 29.3 269.56 29.6 268.89 30.0 269.73 30.3 272.13 30.6 275.72 30.9 279.95 31.2 284.18 31.5 287.77 31.8 290.16 32.1 291.00 32.4 289.99 32.7 287.09 33.0 282.76 33.3 277.64 33.6 272.53 33.9 268.20 34.2 265.30 34.5 264.28 34.8 265.46 35.1 268.82 35.4 273.85 35.8 279.77 36.1 285.70 36.4 290.73 36.7 294.09 37.0 295.27 37.3 293.94 37.7 290.16 38.0 284.49 38.3 277.82 38.6 271.14 38.9 265.48 39.2 261.69 39.6 260.37 39.9 261.73 40.2 265.60 40.5 271.39 40.8 278.22 41.1 285.05 41.5 290.84 41.8 294.71 42.1 296.07 42.4 294.80 42.7 291.18 43.0 285.76 43.4 279.37 43.7 272.98 44.0 267.56 44.3 263.94 44.6 262.67 45.0 263.87 45.3 267.27 45.6 272.38 45.9 278.39 46.3 284.41 46.6 289.51 46.9 292.92 47.3 294.11 47.6 292.98 47.9 289.75 48.3 284.91 48.6 279.20 48.9 273.49 49.3 268.65 49.6 265.42 49.9 264.28 50.2 265.47 50.6 268.87 50.9 273.95 51.2 279.95 51.5 285.94 51.8 291.02 52.1 294.42 52.5 295.61 52.8 294.24 53.1 290.35 53.4 284.52 53.7 277.64 54.0 270.77 54.4 264.94 54.7 261.04 55.0 259.68 55.3 261.21 55.6 265.56 55.9 272.08 56.2 279.77 56.5 287.47 56.8 293.99 57.1 298.34 57.4 299.87 57.7 298.19 58.0 293.41 58.3 286.26 58.6 277.82 58.9 269.38 59.2 262.22 59.5 257.44 59.8 255.76 60.1 257.47 60.5 262.34 60.8 269.62 61.1 278.22 61.4 286.81 61.7 294.10 62.0 298.97 62.4 300.68 62.7 299.06 63.0 294.44 63.3 287.53 63.6 279.37 63.9 271.22 64.3 264.30 64.6 259.68 64.9 258.06 65.2 259.51 65.5 263.63 65.8 269.79 66.2 277.07 66.5 284.34 66.8 290.51 67.1 294.63 67.4 296.07 67.7 294.89 68.1 291.52 68.4 286.47 68.7 280.52 69.0 274.57 69.3 269.53 69.6 266.16 70.0 264.97 70.3 265.98 70.6 268.85 70.9 273.15 71.2 278.22 71.5 283.29 71.8 287.59 72.1 290.46 72.4 291.47 72.7 290.54 73.0 287.92 73.3 284.00 73.6 279.37 73.9 274.74 74.2 270.82 74.5 268.20 74.8 267.28 75.1 268.23 75.4 270.95 75.7 275.03 76.1 279.83 76.4 284.64 76.7 288.71 77.0 291.43 77.3 292.39 77.7 291.27 78.0 288.10 78.3 283.36 78.6 277.76 78.9 272.16 79.2 267.42 79.6 264.24 79.9 263.13 80.2 264.33 80.5 267.75 80.8 272.87 81.1 278.91 81.5 284.95 81.8 290.07 82.1 293.49 82.4 294.69 82.7 293.47 83.0 290.00 83.4 284.81 83.7 278.68 84.0 272.55 84.3 267.36 84.6 263.89 84.9 262.67 85.3 263.77 85.6 266.89 85.9 271.56 86.3 277.07 86.6 282.58 86.9 287.25 87.3 290.37 87.6 291.47 87.9 290.63 88.2 288.26 88.6 284.71 88.9 280.52 89.2 276.34 89.6 272.79 89.9 270.41 90.2 269.58 90.6 270.34 90.9 272.46 91.2 275.54 91.6 278.94 91.9 282.02 92.2 284.14 92.5 284.90 92.9 284.45 93.2 283.19 93.5 281.36 93.9 279.34 94.2 277.51 94.5 276.25 94.8 275.80 95.2 276.17 95.5 277.19 95.8 278.67 96.2 280.31 96.5 281.78 96.8 282.81 97.1 283.17 97.5 282.67 97.8 281.26 98.1 279.23 98.5 276.98 98.8 274.94 99.1 273.54 99.4 273.04 99.8 273.62 100.1 275.27 100.4 277.65 100.8 280.29 101.1 282.67 101.4 284.31 101.8 284.90 102.1 284.28 102.4 282.54 102.7 280.02 103.1 277.23 103.4 274.71 103.7 272.97 104.1 272.35 104.4 272.97 104.7 274.71 105.0 277.23 105.4 280.02 105.7 282.54 106.0 284.28 106.4 284.90 106.7 284.31 107.0 282.67 107.3 280.29 107.7 277.65 108.0 275.27 108.3 273.62 108.7 273.04 109.0 273.69 109.3 275.53 109.7 278.19 110.0 281.13 110.3 283.79 110.6 285.63 111.0 286.28 111.3 285.45 111.6 283.14 112.0 279.79 112.3 276.07 112.6 272.72 112.9 270.41 113.3 269.58 113.6 270.61 113.9 273.48 114.3 277.64 114.6 282.25 114.9 286.41 115.2 289.29 115.6 290.31 115.9 289.06 116.2 285.54 116.6 280.46 116.9 274.82 117.2 269.74 117.5 266.23 117.9 264.97 118.2 266.86 118.6 272.03 118.9 279.08 119.3 286.14 119.6 291.30 120.0 293.19 120.3 291.23 120.6 285.85 121.0 278.51 121.3 271.16 121.7 265.79 122.0 263.82 122.4 265.19 122.7 269.03 123.0 274.57 123.3 280.72 123.7 286.26 124.0 290.10 124.3 291.47 124.7 290.32 125.0 287.13 125.3 282.51 125.6 277.38 126.0 272.77 126.3 269.57 126.6 268.43 127.0 269.37 127.3 272.01 127.6 275.82 127.9 280.05 128.3 283.86 128.6 286.49 128.9 287.43 129.3 286.66 129.6 284.51 129.9 281.39 130.3 277.93 130.6 274.81 130.9 272.65 131.2 271.88 131.6 272.74 131.9 275.14 132.2 278.60 132.6 282.45 132.9 285.91 133.2 288.31 133.5 289.16 133.9 287.96 134.2 284.61 134.5 279.76 134.9 274.38 135.2 269.53 135.5 266.17 135.8 264.97 136.2 266.16 136.5 269.53 136.8 274.57 137.1 280.52 137.4 286.47 137.7 291.52 138.1 294.89 138.4 296.07 138.7 294.63 139.0 290.51 139.3 284.34 139.6 277.07 140.0 269.79 140.3 263.63 140.6 259.51 140.9 258.06 141.2 260.08 141.6 265.72 141.9 273.87 142.2 282.92 142.6 291.07 142.9 296.71 143.2 298.72 143.5 296.79 143.9 291.37 144.2 283.54 144.5 274.85 144.9 267.03 145.2 261.61 145.5 259.68 145.8 261.00 146.2 264.77 146.5 270.41 146.8 277.07 147.1 283.72 147.4 289.37 147.7 293.14 148.1 294.46 148.4 293.40 148.7 290.38 149.0 285.86 149.3 280.52 149.6 275.19 150.0 270.67 150.3 267.65 150.6 266.59 150.9 267.72 151.2 270.90 151.6 275.50 151.9 280.60 152.2 285.19 152.6 288.37 152.9 289.51 153.2 288.52 153.6 285.76 153.9 281.76 154.2 277.33 154.5 273.33 154.9 270.57 155.2 269.58 155.5 270.92 155.8 274.56 156.1 279.54 156.4 284.53 156.7 288.17 157.0 289.51 157.3 287.97 157.7 283.78 158.0 278.05 158.3 272.32 158.6 268.12 158.9 266.59 159.2 267.61 159.5 270.53 159.8 274.91 160.1 280.06 160.5 285.22 160.8 289.59 161.1 292.51 161.4 293.54 161.7 292.32 162.0 288.85 162.4 283.66 162.7 277.53 163.0 271.40 163.3 266.21 163.6 262.74 163.9 261.52 164.3 262.31 164.6 264.63 164.9 268.22 165.2 272.76 165.5 277.79 165.8 282.81 166.1 287.35 166.4 290.95 166.8 293.26 167.1 294.06 167.4 293.36 167.7 291.33 168.0 288.18 168.3 284.21 168.6 279.80 168.9 275.40 169.3 271.42 169.6 268.27 169.9 266.25 170.2 265.55 170.5 266.43 170.8 268.94 171.1 272.70 171.4 277.13 171.7 281.55 172.0 285.31 172.3 287.82 172.6 288.70 172.9 288.07 173.2 286.29 173.5 283.62 173.8 280.47 174.1 277.31 174.4 274.64 174.7 272.86 175.0 272.23 175.4 272.71 175.7 274.09 176.0 276.16 176.4 278.59 176.7 281.03 177.0 283.09 177.4 284.47 177.7 284.96 178.0 284.50 178.4 283.21 178.7 281.28 179.0 279.00 179.4 276.72 179.7 274.78 180.0 273.49 180.4 273.04 180.7 273.62 181.0 275.25 181.4 277.60 181.7 280.22 182.0 282.57 182.3 284.20 182.7 284.78 183.0 284.18 183.3 282.49 183.7 280.04 184.0 277.32 184.3 274.87 184.6 273.18 185.0 272.58 185.3 273.19 185.6 274.90 186.0 277.37 186.3 280.11 186.6 282.58 186.9 284.29 187.3 284.90 187.6 284.30 187.9 282.62 188.3 280.20 188.6 277.51 188.9 275.08 189.3 273.40 189.6 272.81 189.9 273.50 190.2 275.43 190.6 278.22 190.9 281.32 191.2 284.12 191.6 286.05 191.9 286.74 192.2 285.86 192.5 283.38 192.9 279.80 193.2 275.83 193.5 272.25 193.9 269.77 194.2 268.89 194.5 270.00 194.8 273.10 195.2 277.58 195.5 282.55 195.8 287.03 196.2 290.13 196.5 291.23 196.8 289.88 197.1 286.07 197.5 280.58 197.8 274.48 198.1 268.98 198.5 265.18 198.8 263.82 199.1 265.87 199.4 271.45 199.8 279.08 200.1 286.71 200.4 292.30 200.8 294.34 201.1 292.22 201.4 286.43 201.7 278.51 202.1 270.59 202.4 264.79 202.7 262.67 203.0 264.10 203.4 268.09 203.7 273.86 204.0 280.27 204.4 286.04 204.7 290.04 205.0 291.47 205.3 290.38 205.7 287.35 206.0 282.96 206.3 278.09 206.7 273.70 207.0 270.66 207.3 269.58 207.6 270.07 208.0 271.46 208.3 273.54 208.6 275.99 209.0 278.44 209.3 280.52 209.6 281.91 210.0 282.40 210.3 281.86 210.6 280.35 211.0 278.08 211.3 275.41 211.6 272.74 212.0 270.47 212.3 268.96 212.6 268.43 212.9 269.44 213.3 272.31 213.6 276.61 213.9 281.67 214.3 286.74 214.6 291.04 214.9 293.91 215.3 294.92 215.6 293.47 215.9 289.35 216.3 283.19 216.6 275.92 216.9 268.64 217.3 262.48 217.6 258.36 217.9 256.91 218.2 259.16 218.6 265.48 218.9 274.60 219.2 284.72 219.6 293.84 219.9 300.15 220.2 302.41 220.5 299.98 220.9 293.19 221.2 283.38 221.5 272.48 221.9 262.67 222.2 255.88 222.5 253.46 222.8 255.88 223.1 262.67 223.5 272.48 223.8 283.38 224.1 293.19 224.4 299.98 224.7 302.41 225.0 300.15 225.3 293.84 225.6 284.72 226.0 274.60 226.3 265.48 226.6 259.16 226.9 256.91 227.2 258.34 227.5 262.39 227.8 268.47 228.1 275.63 228.4 282.79 228.7 288.86 229.0 292.92 229.3 294.34 229.6 293.40 229.9 290.72 230.2 286.70 230.5 281.96 230.8 277.22 231.1 273.21 231.4 270.52 231.7 269.58 232.0 270.13 232.4 271.73 232.7 274.21 233.0 277.34 233.3 280.81 233.6 284.28 233.9 287.41 234.2 289.90 234.5 291.49 234.8 292.04 235.2 291.29 235.5 289.13 235.8 285.75 236.1 281.50 236.4 276.78 236.7 272.06 237.0 267.81 237.3 264.43 237.6 262.27 238.0 261.52 238.3 263.40 238.6 268.67 238.9 276.29 239.3 284.75 239.6 292.37 239.9 297.65 240.3 299.53 240.6 297.30 240.9 291.07 241.2 282.07 241.6 272.07 241.9 263.06 242.2 256.83 242.6 254.61 242.9 256.97 243.2 263.61 243.6 273.19 243.9 283.83 244.2 293.41 244.5 300.04 244.9 302.41 245.2 300.10 245.5 293.63 245.9 284.27 246.2 273.89 246.5 264.54 246.8 258.07 247.2 255.76 247.5 257.81 247.8 263.57 248.2 271.88 248.5 281.11 248.8 289.42 249.1 295.17 249.5 297.22 249.8 295.63 250.1 291.15 250.5 284.69 250.8 277.51 251.1 271.04 251.4 266.57 251.8 264.97 252.1 265.83 252.4 268.26 252.8 271.91 253.1 276.20 253.4 280.50 253.8 284.14 254.1 286.58 254.4 287.43 254.8 286.97 255.1 285.66 255.4 283.70 255.8 281.39 256.1 279.07 256.4 277.11 256.7 275.80 257.1 275.34 257.4 275.80 257.7 277.11 258.0 279.07 258.3 281.39 258.7 283.70 259.0 285.66 259.3 286.97 259.6 287.43 259.9 286.58 260.2 284.14 260.6 280.50 260.9 276.20 261.2 271.91 261.5 268.26 261.8 265.83 262.1 264.97 262.5 266.07 262.8 269.19 263.1 273.86 263.4 279.37 263.7 284.88 264.0 289.55 264.4 292.67 264.7 293.77 265.0 292.59 265.3 289.21 265.6 284.17 265.9 278.22 266.3 272.27 266.6 267.22 266.9 263.85 267.2 262.67 267.5 264.15 267.9 268.31 268.2 274.31 268.5 280.98 268.9 286.98 269.2 291.13 269.5 292.62 269.8 291.36 270.2 287.85 270.5 282.77 270.8 277.13 271.2 272.05 271.5 268.53 271.8 267.28 272.2 268.70 272.5 272.60 272.9 277.93 273.2 283.26 273.5 287.16 273.9 288.59 274.2 287.39 274.6 284.12 274.9 279.66 275.3 275.20 275.6 271.93 276.0 270.73 276.3 271.89 276.7 275.05 277.0 279.37 277.3 283.69 277.7 286.85 278.0 288.01 278.4 286.70 278.7 283.11 279.1 278.22 279.4 273.32 279.8 269.74 280.1 268.43 280.4 269.57 280.7 272.77 281.1 277.38 281.4 282.51 281.7 287.13 282.0 290.32 282.3 291.47 282.6 290.10 282.9 286.26 283.2 280.72 283.6 274.57 283.9 269.03 284.2 265.19 284.5 263.82 284.8 265.75 285.2 271.02 285.5 278.22 285.9 285.42 286.2 290.69 286.6 292.62 286.9 290.84 287.3 285.99 287.6 279.37 287.9 272.75 288.3 267.90 288.6 266.13 289.0 266.96 289.3 269.30 289.6 272.68 290.0 276.44 290.3 279.82 290.6 282.16 290.9 283.00 291.3 282.58 291.6 281.41 291.9 279.73 292.3 277.86 292.6 276.18 292.9 275.01 293.2 274.60 293.6 274.85 293.9 275.58 294.2 276.70 294.5 278.07 294.8 279.52 295.2 280.90 295.5 282.01 295.8 282.74 296.1 283.00 296.4 282.59 296.8 281.43 297.1 279.64 297.4 277.45 297.7 275.12 298.0 272.93 298.4 271.15 298.7 269.99 299.0 269.58 299.3 270.52 299.7 273.21 300.0 277.22 300.3 281.96 300.7 286.70 301.0 290.72 301.3 293.40 301.7 294.34 302.0 292.92 302.3 288.86 302.6 282.79 303.0 275.63 303.3 268.47 303.6 262.39 304.0 258.34 304.3 256.91 304.6 259.09 305.0 265.19 305.3 274.02 305.6 283.81 305.9 292.63 306.3 298.73 306.6 300.91 306.9 298.71 307.3 292.54 307.6 283.63 307.9 273.73 308.2 264.82 308.6 258.65 308.9 256.45 309.2 258.42 309.5 263.95 309.8 271.94 310.2 280.81 310.5 288.80 310.8 294.33 311.1 296.30 311.4 294.81 311.7 290.62 312.0 284.57 312.3 277.86 312.7 271.81 313.0 267.62 313.3 266.13 313.6 266.98 313.9 269.41 314.3 273.06 314.6 277.36 314.9 281.65 315.3 285.30 315.6 287.73 315.9 288.59 316.3 287.95 316.6 286.14 316.9 283.43 317.3 280.23 317.6 277.04 317.9 274.33 318.3 272.52 318.6 271.88 318.9 272.63 319.2 274.75 319.6 277.93 319.9 281.67 320.2 285.42 320.6 288.60 320.9 290.72 321.2 291.47 321.6 290.28 321.9 286.91 322.2 281.87 322.6 275.92 322.9 269.97 323.2 264.92 323.6 261.55 323.9 260.37 324.2 261.86 324.5 266.10 324.8 272.45 325.1 279.95 325.5 287.44 325.8 293.79 326.1 298.04 326.4 299.53 326.7 297.86 327.0 293.12 327.4 286.02 327.7 277.64 328.0 269.27 328.3 262.17 328.6 257.42 328.9 255.76 329.3 257.93 329.6 264.00 329.9 272.77 330.3 282.51 330.6 291.29 330.9 297.36 331.3 299.53 331.6 297.59 331.9 292.16 332.2 284.30 332.6 275.59 332.9 267.74 333.2 262.31 333.6 260.37 333.9 261.92 334.2 266.27 334.5 272.57 334.8 279.55 335.1 285.84 335.4 290.20 335.8 291.75 336.1 290.92 336.4 288.60 336.7 285.24 337.0 281.51 337.3 278.15 337.6 275.82 338.0 275.00 338.3 275.18 338.6 275.72 338.9 276.56 339.2 277.62 339.5 278.80 339.8 279.97 340.2 281.03 340.5 281.87 340.8 282.41 341.1 282.60 341.4 282.30 341.7 281.46 342.0 280.15 342.3 278.50 342.7 276.66 343.0 274.83 343.3 273.18 343.6 271.87 343.9 271.02 344.2 270.73 344.5 271.65 344.9 274.20 345.2 277.90 345.5 282.00 345.9 285.69 346.2 288.25 346.5 289.16 346.8 288.02 347.2 284.82 347.5 280.21 347.8 275.08 348.2 270.46 348.5 267.27 348.8 266.13 349.2 267.37 349.5 270.85 349.8 275.89 350.1 281.47 350.5 286.51 350.8 289.99 351.1 291.23 351.5 290.01 351.8 286.59 352.1 281.65 352.4 276.17 352.8 271.23 353.1 267.81 353.4 266.59 353.8 268.16 354.1 272.46 354.5 278.33 354.8 284.21 355.2 288.51 355.5 290.08 355.8 288.63 356.2 284.67 356.5 279.26 356.9 273.84 357.2 269.88 357.6 268.43 357.9 269.48 358.2 272.44 358.5 276.71 358.8 281.45 359.1 285.73 359.5 288.68 359.8 289.74 360.1 288.63 360.4 285.51 360.7 281.01 361.0 276.01 361.3 271.51 361.6 268.39 362.0 267.28 362.3 268.86 362.6 273.18 363.0 279.08 363.3 284.99 363.7 289.31 364.0 290.89 364.4 289.23 364.7 284.70 365.1 278.51 365.4 272.32 365.8 267.78 366.1 266.13 366.4 267.75 366.8 272.17 367.1 278.22 367.4 284.27 367.7 288.69 368.1 290.31 368.4 288.85 368.7 284.84 369.0 279.37 369.4 273.90 369.7 269.89 370.0 268.43 370.3 269.06 370.7 270.87 371.0 273.58 371.3 276.78 371.7 279.98 372.0 282.68 372.3 284.49 372.7 285.13 373.0 284.80 373.3 283.87 373.7 282.46 374.0 280.81 374.3 279.16 374.7 277.76 375.0 276.82 375.3 276.49 375.6 276.89 376.0 278.01 376.3 279.69 376.6 281.67 377.0 283.66 377.3 285.34 377.6 286.46 378.0 286.86 378.3 286.02 378.6 283.65 379.0 280.10 379.3 275.92 379.6 271.73 379.9 268.18 380.3 265.81 380.6 264.97 380.9 266.18 381.2 269.61 381.6 274.75 381.9 280.81 382.2 286.87 382.5 292.01 382.8 295.44 383.1 296.65 383.5 295.14 383.8 290.83 384.1 284.38 384.4 276.78 384.7 269.18 385.0 262.73 385.4 258.42 385.7 256.91 386.0 259.05 386.3 265.04 386.7 273.70 387.0 283.31 387.3 291.97 387.7 297.96 388.0 300.10 388.3 298.02 388.6 292.19 389.0 283.76 389.3 274.41 389.6 265.98 390.0 260.14 390.3 258.06 390.6 259.49 390.9 263.54 391.2 269.62 391.6 276.78 391.9 283.94 392.2 290.01 392.5 294.07 392.8 295.50 393.1 294.38 393.5 291.20 393.8 286.43 394.1 280.81 394.4 275.19 394.7 270.43 395.0 267.24 395.4 266.13 395.7 267.02 396.0 269.58 396.3 273.41 396.7 277.93 397.0 282.45 397.3 286.28 397.7 288.84 398.0 289.74 398.3 288.97 398.7 286.79 399.0 283.52 399.3 279.66 399.7 275.80 400.0 272.53 400.3 270.35 400.7 269.58 401.0 270.78 401.3 274.13 401.6 278.98 402.0 284.37 402.3 289.22 402.6 292.57 403.0 293.77 403.3 292.00 403.6 287.05 403.9 279.89 404.3 271.94 404.6 264.78 404.9 259.83 405.3 258.06 405.6 260.20 405.9 266.19 406.2 274.85 406.6 284.46 406.9 293.12 407.2 299.12 407.6 301.26 407.9 298.95 408.2 292.47 408.6 283.12 408.9 272.74 409.2 263.39 409.5 256.92 409.9 254.61 410.2 256.86 410.5 263.17 410.9 272.29 411.2 282.42 411.5 291.54 411.8 297.85 412.2 300.10 412.5 298.14 412.8 292.62 413.2 284.66 413.5 275.81 413.8 267.85 414.1 262.33 414.5 260.37 414.8 261.55 415.1 264.92 415.5 269.97 415.8 275.92 416.1 281.87 416.5 286.91 416.8 290.28 417.1 291.47 417.5 290.72 417.8 288.60 418.1 285.42 418.4 281.67 418.8 277.93 419.1 274.75 419.4 272.63 419.8 271.88 420.1 272.37 420.4 273.77 420.7 275.92 421.1 278.55 421.4 281.35 421.7 283.98 422.0 286.12 422.3 287.52 422.7 288.01 423.0 287.38 423.3 285.58 423.6 282.83 423.9 279.44 424.3 275.84 424.6 272.46 424.9 269.70 425.2 267.90 425.5 267.28 425.9 268.53 426.2 272.05 426.5 277.13 426.8 282.77 427.2 287.85 427.5 291.36 427.8 292.62 428.2 291.13 428.5 286.98 428.8 280.98 429.2 274.31 429.5 268.31 429.8 264.15 430.1 262.67 430.5 263.85 430.8 267.22 431.1 272.27 431.4 278.22 431.7 284.17 432.0 289.21 432.4 292.59 432.7 293.77 433.0 292.67 433.3 289.55 433.6 284.88 433.9 279.37 434.3 273.86 434.6 269.19 434.9 266.07 435.2 264.97 435.5 266.14 435.9 269.42 436.2 274.15 436.5 279.41 436.9 284.14 437.2 287.42 437.5 288.59 437.8 287.82 438.2 285.66 438.5 282.54 438.8 279.08 439.2 275.96 439.5 273.81 439.8 273.04 440.1 273.30 440.4 274.09 440.8 275.32 441.1 276.91 441.4 278.72 441.7 280.60 442.0 282.41 442.3 284.00 442.6 285.23 443.0 286.01 443.3 286.28 443.6 285.94 443.9 284.96 444.2 283.40 444.5 281.40 444.8 279.12 445.2 276.74 445.5 274.46 445.8 272.46 446.1 270.91 446.4 269.92 446.7 269.58 447.1 270.82 447.4 274.19 447.8 278.80 448.1 283.40 448.5 286.78 448.8 288.01 449.1 286.78 449.5 283.40 449.8 278.80 450.2 274.19 450.5 270.82 450.9 269.58 451.2 270.17 451.5 271.86 451.8 274.38 452.1 277.36 452.5 280.33 452.8 282.85 453.1 284.54 453.4 285.13 453.7 284.76 454.0 283.70 454.4 282.11 454.7 280.23 455.0 278.36 455.3 276.77 455.6 275.71 455.9 275.34 456.3 275.63 456.6 276.49 456.9 277.79 457.2 279.38 457.5 281.09 457.9 282.68 458.2 283.98 458.5 284.83 458.8 285.13 459.1 284.66 459.5 283.31 459.8 281.24 460.1 278.71 460.4 276.01 460.7 273.47 461.1 271.40 461.4 270.05 461.7 269.58 462.0 270.46 462.3 272.95 462.6 276.69 463.0 281.10 463.3 285.51 463.6 289.24 463.9 291.74 464.2 292.62 464.5 291.39 464.9 287.89 465.2 282.66 465.5 276.49 465.8 270.32 466.1 265.09 466.5 261.59 466.8 260.37 467.1 261.77 467.4 265.76 467.7 271.74 468.0 278.80 468.3 285.85 468.6 291.83 468.9 295.82 469.2 297.22 469.5 295.82 469.8 291.83 470.1 285.85 470.4 278.80 470.7 271.74 471.0 265.76 471.3 261.77 471.6 260.37 471.9 261.66 472.2 265.34 472.6 270.85 472.9 277.36 473.2 283.86 473.5 289.37 473.8 293.05 474.1 294.34 474.5 293.27 474.8 290.21 475.1 285.63 475.4 280.23 475.7 274.84 476.0 270.26 476.4 267.20 476.7 266.13 477.0 267.09 477.3 269.84 477.7 273.95 478.0 278.80 478.3 283.64 478.7 287.75 479.0 290.50 479.3 291.47 479.7 290.50 480.0 287.75 480.3 283.64 480.6 278.80 481.0 273.95 481.3 269.84 481.6 267.09 482.0 266.13 482.3 267.22 482.6 270.34 482.9 275.01 483.2 280.52 483.6 286.03 483.9 290.70 484.2 293.82 484.5 294.92 484.8 293.56 485.1 289.69 485.5 283.90 485.8 277.07 486.1 270.24 486.4 264.44 486.7 260.57 487.0 259.21 487.4 261.24 487.7 266.91 488.0 275.11 488.4 284.21 488.7 292.41 489.0 298.08 489.3 300.10 489.7 297.91 490.0 291.76 490.3 282.87 490.7 273.00 491.0 264.11 491.3 257.95 491.6 255.76 492.0 257.93 492.3 264.00 492.6 272.77 493.0 282.51 493.3 291.29 493.6 297.36 493.9 299.53 494.3 297.59 494.6 292.16 494.9 284.30 495.3 275.59 495.6 267.74 495.9 262.31 496.3 260.37 496.6 261.99 496.9 266.55 497.3 273.13 497.6 280.43 498.0 287.01 498.3 291.57 498.6 293.19 499.0 291.97 499.3 288.53 499.6 283.57 500.0 278.06 500.3 273.09 500.7 269.66 501.0 268.43 501.3 269.41 501.7 272.17 502.0 276.15 502.3 280.57 502.7 284.56 503.0 287.31 503.3 288.30 503.6 287.40 504.0 284.88 504.3 281.25 504.6 277.21 505.0 273.57 505.3 271.05 505.6 270.16 505.9 270.79 506.2 272.62 506.5 275.41 506.8 278.84 507.1 282.49 507.4 285.92 507.7 288.72 508.0 290.54 508.3 291.18 508.6 290.32 508.9 287.84 509.2 284.05 509.5 279.40 509.8 274.45 510.2 269.80 510.5 266.00 510.8 263.53 511.1 262.67 511.4 264.25 511.7 268.68 512.0 275.07 512.4 282.17 512.7 288.57 513.0 293.00 513.4 294.57 513.7 293.03 514.0 288.70 514.3 282.44 514.7 275.50 515.0 269.24 515.3 264.91 515.7 263.36 516.0 264.76 516.3 268.70 516.7 274.38 517.0 280.68 517.3 286.36 517.6 290.29 518.0 291.70 518.3 290.54 518.6 287.32 519.0 282.65 519.3 277.47 519.6 272.81 519.9 269.58 520.3 268.43 520.6 269.26 520.9 271.57 521.3 274.92 521.6 278.64 521.9 281.99 522.2 284.30 522.6 285.13 522.9 284.70 523.2 283.50 523.6 281.77 523.9 279.85 524.2 278.12 524.5 276.92 524.9 276.49 525.2 276.67 525.5 277.17 525.8 277.91 526.1 278.80 526.5 279.68 526.8 280.42 527.1 280.92 527.4 281.10 527.7 280.92 528.0 280.42 528.4 279.68 528.7 278.80 529.0 277.91 529.3 277.17 529.6 276.67 529.9 276.49 530.3 276.74 530.6 277.42 530.9 278.42 531.3 279.52 531.6 280.51 531.9 281.20 532.3 281.44 532.6 281.16 532.9 280.38 533.2 279.25 533.6 277.99 533.9 276.86 534.2 276.08 534.6 275.80 534.9 276.12 535.2 277.01 535.5 278.31 535.9 279.74 536.2 281.04 536.5 281.93 536.9 282.25 537.2 281.89 537.5 280.86 537.8 279.39 538.2 277.74 538.5 276.27 538.8 275.24 539.2 274.88 539.5 275.31 539.8 276.53 540.1 278.28 540.5 280.23 540.8 281.98 541.1 283.20 541.5 283.63 541.8 283.11 542.1 281.64 542.5 279.51 542.8 277.16 543.1 275.03 543.4 273.56 543.8 273.04 544.1 273.69 544.4 275.53 544.8 278.19 545.1 281.13 545.4 283.79 545.7 285.63 546.1 286.28 546.4 285.45 546.7 283.14 547.1 279.79 547.4 276.07 547.7 272.72 548.0 270.41 548.4 269.58 548.7 270.52 549.0 273.16 549.4 276.97 549.7 281.20 550.0 285.01 550.4 287.64 550.7 288.59 551.0 287.59 551.3 284.79 551.7 280.75 552.0 276.26 552.3 272.22 552.7 269.43 553.0 268.43 553.3 269.43 553.6 272.22 554.0 276.26 554.3 280.75 554.6 284.79 555.0 287.59 555.3 288.59 555.6 287.64 555.9 285.01 556.3 281.20 556.6 276.97 556.9 273.16 557.3 270.52 557.6 269.58 557.9 270.33 558.2 272.45 558.5 275.62 558.9 279.37 559.2 283.12 559.5 286.29 559.8 288.42 560.1 289.16 560.4 288.33 560.8 285.96 561.1 282.41 561.4 278.22 561.7 274.03 562.0 270.48 562.3 268.11 562.7 267.28 563.0 268.23 563.3 270.94 563.7 274.99 564.0 279.77 564.3 284.56 564.6 288.61 565.0 291.32 565.3 292.27 565.6 291.17 566.0 288.04 566.3 283.35 566.6 277.82 567.0 272.28 567.3 267.59 567.6 264.46 568.0 263.36 568.3 264.56 568.6 267.98 568.9 273.10 569.2 279.14 569.5 285.18 569.9 290.30 570.2 293.72 570.5 294.92 570.8 293.67 571.1 290.10 571.4 284.75 571.8 278.45 572.1 272.15 572.4 266.80 572.7 263.23 573.0 261.98 573.3 263.23 573.6 266.80 573.9 272.15 574.2 278.45 574.5 284.75 574.8 290.10 575.1 293.67 575.4 294.92 575.7 293.72 576.0 290.30 576.4 285.18 576.7 279.14 577.0 273.10 577.3 267.98 577.6 264.56 577.9 263.36 578.2 264.53 578.5 267.85 578.8 272.82 579.1 278.68 579.4 284.54 579.8 289.51 580.1 292.83 580.4 294.00 580.7 292.85 581.0 289.58 581.3 284.68 581.7 278.91 582.0 273.14 582.3 268.24 582.6 264.97 582.9 263.82 583.2 264.97 583.6 268.24 583.9 273.14 584.2 278.91 584.5 284.68 584.8 289.58 585.1 292.85 585.5 294.00 585.8 292.83 586.1 289.51 586.4 284.54 586.7 278.68 587.0 272.82 587.4 267.85 587.7 264.53 588.0 263.36 588.3 264.52 588.6 267.81 588.9 272.75 589.2 278.56 589.5 284.38 589.8 289.32 590.1 292.61 590.4 293.77 590.7 292.65 591.0 289.45 591.3 284.67 591.6 279.03 591.9 273.38 592.2 268.60 592.5 265.40 592.8 264.28 593.2 265.32 593.5 268.26 593.8 272.67 594.1 277.87 594.4 283.07 594.7 287.48 595.1 290.43 595.4 291.47 595.7 290.57 596.0 288.02 596.3 284.21 596.6 279.72 597.0 275.22 597.3 271.41 597.6 268.86 597.9 267.97 598.2 268.97 598.6 271.78 598.9 275.85 599.2 280.36 599.5 284.42 599.9 287.24 600.2 288.24 600.5 287.37 600.9 284.94 601.2 281.43 601.5 277.54 601.9 274.03 602.2 271.60 602.5 270.73 602.8 271.35 603.1 273.09 603.5 275.71 603.8 278.80 604.1 281.88 604.4 284.50 604.7 286.24 605.0 286.86 605.4 286.24 605.7 284.50 606.0 281.88 606.3 278.80 606.6 275.71 606.9 273.09 607.3 271.35 607.6 270.73 607.9 271.50 608.2 273.66 608.6 276.78 608.9 280.24 609.2 283.35 609.6 285.51 609.9 286.28 610.2 285.57 610.5 283.57 610.9 280.69 611.2 277.48 611.5 274.59 611.9 272.60 612.2 271.88 612.5 272.32 612.8 273.57 613.2 275.44 613.5 277.64 613.8 279.85 614.2 281.72 614.5 282.96 614.8 283.40 615.2 283.14 615.5 282.39 615.8 281.27 616.2 279.95 616.5 278.62 616.8 277.50 617.2 276.75 617.5 276.49 617.8 276.68 618.1 277.23 618.4 278.08 618.8 279.11 619.1 280.21 619.4 281.24 619.7 282.09 620.0 282.64 620.4 282.83 620.7 282.53 621.0 281.68 621.3 280.38 621.6 278.78 622.0 277.08 622.3 275.48 622.6 274.18 622.9 273.33 623.2 273.04 623.6 273.47 623.9 274.72 624.2 276.59 624.6 278.80 624.9 281.00 625.2 282.87 625.6 284.12 625.9 284.55 626.2 284.12 626.6 282.87 626.9 281.00 627.2 278.80 627.5 276.59 627.9 274.72 628.2 273.47 628.5 273.04 628.9 273.43 629.2 274.55 629.5 276.24 629.8 278.22 630.1 280.20 630.4 281.88 630.8 283.01 631.1 283.40 631.4 283.10 631.7 282.22 632.0 280.91 632.3 279.37 632.7 277.83 633.0 276.52 633.3 275.65 633.6 275.34 633.9 275.63 634.2 276.49 634.6 277.79 634.9 279.38 635.2 281.09 635.5 282.68 635.8 283.98 636.2 284.83 636.5 285.13 636.8 284.66 637.1 283.31 637.4 281.24 637.8 278.71 638.1 276.01 638.4 273.47 638.7 271.40 639.0 270.05 639.4 269.58 639.7 270.37 640.0 272.62 640.3 275.98 640.6 279.95 641.0 283.91 641.3 287.28 641.6 289.52 641.9 290.31 642.2 289.35 642.5 286.60 642.9 282.49 643.2 277.64 643.5 272.79 643.8 268.68 644.1 265.94 644.4 264.97 644.7 266.03 645.0 269.02 645.3 273.51 645.6 278.80 645.9 284.08 646.3 288.57 646.6 291.56 646.9 292.62 647.2 291.56 647.5 288.57 647.8 284.08 648.1 278.80 648.4 273.51 648.7 269.02 649.0 266.03 649.3 264.97 649.6 266.00 649.9 268.94 650.2 273.33 650.5 278.51 650.9 283.69 651.2 288.08 651.5 291.01 651.8 292.04 652.1 291.05 652.4 288.25 652.8 284.04 653.1 279.08 653.4 274.12 653.7 269.92 654.0 267.11 654.3 266.13 654.7 267.02 655.0 269.58 655.3 273.41 655.6 277.93 655.9 282.45 656.2 286.28 656.6 288.84 656.9 289.74 657.2 288.97 657.5 286.79 657.8 283.52 658.1 279.66 658.5 275.80 658.8 272.53 659.1 270.35 659.4 269.58 659.8 270.74 660.1 273.90 660.4 278.22 660.8 282.54 661.1 285.70 661.5 286.86 661.8 285.85 662.2 283.11 662.5 279.37 662.9 275.63 663.2 272.89 663.6 271.88 663.9 273.61 664.3 277.07 664.7 278.80" fill="none" stroke="#ed1c24" stroke-width="1.15" stroke-linejoin="round" stroke-linecap="butt"/>
<path d="M14.7 337.54 15.0 337.18 15.4 336.14 15.7 334.54 16.0 332.59 16.3 330.51 16.7 328.55 17.0 326.96 17.3 325.92 17.7 325.56 18.0 327.16 18.3 331.55 18.6 337.54 19.0 343.53 19.3 347.91 19.6 349.52 20.0 347.91 20.3 343.53 20.6 337.54 20.9 331.55 21.3 327.16 21.6 325.56 21.9 327.03 22.3 331.06 22.6 336.56 23.0 342.06 23.3 346.08 23.7 347.56 24.0 346.35 24.4 343.04 24.7 338.52 25.0 334.00 25.4 330.69 25.7 329.47 26.1 330.79 26.4 334.25 26.8 338.52 27.1 341.98 27.5 343.30 27.8 342.42 28.2 340.11 28.5 337.27 28.8 334.96 29.2 334.08 29.5 334.54 29.8 335.82 30.2 337.66 30.5 339.71 30.8 341.56 31.2 342.84 31.5 343.30 31.8 342.61 32.1 340.69 32.5 337.92 32.8 334.85 33.1 332.08 33.5 330.16 33.8 329.47 34.1 330.69 34.4 334.00 34.8 338.52 35.1 343.04 35.4 346.35 35.8 347.56 36.1 346.08 36.4 342.06 36.7 336.56 37.1 331.06 37.4 327.03 37.7 325.56 38.0 326.78 38.4 330.20 38.7 335.14 39.0 340.63 39.4 345.57 39.7 348.99 40.0 350.21 40.3 348.92 40.7 345.31 41.0 340.09 41.3 334.30 41.7 329.08 42.0 325.47 42.3 324.18 42.6 325.17 43.0 327.99 43.3 332.21 43.6 337.19 44.0 342.17 44.3 346.40 44.6 349.22 45.0 350.21 45.3 349.27 45.6 346.60 46.0 342.60 46.3 337.88 46.6 333.17 47.0 329.17 47.3 326.50 47.6 325.56 47.9 326.90 48.3 330.68 48.6 336.13 48.9 342.17 49.3 347.62 49.6 351.40 49.9 352.74 50.2 351.08 50.6 346.41 50.9 339.67 51.2 332.18 51.6 325.44 51.9 320.77 52.2 319.11 52.6 321.13 52.9 326.81 53.2 335.00 53.5 344.10 53.9 352.30 54.2 357.97 54.5 360.00 54.9 357.57 55.2 350.78 55.5 340.97 55.8 330.08 56.2 320.26 56.5 313.47 56.8 311.05 57.2 313.73 57.5 321.24 57.8 332.09 58.1 344.14 58.5 354.99 58.8 362.50 59.1 365.18 59.5 362.39 59.8 354.56 60.1 343.24 60.5 330.68 60.8 319.37 61.1 311.54 61.4 308.74 61.8 311.45 62.1 319.04 62.4 330.01 62.8 342.18 63.1 353.15 63.4 360.74 63.7 363.45 64.1 361.03 64.4 354.24 64.7 344.42 65.1 333.53 65.4 323.72 65.7 316.93 66.0 314.50 66.4 316.55 66.7 322.31 67.0 330.62 67.4 339.85 67.7 348.16 68.0 353.91 68.3 355.97 68.7 354.37 69.0 349.90 69.3 343.43 69.7 336.25 70.0 329.79 70.3 325.31 70.7 323.72 71.0 325.00 71.3 328.59 71.6 333.79 72.0 339.56 72.3 344.75 72.6 348.35 73.0 349.63 73.3 348.52 73.6 345.40 73.9 340.90 74.3 335.90 74.6 331.40 74.9 328.28 75.3 327.17 75.6 328.05 75.9 330.54 76.2 334.28 76.5 338.69 76.8 343.10 77.2 346.83 77.5 349.33 77.8 350.21 78.1 349.16 78.4 346.16 78.7 341.67 79.1 336.39 79.4 331.10 79.7 326.61 80.0 323.62 80.3 322.56 80.7 323.72 81.0 327.00 81.3 331.91 81.7 337.71 82.0 343.51 82.3 348.42 82.6 351.70 83.0 352.86 83.3 351.68 83.6 348.32 84.0 343.29 84.3 337.36 84.6 331.44 85.0 326.41 85.3 323.05 85.6 321.87 86.0 323.29 86.3 327.27 86.6 333.02 86.9 339.40 87.3 345.15 87.6 349.13 87.9 350.55 88.3 349.40 88.6 346.15 88.9 341.46 89.2 336.26 89.6 331.57 89.9 328.33 90.2 327.17 90.6 328.03 90.9 330.42 91.2 333.89 91.6 337.73 91.9 341.20 92.2 343.59 92.5 344.45 92.9 343.93 93.2 342.50 93.5 340.42 93.9 338.11 94.2 336.03 94.5 334.60 94.8 334.08 95.2 334.38 95.5 335.23 95.8 336.46 96.2 337.81 96.5 339.04 96.8 339.88 97.1 340.19 97.5 339.96 97.8 339.34 98.1 338.44 98.5 337.44 98.8 336.54 99.1 335.92 99.4 335.69 99.8 335.81 100.1 336.15 100.4 336.67 100.7 337.31 101.0 337.99 101.4 338.63 101.7 339.15 102.0 339.49 102.3 339.61 102.6 339.48 103.0 339.10 103.3 338.52 103.6 337.80 103.9 337.04 104.2 336.33 104.6 335.75 104.9 335.37 105.2 335.23 105.5 335.41 105.8 335.91 106.2 336.67 106.5 337.61 106.8 338.61 107.1 339.55 107.4 340.32 107.8 340.82 108.1 340.99 108.4 340.75 108.7 340.05 109.0 338.98 109.4 337.66 109.7 336.26 110.0 334.95 110.3 333.87 110.6 333.17 111.0 332.93 111.3 333.41 111.6 334.77 112.0 336.74 112.3 338.91 112.6 340.88 112.9 342.24 113.3 342.72 113.6 342.18 113.9 340.66 114.3 338.47 114.6 336.03 114.9 333.84 115.2 332.32 115.6 331.78 115.9 332.41 116.2 334.16 116.6 336.70 116.9 339.52 117.2 342.06 117.5 343.82 117.9 344.45 118.2 343.71 118.5 341.63 118.9 338.63 119.2 335.30 119.5 332.29 119.9 330.22 120.2 329.47 120.5 330.33 120.8 332.73 121.2 336.19 121.5 340.04 121.8 343.50 122.2 345.90 122.5 346.75 122.8 345.78 123.1 343.07 123.5 339.14 123.8 334.78 124.1 330.86 124.5 328.14 124.8 327.17 125.1 329.32 125.5 334.93 125.8 341.87 126.2 347.49 126.5 349.63 126.9 347.16 127.2 340.68 127.6 332.67 127.9 326.19 128.2 323.72 128.6 326.38 128.9 333.35 129.3 341.96 129.6 348.93 130.0 351.59 130.3 348.88 130.7 341.80 131.0 333.04 131.4 325.96 131.7 323.26 132.0 324.57 132.4 328.26 132.7 333.60 133.0 339.52 133.3 344.85 133.7 348.54 134.0 349.86 134.3 348.74 134.7 345.59 135.0 341.04 135.3 335.99 135.6 331.44 136.0 328.29 136.3 327.17 136.6 328.11 137.0 330.75 137.3 334.56 137.6 338.79 138.0 342.60 138.3 345.23 138.6 346.18 138.9 345.41 139.3 343.25 139.6 340.13 139.9 336.67 140.3 333.55 140.6 331.40 140.9 330.63 141.2 331.28 141.6 333.12 141.9 335.78 142.2 338.72 142.6 341.38 142.9 343.22 143.2 343.87 143.5 343.27 143.9 341.60 144.2 339.17 144.5 336.48 144.9 334.06 145.2 332.38 145.5 331.78 145.8 332.41 146.2 334.16 146.5 336.70 146.8 339.52 147.2 342.06 147.5 343.82 147.8 344.45 148.2 343.71 148.5 341.63 148.8 338.63 149.1 335.30 149.5 332.29 149.8 330.22 150.1 329.47 150.4 330.00 150.8 331.50 151.1 333.79 151.4 336.61 151.7 339.61 152.0 342.43 152.4 344.73 152.7 346.23 153.0 346.75 153.3 346.16 153.6 344.46 154.0 341.86 154.3 338.66 154.6 335.26 154.9 332.07 155.2 329.46 155.6 327.76 155.9 327.17 156.2 328.23 156.5 331.18 156.9 335.45 157.2 340.20 157.5 344.47 157.9 347.42 158.2 348.48 158.5 347.37 158.8 344.25 159.2 339.75 159.5 334.75 159.8 330.25 160.2 327.13 160.5 326.02 160.8 327.13 161.2 330.25 161.5 334.75 161.8 339.75 162.1 344.25 162.5 347.37 162.8 348.48 163.1 347.42 163.5 344.47 163.8 340.20 164.1 335.45 164.4 331.18 164.8 328.23 165.1 327.17 165.4 327.77 165.8 329.50 166.1 332.14 166.4 335.38 166.7 338.83 167.1 342.07 167.4 344.72 167.7 346.44 168.1 347.04 168.4 346.49 168.7 344.92 169.0 342.50 169.4 339.54 169.7 336.39 170.0 333.43 170.4 331.02 170.7 329.45 171.0 328.90 171.3 329.77 171.7 332.21 172.0 335.73 172.3 339.64 172.7 343.16 173.0 345.59 173.3 346.46 173.6 345.57 174.0 343.05 174.3 339.41 174.6 335.38 175.0 331.74 175.3 329.22 175.6 328.32 175.9 328.95 176.3 330.75 176.6 333.51 176.9 336.89 177.3 340.49 177.6 343.87 177.9 346.63 178.2 348.43 178.6 349.06 178.9 348.29 179.2 346.09 179.5 342.72 179.9 338.59 180.2 334.19 180.5 330.05 180.9 326.68 181.2 324.48 181.5 323.72 181.8 325.08 182.2 328.92 182.5 334.46 182.8 340.61 183.2 346.16 183.5 349.99 183.8 351.36 184.2 349.99 184.5 346.16 184.8 340.61 185.1 334.46 185.5 328.92 185.8 325.08 186.1 323.72 186.5 326.30 186.8 333.07 187.2 341.43 187.5 348.20 187.9 350.78 188.2 348.31 188.5 341.83 188.9 333.82 189.2 327.34 189.6 324.87 189.9 326.76 190.3 331.92 190.6 338.98 191.0 346.03 191.3 351.20 191.7 353.09 192.0 350.81 192.3 344.59 192.7 336.10 193.0 327.60 193.4 321.38 193.7 319.11 194.0 321.08 194.4 326.59 194.7 334.56 195.0 343.40 195.3 351.37 195.6 356.88 195.9 358.85 196.2 356.59 196.5 350.28 196.9 341.16 197.2 331.04 197.5 321.91 197.8 315.60 198.1 313.35 198.4 316.55 198.8 325.30 199.1 337.25 199.5 349.20 199.8 357.95 200.2 361.15 200.5 358.02 200.9 349.49 201.2 337.83 201.6 326.16 201.9 317.63 202.3 314.50 202.6 316.61 202.9 322.52 203.2 331.07 203.6 340.55 203.9 349.10 204.2 355.01 204.6 357.12 204.9 355.35 205.2 350.40 205.5 343.24 205.9 335.29 206.2 328.13 206.5 323.18 206.9 321.41 207.2 324.49 207.5 332.55 207.9 342.52 208.2 350.58 208.6 353.66 208.9 350.58 209.3 342.52 209.6 332.55 210.0 324.49 210.3 321.41 210.6 323.65 211.0 329.76 211.3 338.11 211.6 346.46 211.9 352.58 212.3 354.81 212.6 352.42 212.9 345.89 213.3 336.96 213.6 328.04 213.9 321.50 214.2 319.11 214.6 321.62 214.9 328.47 215.3 337.83 215.6 347.18 216.0 354.03 216.3 356.54 216.6 353.96 217.0 346.90 217.3 337.25 217.7 327.60 218.0 320.54 218.4 317.96 218.7 319.75 219.0 324.79 219.4 332.06 219.7 340.13 220.0 347.41 220.4 352.44 220.7 354.24 221.0 352.73 221.3 348.49 221.7 342.37 222.0 335.58 222.3 329.46 222.7 325.23 223.0 323.72 223.3 324.88 223.6 328.16 224.0 332.89 224.3 338.15 224.6 342.88 225.0 346.16 225.3 347.33 225.6 346.56 225.9 344.40 226.3 341.28 226.6 337.82 226.9 334.71 227.3 332.55 227.6 331.78 227.9 332.41 228.2 334.16 228.6 336.70 228.9 339.52 229.2 342.06 229.6 343.82 229.9 344.45 230.2 343.71 230.6 341.63 230.9 338.63 231.2 335.30 231.5 332.29 231.9 330.22 232.2 329.47 232.5 330.01 232.8 331.56 233.2 333.94 233.5 336.85 233.8 339.95 234.1 342.86 234.4 345.24 234.8 346.79 235.1 347.33 235.4 346.69 235.7 344.84 236.0 342.00 236.4 338.52 236.7 334.82 237.0 331.35 237.3 328.51 237.6 326.66 238.0 326.02 238.3 326.78 238.6 328.98 238.9 332.35 239.2 336.49 239.6 340.89 239.9 345.02 240.2 348.39 240.5 350.60 240.8 351.36 241.2 350.46 241.5 347.86 241.8 343.87 242.1 338.99 242.4 333.79 242.8 328.90 243.1 324.92 243.4 322.32 243.7 321.41 244.0 322.66 244.3 326.22 244.7 331.54 245.0 337.83 245.3 344.11 245.6 349.43 245.9 352.99 246.2 354.24 246.6 352.95 246.9 349.26 247.2 343.75 247.5 337.25 247.8 330.75 248.2 325.24 248.5 321.55 248.8 320.26 249.1 321.51 249.4 325.07 249.8 330.39 250.1 336.67 250.4 342.95 250.8 348.28 251.1 351.84 251.4 353.09 251.8 351.97 252.1 348.79 252.4 344.02 252.8 338.40 253.1 332.78 253.4 328.02 253.8 324.83 254.1 323.72 254.4 324.94 254.7 328.38 255.1 333.34 255.4 338.85 255.7 343.82 256.1 347.25 256.4 348.48 256.7 347.54 257.0 344.90 257.4 341.09 257.7 336.86 258.0 333.05 258.4 330.42 258.7 329.47 259.0 330.30 259.3 332.62 259.7 335.97 260.0 339.68 260.3 343.03 260.7 345.35 261.0 346.18 261.3 345.29 261.7 342.82 262.0 339.24 262.3 335.26 262.6 331.68 263.0 329.21 263.3 328.32 263.6 329.07 264.0 331.19 264.3 334.37 264.6 338.11 265.0 341.86 265.3 345.04 265.6 347.16 265.9 347.90 266.3 347.07 266.6 344.70 266.9 341.15 267.3 336.96 267.6 332.77 267.9 329.22 268.3 326.85 268.6 326.02 268.9 326.83 269.2 329.14 269.5 332.60 269.9 336.67 270.2 340.75 270.5 344.21 270.8 346.52 271.1 347.33 271.4 346.65 271.8 344.71 272.1 341.82 272.4 338.40 272.7 334.99 273.0 332.09 273.3 330.15 273.7 329.47 274.0 329.98 274.3 331.43 274.6 333.65 274.9 336.38 275.3 339.28 275.6 342.00 275.9 344.22 276.2 345.67 276.5 346.18 276.9 345.64 277.2 344.09 277.5 341.71 277.8 338.80 278.1 335.70 278.5 332.79 278.8 330.41 279.1 328.86 279.4 328.32 279.7 329.05 280.1 331.11 280.4 334.19 280.7 337.83 281.0 341.46 281.3 344.54 281.6 346.60 282.0 347.33 282.3 346.56 282.6 344.38 282.9 341.11 283.2 337.25 283.5 333.39 283.9 330.12 284.2 327.94 284.5 327.17 284.8 328.14 285.1 330.86 285.5 334.78 285.8 339.14 286.1 343.07 286.5 345.78 286.8 346.75 287.1 345.90 287.5 343.50 287.8 340.04 288.1 336.19 288.4 332.73 288.8 330.33 289.1 329.47 289.4 330.00 289.8 331.50 290.1 333.74 290.4 336.39 290.8 339.03 291.1 341.27 291.4 342.77 291.7 343.30 292.1 342.95 292.4 341.95 292.7 340.45 293.1 338.69 293.4 336.93 293.7 335.43 294.1 334.43 294.4 334.08 294.7 334.34 295.0 335.07 295.4 336.18 295.7 337.56 296.0 339.02 296.3 340.39 296.6 341.51 297.0 342.24 297.3 342.49 297.6 342.15 297.9 341.16 298.2 339.64 298.6 337.78 298.9 335.80 299.2 333.94 299.5 332.42 299.8 331.43 300.2 331.09 300.5 331.73 300.8 333.52 301.1 336.10 301.5 338.97 301.8 341.56 302.1 343.35 302.5 343.99 302.8 343.35 303.1 341.56 303.4 338.97 303.8 336.10 304.1 333.52 304.4 331.73 304.8 331.09 305.1 331.63 305.4 333.17 305.7 335.39 306.1 337.85 306.4 340.06 306.7 341.60 307.1 342.14 307.4 341.78 307.7 340.76 308.1 339.28 308.4 337.64 308.7 336.16 309.0 335.14 309.4 334.77 309.7 334.93 310.0 335.37 310.3 336.04 310.6 336.87 311.0 337.75 311.3 338.57 311.6 339.25 311.9 339.69 312.2 339.84 312.6 339.72 312.9 339.36 313.2 338.80 313.5 338.13 313.8 337.41 314.2 336.73 314.5 336.18 314.8 335.82 315.1 335.69 315.4 335.93 315.8 336.62 316.1 337.68 316.4 338.98 316.7 340.36 317.0 341.66 317.4 342.71 317.7 343.40 318.0 343.64 318.3 343.15 318.6 341.72 319.0 339.52 319.3 336.84 319.6 333.98 319.9 331.29 320.2 329.10 320.6 327.67 320.9 327.17 321.2 328.03 321.5 330.49 321.9 334.17 322.2 338.52 322.5 342.86 322.9 346.54 323.2 349.00 323.5 349.86 323.9 348.85 324.2 345.97 324.5 341.65 324.9 336.56 325.2 331.47 325.5 327.15 325.9 324.27 326.2 323.26 326.5 324.66 326.8 328.59 327.2 334.27 327.5 340.57 327.8 346.26 328.2 350.19 328.5 351.59 328.8 350.21 329.1 346.34 329.5 340.75 329.8 334.55 330.1 328.96 330.5 325.10 330.8 323.72 331.1 324.45 331.4 326.58 331.7 329.83 332.0 333.83 332.3 338.08 332.6 342.07 333.0 345.33 333.3 347.45 333.6 348.19 333.9 347.64 334.2 346.07 334.5 343.66 334.8 340.70 335.1 337.55 335.4 334.59 335.7 332.17 336.0 330.60 336.4 330.05 336.7 330.94 337.0 333.36 337.4 336.67 337.7 339.99 338.0 342.41 338.4 343.30 338.7 342.64 339.0 340.85 339.4 338.40 339.7 335.95 340.0 334.16 340.4 333.51 340.7 333.80 341.0 334.64 341.3 335.94 341.6 337.53 342.0 339.22 342.3 340.81 342.6 342.10 342.9 342.95 343.2 343.24 343.5 342.84 343.9 341.71 344.2 339.97 344.5 337.84 344.8 335.57 345.1 333.43 345.4 331.70 345.7 330.56 346.1 330.17 346.4 330.91 346.7 333.01 347.0 336.03 347.4 339.39 347.7 342.41 348.0 344.51 348.4 345.25 348.7 344.47 349.0 342.28 349.3 339.12 349.7 335.61 350.0 332.45 350.3 330.26 350.7 329.47 351.0 330.24 351.3 332.40 351.7 335.52 352.0 338.98 352.3 342.10 352.6 344.25 353.0 345.02 353.3 344.31 353.6 342.31 354.0 339.43 354.3 336.22 354.6 333.34 354.9 331.34 355.3 330.63 355.6 331.30 355.9 333.19 356.3 335.91 356.6 338.93 356.9 341.66 357.2 343.54 357.6 344.22 357.9 343.57 358.2 341.75 358.6 339.11 358.9 336.19 359.2 333.56 359.5 331.74 359.9 331.09 360.2 331.73 360.5 333.52 360.9 336.10 361.2 338.97 361.5 341.56 361.9 343.35 362.2 343.99 362.5 343.35 362.8 341.56 363.2 338.97 363.5 336.10 363.8 333.52 364.2 331.73 364.5 331.09 364.8 331.74 365.1 333.56 365.5 336.19 365.8 339.11 366.1 341.75 366.5 343.57 366.8 344.22 367.1 343.54 367.4 341.66 367.8 338.93 368.1 335.91 368.4 333.19 368.8 331.30 369.1 330.63 369.4 331.24 369.8 332.97 370.1 335.46 370.4 338.23 370.7 340.72 371.1 342.45 371.4 343.07 371.7 342.59 372.1 341.24 372.4 339.30 372.7 337.15 373.0 335.21 373.4 333.87 373.7 333.39 374.0 333.78 374.4 334.89 374.7 336.48 375.0 338.25 375.3 339.84 375.7 340.94 376.0 341.34 376.3 340.98 376.7 339.97 377.0 338.52 377.3 336.90 377.6 335.45 378.0 334.44 378.3 334.08 378.6 334.50 379.0 335.66 379.3 337.35 379.6 339.22 380.0 340.91 380.3 342.07 380.6 342.49 380.9 341.93 381.3 340.34 381.6 338.06 381.9 335.52 382.3 333.23 382.6 331.65 382.9 331.09 383.2 331.60 383.5 333.06 383.9 335.25 384.2 337.83 384.5 340.40 384.8 342.59 385.1 344.05 385.4 344.56 385.8 344.01 386.1 342.42 386.4 340.05 386.7 337.25 387.0 334.45 387.3 332.08 387.7 330.49 388.0 329.94 388.3 330.64 388.6 332.62 389.0 335.49 389.3 338.67 389.6 341.53 390.0 343.51 390.3 344.22 390.6 343.60 390.9 341.88 391.3 339.38 391.6 336.61 391.9 334.12 392.3 332.39 392.6 331.78 392.9 332.27 393.2 333.66 393.6 335.67 393.9 337.90 394.2 339.91 394.6 341.30 394.9 341.80 395.2 341.45 395.6 340.48 395.9 339.07 396.2 337.50 396.5 336.10 396.9 335.12 397.2 334.77 397.5 334.97 397.8 335.55 398.2 336.44 398.5 337.53 398.8 338.69 399.1 339.78 399.4 340.67 399.8 341.25 400.1 341.45 400.4 341.18 400.7 340.40 401.0 339.21 401.4 337.74 401.7 336.18 402.0 334.72 402.3 333.52 402.6 332.74 403.0 332.47 403.3 332.92 403.6 334.21 403.9 336.13 404.2 338.40 404.5 340.67 404.9 342.60 405.2 343.88 405.5 344.33 405.8 343.75 406.1 342.09 406.4 339.60 406.8 336.67 407.1 333.74 407.4 331.26 407.7 329.60 408.0 329.01 408.3 329.66 408.6 331.51 408.9 334.28 409.2 337.54 409.5 340.80 409.8 343.56 410.1 345.41 410.4 346.06 410.7 345.41 411.0 343.56 411.4 340.80 411.7 337.54 412.0 334.28 412.3 331.51 412.6 329.66 412.9 329.01 413.2 329.79 413.5 331.96 413.8 335.10 414.2 338.59 414.5 341.73 414.8 343.90 415.2 344.68 415.5 344.04 415.8 342.25 416.2 339.66 416.5 336.79 416.8 334.21 417.1 332.42 417.5 331.78 417.8 332.17 418.1 333.30 418.4 334.98 418.7 336.96 419.1 338.95 419.4 340.63 419.7 341.75 420.0 342.14 420.3 341.84 420.6 340.96 421.0 339.66 421.3 338.11 421.6 336.57 421.9 335.26 422.2 334.39 422.5 334.08 422.9 334.52 423.2 335.77 423.5 337.64 423.8 339.84 424.1 342.04 424.4 343.91 424.8 345.16 425.1 345.60 425.4 344.81 425.7 342.56 426.0 339.20 426.3 335.23 426.7 331.27 427.0 327.90 427.3 325.66 427.6 324.87 427.9 326.24 428.3 330.07 428.6 335.61 428.9 341.76 429.3 347.31 429.6 351.14 429.9 352.51 430.2 350.91 430.6 346.44 430.9 339.97 431.2 332.80 431.6 326.33 431.9 321.86 432.2 320.26 432.5 321.95 432.9 326.70 433.2 333.56 433.5 341.17 433.9 348.03 434.2 352.78 434.5 354.47 434.8 352.81 435.2 348.16 435.5 341.44 435.8 333.98 436.2 327.26 436.5 322.61 436.8 320.95 437.1 322.44 437.5 326.61 437.8 332.64 438.1 339.33 438.5 345.35 438.8 349.53 439.1 351.01 439.5 349.83 439.8 346.53 440.1 341.75 440.4 336.44 440.8 331.66 441.1 328.35 441.4 327.17 441.8 328.33 442.1 331.49 442.5 335.81 442.8 340.13 443.2 343.29 443.5 344.45 443.8 343.75 444.2 341.86 444.5 339.27 444.9 336.67 445.2 334.78 445.6 334.08 445.9 334.40 446.2 335.27 446.6 336.54 446.9 337.95 447.2 339.22 447.5 340.10 447.9 340.42 448.2 340.16 448.5 339.44 448.9 338.40 449.2 337.25 449.5 336.21 449.9 335.49 450.2 335.23 450.5 335.50 450.8 336.25 451.1 337.37 451.4 338.69 451.8 340.01 452.1 341.13 452.4 341.88 452.7 342.14 453.0 341.71 453.3 340.46 453.7 338.59 454.0 336.39 454.3 334.18 454.6 332.31 454.9 331.06 455.2 330.63 455.6 331.28 455.9 333.16 456.2 335.96 456.5 339.27 456.8 342.57 457.1 345.37 457.4 347.25 457.7 347.90 458.0 346.98 458.3 344.36 458.6 340.44 458.9 335.81 459.2 331.18 459.5 327.26 459.8 324.64 460.1 323.72 460.4 325.18 460.7 329.29 461.1 335.22 461.4 341.81 461.7 347.74 462.1 351.85 462.4 353.32 462.7 351.66 463.0 347.01 463.4 340.29 463.7 332.83 464.0 326.11 464.4 321.46 464.7 319.80 465.0 321.57 465.4 326.54 465.7 333.72 466.0 341.70 466.3 348.88 466.7 353.85 467.0 355.62 467.3 353.81 467.7 348.75 468.0 341.43 468.3 333.30 468.6 325.98 469.0 320.92 469.3 319.11 469.6 320.79 470.0 325.51 470.3 332.32 470.6 339.88 470.9 346.69 471.3 351.40 471.6 353.09 471.9 351.69 472.3 347.77 472.6 342.12 472.9 335.84 473.2 330.18 473.6 326.26 473.9 324.87 474.2 325.77 474.5 328.33 474.9 332.16 475.2 336.67 475.5 341.19 475.8 345.02 476.1 347.58 476.4 348.48 476.8 347.71 477.1 345.53 477.4 342.26 477.7 338.40 478.0 334.54 478.3 331.27 478.7 329.09 479.0 328.32 479.3 329.09 479.6 331.27 480.0 334.54 480.3 338.40 480.6 342.26 481.0 345.53 481.3 347.71 481.6 348.48 482.0 347.58 482.3 345.02 482.6 341.19 482.9 336.67 483.3 332.16 483.6 328.33 483.9 325.77 484.3 324.87 484.6 326.18 484.9 329.85 485.3 335.17 485.6 341.06 485.9 346.37 486.2 350.05 486.6 351.36 486.9 349.93 487.2 345.94 487.6 340.17 487.9 333.76 488.2 327.98 488.6 323.99 488.9 322.56 489.2 324.02 489.5 328.09 489.9 333.98 490.2 340.52 490.5 346.41 490.9 350.48 491.2 351.94 491.5 350.54 491.8 346.62 492.2 340.97 492.5 334.69 492.8 329.03 493.2 325.11 493.5 323.72 493.8 324.94 494.1 328.38 494.5 333.34 494.8 338.85 495.1 343.82 495.5 347.25 495.8 348.48 496.1 347.54 496.5 344.90 496.8 341.09 497.1 336.86 497.4 333.05 497.8 330.42 498.1 329.47 498.4 329.99 498.7 331.47 499.0 333.69 499.3 336.30 499.7 338.91 500.0 341.12 500.3 342.60 500.6 343.12 500.9 342.79 501.2 341.85 501.5 340.44 501.8 338.78 502.1 337.11 502.5 335.70 502.8 334.76 503.1 334.43 503.4 334.71 503.7 335.53 504.0 336.76 504.3 338.20 504.6 339.64 504.9 340.87 505.3 341.68 505.6 341.97 505.9 341.58 506.2 340.48 506.5 338.83 506.8 336.88 507.1 334.92 507.4 333.27 507.8 332.17 508.1 331.78 508.4 332.37 508.7 334.01 509.0 336.39 509.4 339.03 509.7 341.41 510.0 343.05 510.4 343.64 510.7 343.02 511.0 341.28 511.4 338.76 511.7 335.97 512.0 333.45 512.3 331.71 512.7 331.09 513.0 331.73 513.3 333.52 513.7 336.10 514.0 338.97 514.3 341.56 514.6 343.35 515.0 343.99 515.3 343.35 515.6 341.56 516.0 338.97 516.3 336.10 516.6 333.52 516.9 331.73 517.3 331.09 517.6 331.74 517.9 333.56 518.3 336.19 518.6 339.11 518.9 341.75 519.3 343.57 519.6 344.22 519.9 343.54 520.2 341.66 520.6 338.93 520.9 335.91 521.2 333.19 521.6 331.30 521.9 330.63 522.2 331.57 522.5 334.14 522.9 337.65 523.2 341.17 523.5 343.74 523.8 344.68 524.2 343.71 524.5 341.05 524.8 337.42 525.1 333.79 525.5 331.14 525.8 330.17 526.1 331.15 526.5 333.85 526.8 337.54 527.2 341.22 527.5 343.92 527.9 344.91 528.2 343.92 528.6 341.22 528.9 337.54 529.3 333.85 529.6 331.15 529.9 330.17 530.3 330.78 530.6 332.51 530.9 335.00 531.3 337.77 531.6 340.26 531.9 341.99 532.3 342.61 532.6 342.22 532.9 341.13 533.2 339.56 533.6 337.82 533.9 336.25 534.2 335.16 534.6 334.77 534.9 335.02 535.2 335.73 535.5 336.74 535.9 337.87 536.2 338.89 536.5 339.59 536.9 339.84 537.2 339.64 537.5 339.06 537.8 338.23 538.2 337.31 538.5 336.48 538.8 335.90 539.2 335.69 539.5 335.97 539.8 336.76 540.1 337.89 540.5 339.14 540.8 340.28 541.1 341.06 541.5 341.34 541.8 340.87 542.1 339.54 542.5 337.62 542.8 335.49 543.1 333.58 543.4 332.25 543.8 331.78 544.1 332.38 544.4 334.06 544.8 336.48 545.1 339.17 545.4 341.60 545.7 343.27 546.1 343.87 546.4 343.22 546.7 341.38 547.1 338.72 547.4 335.78 547.7 333.12 548.0 331.28 548.4 330.63 548.7 331.28 549.0 333.12 549.4 335.78 549.7 338.72 550.0 341.38 550.4 343.22 550.7 343.87 551.0 343.27 551.3 341.60 551.7 339.17 552.0 336.48 552.3 334.06 552.7 332.38 553.0 331.78 553.3 332.32 553.6 333.84 554.0 336.03 554.3 338.47 554.6 340.66 555.0 342.18 555.3 342.72 555.6 342.24 555.9 340.88 556.3 338.91 556.6 336.74 556.9 334.77 557.3 333.41 557.6 332.93 557.9 333.39 558.2 334.66 558.6 336.51 558.9 338.56 559.2 340.41 559.6 341.69 559.9 342.14 560.2 341.69 560.6 340.41 560.9 338.56 561.2 336.51 561.5 334.66 561.9 333.39 562.2 332.93 562.5 333.44 562.9 334.88 563.2 336.96 563.5 339.27 563.8 341.34 564.2 342.78 564.5 343.30 564.8 342.67 565.2 340.91 565.5 338.37 565.8 335.55 566.1 333.01 566.5 331.25 566.8 330.63 567.1 331.75 567.5 334.80 567.8 338.98 568.1 343.15 568.4 346.21 568.8 347.33 569.1 345.82 569.4 341.71 569.7 336.10 570.1 330.48 570.4 326.37 570.7 324.87 571.1 326.24 571.4 330.07 571.7 335.61 572.0 341.76 572.4 347.31 572.7 351.14 573.0 352.51 573.4 350.91 573.7 346.44 574.0 339.97 574.3 332.80 574.7 326.33 575.0 321.86 575.3 320.26 575.6 321.61 575.9 325.44 576.2 331.17 576.5 337.94 576.8 344.71 577.1 350.44 577.4 354.27 577.7 355.62 578.0 354.21 578.4 350.21 578.7 344.21 579.0 337.13 579.3 330.06 579.6 324.06 579.9 320.05 580.2 318.65 580.5 320.03 580.8 323.98 581.1 329.88 581.4 336.85 581.7 343.81 582.1 349.71 582.4 353.66 582.7 355.04 583.0 353.76 583.3 350.12 583.7 344.66 584.0 338.23 584.3 331.79 584.6 326.34 584.9 322.69 585.2 321.41 585.6 322.95 585.9 327.27 586.2 333.50 586.6 340.42 586.9 346.66 587.2 350.97 587.5 352.51 587.9 351.09 588.2 347.09 588.5 341.32 588.9 334.91 589.2 329.14 589.5 325.14 589.8 323.72 590.2 324.75 590.5 327.68 590.8 332.07 591.1 337.25 591.4 342.43 591.7 346.82 592.1 349.75 592.4 350.78 592.7 349.80 593.0 346.99 593.3 342.78 593.6 337.83 594.0 332.87 594.3 328.66 594.6 325.85 594.9 324.87 595.2 325.83 595.5 328.58 595.8 332.69 596.1 337.54 596.4 342.39 596.7 346.50 597.0 349.24 597.3 350.21 597.6 349.24 597.9 346.50 598.2 342.39 598.5 337.54 598.8 332.69 599.1 328.58 599.4 325.83 599.7 324.87 600.1 325.79 600.4 328.41 600.7 332.33 601.0 336.96 601.3 341.59 601.6 345.51 602.0 348.13 602.3 349.06 602.6 348.22 602.9 345.85 603.2 342.30 603.5 338.11 603.9 333.93 604.2 330.38 604.5 328.00 604.8 327.17 605.1 328.11 605.5 330.75 605.8 334.56 606.1 338.79 606.5 342.60 606.8 345.23 607.1 346.18 607.4 345.41 607.8 343.25 608.1 340.13 608.4 336.67 608.8 333.55 609.1 331.40 609.4 330.63 609.7 331.07 610.1 332.35 610.4 334.25 610.7 336.50 611.0 338.75 611.3 340.65 611.6 341.93 612.0 342.38 612.3 342.09 612.6 341.26 612.9 340.03 613.2 338.57 613.5 337.12 613.9 335.89 614.2 335.06 614.5 334.77 614.8 335.04 615.2 335.80 615.5 336.94 615.8 338.29 616.1 339.63 616.5 340.77 616.8 341.53 617.1 341.80 617.5 341.42 617.8 340.33 618.1 338.71 618.5 336.79 618.8 334.87 619.1 333.25 619.5 332.16 619.8 331.78 620.1 332.14 620.4 333.17 620.7 334.74 621.1 336.68 621.4 338.74 621.7 340.68 622.0 342.25 622.3 343.28 622.7 343.64 623.0 343.26 623.3 342.17 623.6 340.50 623.9 338.45 624.3 336.27 624.6 334.23 624.9 332.56 625.2 331.47 625.5 331.09 625.9 331.53 626.2 332.81 626.5 334.71 626.8 336.96 627.1 339.21 627.4 341.12 627.8 342.39 628.1 342.84 628.4 342.48 628.7 341.45 629.0 339.92 629.3 338.11 629.7 336.31 630.0 334.77 630.3 333.75 630.6 333.39 630.9 333.69 631.3 334.55 631.6 335.84 631.9 337.36 632.3 338.89 632.6 340.17 632.9 341.04 633.3 341.34 633.6 341.06 633.9 340.28 634.3 339.10 634.6 337.71 634.9 336.32 635.3 335.14 635.6 334.36 635.9 334.08 636.2 334.45 636.6 335.49 636.9 336.99 637.2 338.66 637.6 340.16 637.9 341.20 638.2 341.57 638.5 341.14 638.9 339.94 639.2 338.21 639.5 336.29 639.9 334.56 640.2 333.36 640.5 332.93 640.8 333.27 641.2 334.25 641.5 335.70 641.8 337.42 642.1 339.14 642.4 340.60 642.7 341.57 643.1 341.91 643.4 341.59 643.7 340.67 644.0 339.28 644.3 337.65 644.6 336.02 645.0 334.64 645.3 333.72 645.6 333.39 645.9 333.66 646.3 334.44 646.6 335.60 646.9 336.96 647.2 338.33 647.6 339.49 647.9 340.26 648.2 340.53 648.6 340.35 648.9 339.82 649.2 339.04 649.6 338.11 649.9 337.19 650.2 336.40 650.6 335.88 650.9 335.69 651.2 335.83 651.5 336.20 651.9 336.76 652.2 337.42 652.5 338.08 652.9 338.64 653.2 339.02 653.5 339.15 653.9 339.04 654.2 338.71 654.5 338.23 654.9 337.65 655.2 337.08 655.5 336.59 655.9 336.27 656.2 336.16 656.5 336.26 656.8 336.54 657.1 336.97 657.5 337.48 657.8 337.99 658.1 338.42 658.4 338.70 658.7 338.80 659.0 338.71 659.4 338.45 659.7 338.06 660.0 337.60 660.3 337.13 660.6 336.74 660.9 336.48 661.3 336.39 661.6 336.41 661.9 336.48 662.2 336.58 662.5 336.72 662.8 336.88 663.1 337.04 663.4 337.20 663.8 337.34 664.1 337.45 664.4 337.51 664.7 337.54" fill="none" stroke="#21479d" stroke-width="1.15" stroke-linejoin="round" stroke-linecap="butt"/>
<path d="M14.7 423.3 15.1 424.5 15.1 416.2 15.4 400.2 15.6 383.9 15.8 395.4 16.1 436.2 16.1 431.4 16.5 493.2 16.6 515.0 16.9 478.7 17.1 437.4 17.2 432.1 17.6 420.7 17.9 423.3 18.3 436.3 18.7 415.1 19.0 418.2 19.4 427.5 19.5 413.3 19.7 399.0 20.0 377.8 20.1 376.8 20.5 413.3 20.5 416.8 20.8 405.0 21.2 414.4 21.4 414.4 21.5 423.8 21.9 434.2 21.9 433.8 22.3 419.2 22.4 412.9 22.5 423.9 22.6 416.7 23.0 417.4 23.0 409.0 23.3 414.0 23.5 424.3 23.7 419.8 24.0 427.8 24.1 423.9 24.4 430.0 24.8 420.7 25.0 422.8 25.1 423.1 25.5 400.7 25.5 404.6 25.9 410.2 26.0 426.1 26.2 425.3 26.5 429.7 26.6 432.7 26.9 426.4 27.0 424.9 27.2 416.7 27.3 398.9 27.7 382.1 27.7 373.1 28.0 409.8 28.2 424.4 28.4 432.8 28.7 427.3 29.1 444.9 29.5 463.2 29.5 461.0 29.8 464.0 30.2 452.2 30.2 441.4 30.5 442.8 30.5 452.1 30.7 460.9 30.9 471.1 31.0 482.9 31.3 474.1 31.6 447.9 31.6 440.4 32.0 478.1 32.3 510.3 32.3 501.5 32.7 459.4 32.8 457.1 33.0 444.8 33.1 449.7 33.4 435.9 33.5 425.1 33.8 446.7 34.1 484.2 34.3 491.5 34.5 481.7 34.8 459.2 34.9 465.8 34.9 450.2 35.2 436.2 35.4 411.1 35.6 425.8 35.7 437.2 35.9 485.0 35.9 476.5 36.2 495.6 36.3 480.2 36.7 474.7 36.7 478.2 37.0 475.7 37.0 476.9 37.4 450.0 37.5 435.3 37.7 460.9 38.0 485.3 38.1 486.1 38.5 490.7 38.5 490.3 38.8 476.3 39.2 459.1 39.3 451.3 39.5 476.8 39.8 480.5 39.9 477.4 40.3 497.4 40.6 492.4 41.0 503.6 41.3 521.5 41.4 519.7 41.7 522.5 42.1 522.5 42.4 501.9 42.8 512.4 43.0 511.2 43.1 521.5 43.5 501.2 43.9 496.3 44.2 512.1 44.6 510.1 44.9 492.0 45.3 495.2 45.7 498.1 46.0 497.6 46.1 490.8 46.4 475.4 46.6 458.7 46.7 466.0 47.1 478.2 47.1 482.5 47.5 482.7 47.8 493.6 48.0 488.9 48.2 481.1 48.5 484.5 48.9 477.6 49.0 483.2 49.3 477.1 49.6 486.2 50.0 490.0 50.3 486.8 50.7 483.2 51.1 487.4 51.1 490.4 51.4 513.1 51.6 516.2 51.8 501.4 52.1 487.4 52.1 493.7 52.5 493.6 52.9 484.5 53.2 487.9 53.6 487.8 53.9 482.0 54.0 480.9 54.3 470.0 54.7 471.1 54.9 472.3 55.0 459.8 55.4 451.7 55.4 442.9 55.7 471.5 55.9 479.4 56.1 485.0 56.3 493.8 56.5 497.2 56.8 520.1 56.8 519.5 57.2 497.3 57.3 494.6 57.5 480.5 57.9 468.9 58.0 470.1 58.3 448.5 58.5 431.3 58.6 447.9 59.0 474.1 59.0 469.5 59.3 476.7 59.7 483.3 60.0 494.9 60.1 492.5 60.4 502.6 60.8 515.8 61.0 512.7 61.1 512.3 61.5 503.5 61.9 498.1 62.2 479.1 62.5 480.6 62.6 486.7 62.9 479.5 63.3 472.6 63.7 477.0 64.0 475.8 64.4 473.1 64.5 469.2 64.7 478.7 65.1 480.1 65.5 473.4 65.8 477.8 66.1 476.5 66.2 490.3 66.5 509.5 66.6 508.3 66.9 493.9 67.1 476.9 67.3 472.7 67.6 467.7 68.0 469.3 68.3 457.3 68.5 462.9 68.7 461.0 69.1 460.0 69.4 453.8 69.8 462.4 70.0 459.8 70.1 460.1 70.5 451.4 70.9 457.5 71.2 444.8 71.6 453.2 71.9 446.7 72.0 444.5 72.3 450.2 72.7 458.1 73.0 458.1 73.4 473.6 73.5 469.8 73.7 477.3 74.1 477.9 74.5 467.6 74.8 477.8 74.9 475.3 75.2 492.9 75.4 499.1 75.5 491.4 75.9 480.5 75.9 473.1 76.3 473.1 76.6 467.4 77.0 460.7 77.0 468.6 77.3 465.1 77.7 466.3 78.1 457.5 78.4 451.6 78.4 460.1 78.8 452.1 79.1 457.0 79.5 473.7 79.5 469.7 79.9 469.9 80.2 480.3 80.6 473.6 80.9 484.7 81.2 480.3 81.3 476.4 81.7 469.0 82.0 468.9 82.4 477.4 82.7 465.4 83.1 458.4 83.1 463.3 83.5 455.2 83.6 442.2 83.8 456.6 84.1 462.9 84.2 472.2 84.5 469.6 84.9 466.2 85.3 484.8 85.3 478.1 85.6 503.6 85.8 512.1 86.0 493.4 86.3 477.5 86.3 472.5 86.7 470.2 87.1 465.9 87.4 463.3 87.5 471.1 87.8 460.7 88.1 463.7 88.5 453.9 88.9 451.8 89.2 457.0 89.6 456.2 89.6 448.9 89.9 444.0 90.3 462.9 90.7 450.7 91.0 459.2 91.4 464.6 91.5 465.9 91.7 469.5 92.1 465.1 92.5 460.8 92.8 466.8 92.9 462.1 93.2 458.6 93.4 446.5 93.5 443.8 93.9 458.0 93.9 461.2 94.3 464.8 94.6 473.6 95.0 467.6 95.0 472.4 95.3 467.5 95.7 471.2 96.1 459.3 96.4 461.1 96.8 452.5 97.1 451.6 97.3 456.0 97.5 454.4 97.9 467.9 98.2 466.2 98.6 462.7 98.9 479.0 99.0 473.9 99.3 484.0 99.7 475.5 100.0 490.8 100.4 487.2 100.7 494.6 101.1 509.0 101.2 503.0 101.5 503.8 101.8 502.9 102.2 490.5 102.5 499.8 102.9 498.7 103.3 484.2 103.6 488.2 104.0 481.7 104.0 485.6 104.3 478.7 104.7 487.7 105.1 493.4 105.4 493.8 105.7 490.1 105.8 495.2 106.1 480.7 106.5 484.8 106.9 474.9 107.0 472.2 107.2 474.8 107.6 472.8 107.9 467.9 108.3 468.9 108.4 460.0 108.7 434.7 108.9 418.2 109.0 426.7 109.4 445.8 109.4 448.3 109.7 450.1 110.1 449.3 110.5 447.2 110.6 455.9 110.8 454.5 111.2 460.6 111.5 471.6 111.9 462.9 112.0 469.3 112.3 469.0 112.6 459.9 113.0 459.7 113.0 461.1 113.3 463.4 113.7 475.5 114.1 483.8 114.4 482.4 114.5 487.2 114.8 486.9 115.1 483.5 115.5 485.4 115.9 479.3 116.0 480.5 116.2 477.5 116.6 489.7 116.9 485.3 117.3 482.3 117.3 486.2 117.7 511.2 117.8 512.7 118.0 488.8 118.4 449.1 118.5 438.7 118.7 460.3 119.0 466.5 119.1 481.7 119.2 484.5 119.5 486.7 119.7 497.6 119.8 495.7 120.2 489.0 120.2 484.7 120.5 489.7 120.8 479.9 120.9 471.0 121.3 459.6 121.3 458.1 121.6 474.8 121.8 479.5 122.0 488.9 122.0 488.2 122.3 497.1 122.5 493.1 122.7 496.8 123.0 488.3 123.1 479.4 123.4 490.1 123.8 476.5 124.0 477.8 124.1 475.0 124.5 476.3 124.5 469.3 124.9 473.3 125.0 477.9 125.2 484.6 125.6 483.0 125.9 471.9 126.3 473.4 126.7 475.2 127.0 472.5 127.1 477.2 127.4 490.5 127.6 509.2 127.7 507.0 128.1 482.6 128.1 476.0 128.5 470.3 128.8 471.6 129.2 473.3 129.5 467.2 129.9 463.0 130.3 462.5 130.6 458.3 130.8 462.9 131.0 466.6 131.3 464.8 131.7 472.3 132.1 472.2 132.2 473.1 132.4 468.8 132.8 467.4 133.1 472.0 133.5 465.5 133.6 460.8 133.9 456.6 134.2 466.3 134.6 467.7 134.9 466.8 135.0 473.7 135.3 470.9 135.7 477.8 136.0 491.2 136.4 493.8 136.7 498.4 136.8 495.0 137.1 483.3 137.5 472.3 137.8 464.7 138.0 465.8 138.2 463.8 138.5 438.9 138.5 435.6 138.9 457.1 139.0 467.9 139.3 471.2 139.6 472.5 140.0 478.6 140.3 480.1 140.6 487.2 140.7 489.0 141.1 479.9 141.4 479.0 141.6 470.1 141.8 476.9 142.1 491.6 142.5 486.6 142.5 492.2 142.9 509.3 143.0 512.6 143.2 511.3 143.5 492.2 143.6 491.1 143.9 494.5 144.3 476.9 144.5 483.7 144.7 475.3 145.0 477.7 145.0 478.0 145.4 481.3 145.5 481.7 145.7 480.4 146.1 481.8 146.5 492.1 146.8 492.3 147.1 486.4 147.2 497.7 147.5 517.4 147.6 514.7 147.9 491.6 148.1 486.5 148.3 482.9 148.6 476.7 149.0 491.1 149.3 489.8 149.5 481.9 149.7 481.8 150.0 477.4 150.1 484.4 150.4 480.5 150.5 482.0 150.8 480.9 151.1 485.7 151.5 494.6 151.8 497.4 151.9 488.2 152.2 480.2 152.4 476.2 152.6 465.7 152.9 458.9 152.9 462.6 153.3 474.5 153.4 476.5 153.7 470.2 154.0 473.9 154.2 481.0 154.4 483.7 154.7 464.9 155.1 470.5 155.3 461.8 155.5 459.6 155.8 464.7 156.2 473.1 156.5 480.1 156.9 493.9 157.3 491.8 157.6 492.2 157.8 500.5 158.0 492.3 158.3 491.0 158.7 495.8 159.1 495.5 159.4 489.7 159.8 490.1 160.1 484.1 160.5 491.3 160.9 485.5 160.9 486.2 161.2 483.4 161.6 474.7 161.9 472.0 162.3 465.3 162.7 471.8 162.9 464.1 163.0 456.6 163.4 402.0 163.4 400.2 163.7 447.5 163.9 465.2 164.1 472.2 164.5 463.0 164.8 476.3 165.2 480.2 165.2 474.1 165.5 483.7 165.7 489.3 165.9 479.2 166.2 475.5 166.3 477.0 166.6 474.9 167.0 463.7 167.1 463.0 167.3 460.0 167.7 464.7 168.1 474.2 168.4 480.7 168.5 473.2 168.8 466.1 169.1 465.5 169.5 470.6 169.9 475.4 170.2 465.5 170.6 468.6 170.9 468.4 171.0 468.8 171.3 461.8 171.7 458.5 172.0 465.4 172.4 462.0 172.7 460.0 173.1 466.8 173.5 464.4 173.8 453.8 174.0 460.1 174.2 464.5 174.5 465.9 174.9 450.9 175.3 463.3 175.6 450.7 176.0 460.4 176.3 458.6 176.7 463.9 177.1 458.3 177.2 455.0 177.4 459.8 177.8 455.0 178.1 466.0 178.5 455.0 178.9 461.5 179.0 465.4 179.2 460.1 179.6 468.9 179.9 470.7 180.3 472.3 180.7 475.5 181.0 469.0 181.4 465.6 181.6 471.4 181.7 478.0 182.1 492.7 182.1 500.5 182.5 470.1 182.6 467.3 182.8 472.3 183.2 465.1 183.5 450.9 183.8 450.8 183.9 445.6 184.3 402.4 184.3 395.4 184.6 430.5 184.8 452.1 185.0 455.8 185.0 466.8 185.3 479.2 185.5 483.2 185.7 481.7 186.0 464.5 186.1 462.3 186.4 454.4 186.8 438.1 187.1 438.3 187.4 424.5 187.5 418.4 187.9 419.1 188.2 418.4 188.6 428.0 188.9 422.2 189.3 429.3 189.5 429.8 189.7 444.1 190.0 449.8 190.2 465.6 190.4 463.6 190.7 461.1 191.1 459.8 191.5 458.6 191.8 462.0 191.9 456.5 192.2 457.2 192.5 461.9 192.9 461.5 193.3 474.0 193.6 473.8 194.0 487.0 194.3 489.2 194.4 483.3 194.7 480.0 195.1 490.6 195.4 487.3 195.8 478.0 195.8 487.4 196.1 480.0 196.5 481.8 196.9 475.7 197.2 467.2 197.2 469.4 197.6 468.2 197.9 451.3 198.3 447.1 198.7 436.6 199.0 441.0 199.0 433.3 199.4 438.5 199.7 435.3 200.1 438.7 200.5 428.3 200.8 421.3 201.1 425.9 201.2 408.8 201.5 373.9 201.6 371.4 201.9 407.5 202.0 432.2 202.1 474.7 202.3 477.0 202.5 491.0 202.6 478.5 203.0 468.2 203.0 472.0 203.3 454.1 203.7 451.0 203.9 438.4 204.1 425.0 204.4 392.5 204.4 390.1 204.8 456.5 205.0 499.1 205.1 492.6 205.5 463.6 205.5 469.9 205.9 476.5 206.2 460.3 206.3 463.8 206.6 458.4 206.9 464.8 207.3 467.3 207.7 470.2 208.0 473.9 208.4 476.8 208.7 476.4 209.0 474.5 209.1 479.0 209.5 461.4 209.8 463.9 210.0 454.3 210.2 442.0 210.5 432.1 210.5 439.5 210.9 450.3 211.0 450.2 211.3 452.9 211.4 449.9 211.6 451.2 211.9 456.2 212.0 453.6 212.3 420.4 212.6 408.4 212.7 419.7 213.1 455.0 213.1 453.2 213.4 453.5 213.8 461.9 214.0 463.6 214.1 476.3 214.5 485.0 214.7 495.1 214.9 484.0 215.2 472.6 215.2 468.7 215.6 462.6 215.8 450.5 215.9 433.6 216.3 398.7 216.3 394.0 216.7 434.3 216.8 449.2 217.0 459.9 217.4 474.6 217.5 487.3 217.7 491.3 218.1 492.1 218.5 495.6 218.6 491.5 218.8 506.4 219.1 510.2 219.2 514.1 219.5 490.8 219.6 490.7 219.9 484.2 220.3 481.7 220.6 497.6 221.0 486.6 221.1 487.7 221.3 488.6 221.6 484.6 221.7 489.6 222.1 497.8 222.1 490.2 222.4 494.5 222.8 497.6 222.8 501.7 223.1 506.0 223.3 513.7 223.5 516.2 223.8 501.6 223.9 507.9 224.2 505.7 224.6 503.1 224.9 493.2 225.3 491.0 225.7 499.8 226.0 495.5 226.0 493.2 226.4 489.4 226.5 489.4 226.7 499.6 227.0 495.9 227.1 503.1 227.5 505.4 227.8 504.9 228.2 514.8 228.4 512.2 228.5 516.5 228.9 513.9 228.9 517.4 229.3 519.3 229.4 512.6 229.6 516.2 230.0 508.7 230.3 501.1 230.7 497.3 231.1 490.3 231.4 494.8 231.8 495.1 232.0 487.8 232.1 485.1 232.5 484.5 232.5 477.6 232.9 491.5 233.0 489.0 233.2 489.9 233.6 494.4 233.9 489.2 234.1 496.4 234.3 508.4 234.6 517.0 234.7 508.9 235.0 493.3 235.1 495.6 235.4 492.1 235.7 499.0 236.1 493.4 236.5 493.7 236.8 489.8 237.2 488.8 237.4 491.1 237.5 493.8 237.9 484.6 238.3 486.6 238.6 488.0 239.0 490.9 239.3 480.0 239.7 480.2 239.8 481.4 240.1 477.3 240.4 485.0 240.8 491.1 241.1 482.9 241.5 486.9 241.9 483.2 242.2 489.9 242.6 497.3 242.6 491.1 242.9 491.8 243.3 498.0 243.7 507.2 244.0 515.2 244.4 514.7 244.7 519.7 244.7 522.5 245.1 512.9 245.5 522.5 245.8 515.0 246.2 511.9 246.5 516.5 246.9 508.1 247.3 505.3 247.6 505.4 248.0 509.6 248.2 505.7 248.3 502.9 248.7 492.3 249.1 488.9 249.4 475.8 249.5 479.4 249.8 460.3 250.0 435.1 250.1 442.0 250.5 466.8 250.5 466.0 250.9 463.0 251.2 474.6 251.3 473.6 251.6 478.4 251.9 475.6 252.3 482.6 252.7 480.9 252.9 480.9 253.0 486.8 253.4 515.4 253.4 515.6 253.7 495.6 253.9 480.7 254.1 475.5 254.5 476.1 254.8 479.2 255.2 473.2 255.5 468.2 255.9 475.8 255.9 469.9 256.3 467.7 256.6 470.7 257.0 468.2 257.3 468.0 257.7 473.4 258.0 472.1 258.1 470.1 258.4 465.9 258.8 469.1 259.1 467.2 259.5 466.7 259.8 466.2 259.9 467.9 260.2 446.7 260.3 446.6 260.6 465.6 260.8 475.6 260.9 473.1 261.3 476.1 261.7 485.1 262.0 493.3 262.2 489.2 262.4 490.8 262.7 488.2 263.1 495.5 263.5 493.0 263.8 492.9 264.0 495.3 264.2 503.0 264.5 515.6 264.5 512.9 264.9 500.2 265.0 489.4 265.3 488.4 265.6 489.5 265.8 486.3 266.0 484.1 266.3 482.8 266.3 478.4 266.7 492.2 266.8 487.7 267.1 490.4 267.4 487.6 267.8 485.3 268.1 489.2 268.4 493.2 268.5 495.3 268.9 513.1 268.9 510.1 269.2 503.3 269.4 493.5 269.6 492.2 269.9 478.8 270.3 472.3 270.3 475.0 270.7 452.4 270.8 451.8 271.0 462.0 271.3 476.4 271.4 473.1 271.7 475.8 271.7 482.1 272.1 492.2 272.2 487.5 272.5 485.5 272.7 476.2 272.8 468.1 273.2 471.0 273.5 464.7 273.5 460.7 273.9 446.0 274.0 434.2 274.3 444.4 274.5 465.5 274.6 459.6 275.0 472.4 275.3 470.5 275.7 472.7 276.1 466.7 276.1 472.2 276.4 470.6 276.8 465.7 277.1 468.1 277.5 458.3 277.9 456.7 277.9 456.9 278.2 461.9 278.6 472.4 278.9 468.5 279.3 479.9 279.4 477.0 279.7 492.0 279.9 496.0 280.0 486.9 280.4 481.9 280.4 478.3 280.7 471.9 281.1 470.1 281.5 470.5 281.8 472.4 282.0 472.3 282.2 477.6 282.5 474.1 282.9 473.8 283.3 483.9 283.4 484.1 283.6 480.6 284.0 484.7 284.3 489.1 284.7 478.3 285.1 480.1 285.4 486.4 285.5 481.4 285.8 478.2 286.1 479.7 286.5 488.1 286.9 481.2 287.2 481.8 287.6 489.4 287.9 492.2 288.3 493.0 288.5 490.3 288.7 503.8 289.0 515.6 289.0 514.5 289.4 495.0 289.5 490.5 289.7 486.7 290.1 486.1 290.5 496.3 290.8 487.9 291.2 490.3 291.5 495.4 291.9 487.9 292.3 488.6 292.6 491.0 292.8 489.4 293.0 475.4 293.3 465.5 293.3 465.4 293.7 476.6 293.8 485.5 294.1 488.9 294.4 490.7 294.8 488.6 295.1 486.1 295.5 494.6 295.7 490.5 295.9 496.7 296.2 495.3 296.6 510.7 296.9 514.7 297.1 514.0 297.3 511.8 297.7 511.0 298.0 509.5 298.4 505.8 298.7 504.9 299.1 495.1 299.4 497.9 299.5 500.6 299.8 494.8 299.8 500.4 300.2 492.3" fill="none" stroke="#000" stroke-width="1.3" stroke-linejoin="bevel"/>
<path d="M299.8 494.8 299.8 500.4 300.2 492.3 300.5 486.8 300.9 490.8 301.3 482.4 301.6 481.0 302.0 479.3 302.2 476.5 302.3 474.3 302.7 486.2 303.1 487.2 303.4 489.3 303.6 492.7 303.8 500.1 304.1 503.2 304.5 502.4 304.9 503.9 305.2 514.1 305.6 507.6 305.9 511.5 306.0 516.8 306.3 517.2 306.7 510.8 307.0 512.1 307.4 510.6 307.7 511.7 307.9 513.4 308.1 508.2 308.5 504.6 308.8 503.3 309.2 497.3 309.5 499.7 309.9 492.6 310.3 486.3 310.6 486.5 310.6 489.0 311.0 486.8 311.3 485.3 311.7 492.6 312.1 495.1 312.4 497.9 312.5 495.2 312.8 492.6 313.1 488.0 313.1 486.6 313.5 490.2 313.9 501.4 314.2 504.4 314.6 507.2 314.6 508.8 314.9 503.5 315.3 502.9 315.7 494.4 316.0 488.9 316.4 487.1 316.7 482.5 317.1 480.9 317.4 476.0 317.5 475.6 317.8 478.4 318.2 476.8 318.5 471.2 318.9 471.3 319.3 471.8 319.6 468.9 319.7 471.8 320.0 480.0 320.3 485.7 320.7 498.4 321.1 504.9 321.4 511.6 321.6 517.8 321.8 517.0 322.1 513.7 322.5 511.7 322.9 507.7 323.2 500.9 323.5 498.6 323.6 496.2 323.9 501.3 324.3 502.2 324.7 504.4 325.0 511.4 325.4 508.8 325.4 511.6 325.7 512.1 326.1 510.5 326.5 508.6 326.8 510.0 327.2 505.4 327.5 504.2 327.8 505.4 327.9 497.5 328.3 482.0 328.3 479.1 328.6 498.2 328.8 506.5 329.0 504.7 329.3 509.7 329.7 515.4 330.1 517.7 330.4 518.8 330.6 519.7 330.8 517.7 331.1 517.0 331.5 515.0 331.9 519.6 332.2 515.0 332.6 518.7 332.9 511.7 333.3 516.0 333.4 513.9 333.7 508.0 334.0 507.8 334.4 503.9 334.7 499.7 335.1 495.6 335.3 492.2 335.5 493.5 335.8 490.5 336.2 493.6 336.5 490.1 336.9 488.2 337.2 489.7 337.3 488.1 337.6 491.2 338.0 494.9 338.3 497.6 338.7 496.6 339.1 496.9 339.4 502.4 339.7 503.6 339.8 504.6 340.1 500.1 340.5 502.1 340.9 500.3 341.2 499.3 341.6 497.1 341.9 495.0 342.3 492.7 342.7 493.1 343.0 487.5 343.4 488.7 343.7 488.0 344.1 486.3 344.5 480.7 344.8 481.4 344.8 484.4 345.2 485.2 345.5 483.1 345.9 487.0 346.3 490.8 346.6 492.9 347.0 492.5 347.3 493.6 347.3 492.3 347.7 491.7 348.1 493.3 348.4 493.3 348.8 498.0 349.1 498.7 349.5 497.7 349.9 501.2 350.0 498.7 350.2 506.0 350.5 519.3 350.6 515.4 350.9 494.7 351.0 494.5 351.3 492.8 351.7 490.3 352.0 486.4 352.4 485.5 352.7 479.6 353.0 480.4 353.1 481.2 353.5 480.2 353.8 478.9 354.2 475.2 354.5 476.1 354.9 479.4 355.3 478.4 355.3 475.8 355.6 476.9 356.0 481.6 356.3 487.1 356.7 495.7 356.8 494.6 357.1 493.7 357.4 494.6 357.8 498.4 358.1 497.8 358.5 500.6 358.9 496.4 359.2 499.3 359.2 502.7 359.6 512.1 359.7 519.4 359.9 509.8 360.2 498.0 360.3 496.5 360.7 498.7 361.0 493.4 361.4 498.4 361.7 491.9 362.1 491.8 362.5 494.0 362.5 492.6 362.8 493.7 363.2 487.4 363.5 482.4 363.9 480.3 364.0 481.6 364.3 485.9 364.6 484.7 365.0 488.2 365.3 491.9 365.7 495.1 365.8 495.1 366.1 496.9 366.4 501.4 366.8 508.8 367.1 513.3 367.5 514.4 367.7 517.8 367.9 514.1 368.2 515.7 368.6 513.7 368.9 509.1 369.3 507.4 369.7 500.9 370.0 503.3 370.1 500.8 370.4 500.2 370.7 499.0 371.1 495.2 371.5 498.3 371.8 495.1 372.2 494.4 372.5 490.5 372.9 492.1 373.0 490.8 373.3 493.2 373.6 489.3 374.0 490.7 374.3 492.0 374.7 494.0 374.9 495.3 375.1 492.6 375.4 497.5 375.8 495.7 376.1 499.3 376.5 500.3 376.9 500.9 377.2 504.4 377.2 503.2 377.6 498.5 377.9 496.6 378.3 490.1 378.7 490.5 379.0 481.9 379.1 483.0 379.4 481.3 379.7 487.3 380.1 482.9 380.5 483.7 380.8 485.4 381.2 490.3 381.5 489.7 381.5 489.3 381.9 497.9 382.3 500.0 382.6 509.4 382.9 513.8 383.0 511.7 383.3 516.0 383.7 512.1 384.1 511.3 384.4 513.4 384.8 513.9 385.1 509.6 385.4 510.7 385.5 514.3 385.9 512.7 386.2 515.1 386.6 516.3 386.9 520.3 387.3 519.6 387.3 520.2 387.7 518.4 388.0 513.9 388.4 514.8 388.7 515.2 389.1 511.4 389.5 508.8 389.8 504.7 390.1 506.5 390.2 506.1 390.5 507.8 390.9 510.3 391.3 512.7 391.6 514.4 392.0 516.3 392.0 517.7 392.3 512.5 392.7 511.1 393.1 509.9 393.4 510.2 393.8 504.8 393.9 504.5 394.1 507.3 394.5 507.5 394.9 507.6 395.2 507.8 395.6 508.4 395.8 507.9 395.9 505.0 396.3 502.0 396.7 499.8 397.0 500.5 397.4 498.0 397.7 492.0 398.1 494.5 398.3 490.9 398.5 490.9 398.8 487.4 399.2 491.6 399.5 486.1 399.9 486.2 400.3 487.1 400.6 486.7 401.0 486.2 401.1 486.2 401.3 488.4 401.7 500.6 402.1 507.2 402.4 517.8 402.5 517.9 402.8 522.6 403.1 526.7 403.4 527.5 403.5 524.0 403.9 523.1 404.2 521.1 404.4 518.0 404.6 520.4 404.9 517.4 405.3 515.0 405.7 519.6 406.0 516.9 406.4 519.4 406.7 515.7 407.1 517.8 407.2 518.8 407.5 516.0 407.8 516.7 408.2 515.1 408.5 519.2 408.9 517.9 409.3 516.6 409.6 515.3 410.0 517.6 410.3 512.6 410.5 514.1 410.7 512.1 411.1 516.7 411.4 515.3 411.8 515.5 412.1 522.4 412.5 519.8 412.6 522.0 412.9 522.0 413.2 521.0 413.6 520.1 413.9 521.2 414.3 515.6 414.5 517.3 414.7 515.8 415.0 514.5 415.4 519.8 415.7 514.8 416.1 517.3 416.5 519.7 416.7 517.5 416.8 518.3 417.2 515.5 417.5 513.6 417.9 507.9 418.3 509.1 418.6 507.6 419.0 501.0 419.3 503.8 419.7 501.5 420.0 496.6 420.1 499.7 420.4 500.3 420.8 495.8 421.1 500.4 421.5 502.4 421.9 502.2 422.1 500.3 422.2 499.6 422.6 499.1 422.9 496.5 423.3 495.1 423.7 491.9 424.0 489.9 424.4 490.4 424.7 489.6 425.1 489.2 425.5 490.1 425.7 485.9 425.8 487.0 426.2 495.3 426.5 500.1 426.9 500.8 427.3 509.3 427.6 512.6 427.6 515.6 428.0 509.8 428.3 510.3 428.7 507.8 429.1 506.5 429.4 503.0 429.5 504.3 429.8 504.7 430.1 508.8 430.5 509.7 430.9 512.8 431.0 513.0 431.2 511.6 431.6 509.5 431.9 502.9 432.3 499.0 432.3 498.8 432.7 498.2 433.0 496.5 433.4 494.6 433.7 495.6 433.9 494.8 434.1 494.1 434.3 491.5 434.5 488.1 434.8 476.2 434.8 474.8 435.2 486.3 435.3 493.1 435.5 495.0 435.9 494.0 436.2 497.3 436.3 501.3 436.6 500.8 436.7 502.1 437.0 499.9 437.2 497.9 437.3 496.2 437.7 490.9 438.1 490.0 438.4 484.0 438.8 484.8 439.0 481.8 439.1 470.9 439.5 454.4 439.5 454.3 439.9 474.6 440.0 481.0 440.2 482.1 440.6 490.1 440.9 493.1 441.0 497.1 441.3 495.0 441.7 491.5 442.0 492.0 442.4 486.3 442.7 485.9 443.1 483.5 443.5 478.8 443.7 480.0 443.8 481.6 444.2 480.6 444.5 484.0 444.9 485.3 445.2 488.6 445.3 488.9 445.6 488.8 446.0 485.9 446.3 484.3 446.7 479.5 447.1 481.0 447.1 478.5 447.4 482.5 447.8 483.9 448.1 484.7 448.5 484.7 448.6 487.4 448.9 491.4 449.2 496.3 449.6 497.1 449.8 502.3 449.9 500.7 450.3 496.9 450.7 487.5 450.9 485.8 451.0 487.3 451.4 479.1 451.7 480.0 452.1 475.2 452.5 470.7 452.8 469.9 452.8 469.3 453.2 465.7 453.5 468.3 453.9 465.4 454.3 463.2 454.6 464.9 455.0 464.0 455.1 460.7 455.3 463.0 455.7 470.0 456.1 474.1 456.4 482.3 456.6 482.3 456.8 481.0 457.1 482.0 457.5 484.5 457.9 485.7 458.2 492.2 458.5 491.2 458.6 491.7 458.9 495.0 459.3 494.2 459.7 495.8 460.0 493.6 460.4 495.4 460.4 496.9 460.7 496.0 461.1 489.5 461.5 487.5 461.8 484.7 461.8 482.7 462.2 467.0 462.3 461.1 462.5 475.2 462.8 485.0 462.9 483.2 463.3 489.0 463.6 495.6 463.7 496.0 464.0 503.7 464.2 514.2 464.3 511.1 464.7 493.1 464.7 495.9 465.1 496.0 465.4 497.3 465.8 496.1 466.1 495.9 466.2 495.1 466.5 493.5 466.7 489.9 466.9 490.8 467.2 495.2 467.2 493.5 467.6 496.8 467.9 498.1 468.3 501.9 468.5 504.4 468.7 505.5 469.0 513.8 469.0 514.2 469.4 505.9 469.5 504.6 469.7 503.2 470.1 500.1 470.4 499.8 470.5 498.7 470.8 491.2 470.9 489.7 471.2 498.3 471.4 499.3 471.5 498.6 471.9 499.2 472.3 500.7 472.6 496.2 473.0 494.5 473.3 497.4 473.6 496.1 473.7 500.0 474.1 519.9 474.1 518.5 474.4 506.1 474.6 495.0 474.8 495.5 475.1 494.8 475.5 489.1 475.9 490.6 476.2 487.1 476.6 483.4 476.6 484.0 476.9 484.5 477.3 481.9 477.7 482.0 478.0 479.1 478.4 477.1 478.5 479.3 478.7 481.5 479.1 479.7 479.5 482.1 479.8 485.3 480.2 484.7 480.5 487.3 480.9 488.3 481.0 489.5 481.3 489.6 481.6 490.2 482.0 495.8 482.3 492.3 482.7 496.5 483.1 497.8 483.4 497.5 483.7 499.7 483.8 504.2 484.1 517.0 484.2 519.4 484.5 506.3 484.7 501.7 484.9 504.6 485.2 501.2 485.6 502.2 485.9 505.0 486.3 506.6 486.6 505.9 486.7 506.1 487.0 499.3 487.1 496.9 487.4 498.8 487.6 505.6 487.7 508.1 488.1 509.1 488.5 512.1 488.8 516.5 489.0 518.7 489.2 514.2 489.5 515.5 489.9 512.1 490.3 506.1 490.4 506.3 490.6 498.2 490.9 491.9 491.0 497.1 491.3 504.1 491.4 506.9 491.7 506.8 492.1 509.7 492.4 514.0 492.8 514.4 493.1 516.8 493.2 519.8 493.5 517.3 493.9 517.8 494.2 513.3 494.6 512.1 494.9 514.0 495.3 510.4 495.7 506.1 496.0 506.2 496.1 505.9 496.4 501.0 496.6 501.6 496.7 500.5 497.1 504.6 497.1 505.9 497.5 503.9 497.8 505.8 498.0 505.8 498.2 511.6 498.5 524.3 498.5 521.1 498.9 507.6 499.0 505.8 499.3 507.2 499.6 501.5 500.0 499.9 500.3 499.6 500.4 498.0 500.7 497.2 501.1 496.5 501.4 492.4 501.8 488.2 502.1 488.9 502.5 486.0 502.9 486.3 503.2 480.9 503.6 481.5 503.9 475.6 504.3 475.8 504.6 474.8 504.7 472.9 505.0 480.0 505.4 482.7 505.7 482.0 506.1 487.5 506.5 491.3 506.5 489.3 506.8 492.4 507.2 498.8 507.5 501.6 507.9 507.1 508.3 512.2 508.6 514.5 508.9 519.3 509.0 518.7 509.3 516.9 509.7 512.8 510.1 513.2 510.4 507.4 510.8 507.0 511.1 505.0 511.5 499.6 511.8 500.9 511.9 500.8 512.2 497.1 512.6 500.9 512.9 499.2 513.3 499.6 513.6 496.6 513.7 494.4 514.0 484.1 514.1 479.6 514.4 488.7 514.6 496.3 514.7 495.9 515.1 500.8 515.5 499.5 515.8 500.8 516.2 501.3 516.5 502.3 516.9 503.0 517.3 508.6 517.6 508.6 517.9 508.2 518.0 508.2 518.3 507.2 518.7 501.9 519.1 498.9 519.4 497.6 519.8 495.0 520.1 494.8 520.4 491.4 520.5 492.5 520.9 489.1 521.2 485.7 521.6 481.2 521.9 483.2 522.3 480.4 522.7 476.0 522.8 475.1 523.0 479.3 523.4 479.1 523.7 484.0 524.1 489.6 524.5 488.6 524.8 491.5 525.2 499.6 525.5 502.4 525.9 500.9 526.1 505.5 526.3 505.3 526.6 503.5 527.0 500.7 527.3 498.2 527.7 496.2 528.1 494.1 528.4 488.7 528.8 487.0 528.9 488.0 529.1 489.9 529.5 486.0 529.9 485.6 530.2 486.5 530.6 480.1 530.9 479.4 531.3 478.7 531.4 480.1 531.7 483.4 532.0 483.4 532.4 486.5 532.7 490.4 533.1 498.3 533.3 497.6 533.5 498.2 533.8 494.3 534.2 491.2 534.5 484.9 534.9 479.6 535.3 477.2 535.6 475.7 536.0 472.2 536.1 468.2 536.3 469.2 536.7 472.5 537.1 471.6 537.4 472.1 537.5 473.8 537.8 472.9 538.1 470.3 538.5 472.2 538.9 470.4 538.9 469.6 539.2 458.5 539.4 450.2 539.6 455.2 539.9 469.0 539.9 472.0 540.3 475.2 540.7 476.7 541.0 483.7 541.3 487.5 541.4 489.5 541.7 491.3 542.1 493.4 542.5 492.5 542.8 495.2 543.2 493.4 543.5 498.5 543.8 498.7 543.9 495.6 544.3 490.9 544.6 488.6 545.0 480.9 545.3 476.6 545.5 475.2 545.7 469.8 546.0 457.5 546.1 457.4 546.4 470.7 546.5 475.5 546.8 475.7 547.1 482.6 547.5 486.2 547.9 489.4 548.2 493.1 548.3 494.9 548.6 490.6 548.9 490.0 549.3 488.3 549.7 484.5 550.0 484.6 550.4 481.1 550.7 477.5 550.8 479.4 551.1 477.2 551.5 477.3 551.8 476.4 552.2 472.7 552.5 468.3 552.7 470.3 552.9 472.2 553.3 466.5 553.6 467.5 554.0 464.9 554.3 467.5 554.7 464.0 555.1 468.2 555.2 465.3 555.4 467.4 555.8 467.8 556.1 469.9 556.5 470.1 556.9 477.2 557.2 475.9 557.6 477.8 557.8 480.5 557.9 479.9 558.3 483.6 558.7 486.5 559.0 493.5 559.4 495.9 559.7 495.4 560.1 501.6 560.5 500.0 560.8 506.0 560.9 506.6 561.2 503.3 561.5 501.3 561.9 503.3 562.3 500.7 562.6 500.9 562.9 496.5 563.0 494.6 563.3 493.3 563.7 494.1 564.1 491.8 564.4 494.3 564.8 490.5 565.1 491.9 565.5 491.5 565.7 490.6 565.9 492.8 566.2 496.0 566.6 493.9 566.9 496.1 567.3 496.8 567.6 499.1 567.7 500.8 568.0 502.1 568.4 499.3 568.7 499.5 569.1 498.3 569.5 499.3 569.8 505.0 570.2 503.4 570.5 503.4 570.5 503.0 570.9 521.2 571.0 522.1 571.3 513.1 571.5 502.8 571.6 504.0 572.0 504.0 572.3 503.5 572.7 502.7 573.1 502.0 573.2 502.6 573.4 489.0 573.7 476.6 573.8 482.5 574.1 501.5 574.2 502.5 574.5 502.2 574.9 509.6 575.2 513.4 575.6 513.4 575.9 515.9 576.2 518.6 576.3 517.2 576.7 507.0 577.0 501.3 577.0 504.3 577.4 498.0 577.5 496.8 577.7 498.0 578.0 501.2 578.1 500.1 578.5 504.0 578.8 511.5 579.2 515.8 579.5 520.7 579.6 519.1 579.9 511.8 580.3 505.1 580.6 503.1 581.0 495.0 581.3 491.4 581.3 490.9 581.7 489.9 582.1 489.1 582.4 487.8 582.8 488.6 583.1 485.7 583.5 489.6 583.8 486.6 583.9 488.9 584.2 492.9 584.6 494.8 584.9 499.4 585.3 501.9 585.7 503.8 586.0 504.6 586.3 510.0 586.4 509.6 586.7 508.1 587.1 506.1 587.5 502.1 587.8 496.3 588.2 493.6 588.2 496.1 588.5 501.2 588.9 501.9 589.3 503.4 589.6 507.1 589.9 511.7 590.0 514.0 590.3 509.2 590.7 507.7 591.1 507.9 591.4 502.7 591.8 502.5 592.1 500.9 592.2 500.1 592.5 491.4 592.7 489.1 592.9 490.5 593.2 500.0 593.2 499.5 593.6 497.5 593.9 501.4 594.3 498.8 594.7 499.4 595.0 498.6 595.1 495.8 595.4 506.1 595.6 518.1 595.7 511.7 596.1 497.0 596.1 496.3 596.5 492.8 596.8 492.1 597.2 488.2 597.5 485.5 597.9 482.2 598.3 481.2 598.6 480.4 598.6 482.1 599.0 483.0 599.3 486.7 599.7 486.1 600.1 487.9 600.3 491.1 600.4 489.6 600.8 492.2 601.1 489.9 601.5 489.1 601.9 491.6 602.2 489.7 602.2 491.4 602.6 491.8 602.9 492.4 603.3 497.9 603.7 500.1 604.0 499.6 604.4 504.0 604.7 506.3 604.7 507.3 605.1 502.5 605.5 502.7 605.8 503.4 606.2 495.9 606.5 498.1 606.9 494.1 607.3 493.1 607.4 492.2 607.6 484.5 607.9 474.9 608.0 480.1 608.3 492.5 608.4 492.8 608.7 496.0 609.1 493.9 609.4 497.2 609.8 499.0 609.8 496.5 610.1 498.1 610.5 497.2 610.9 495.1 611.2 497.6 611.4 497.0 611.6 498.5 611.9 496.3 612.3 503.1 612.7 501.4 612.8 503.1 613.0 511.6 613.3 527.3 613.4 520.7 613.7 505.5 613.8 502.2 614.1 499.9 614.5 500.0 614.8 496.7 615.2 492.5 615.2 494.5 615.5 491.2 615.9 491.6 616.3 493.7 616.6 489.1 617.0 490.7 617.3 488.5 617.7 487.6 618.0 485.5 618.1 484.2 618.4 491.1 618.8 491.7 619.1 497.7 619.5 495.6 619.9 499.3 620.2 502.5 620.6 509.0 620.9 508.6 621.3 513.5 621.3 513.9 621.7 512.5 622.0 509.7 622.4 511.5 622.7 507.6 623.1 504.5 623.5 505.1 623.8 501.1 624.2 502.8 624.5 498.4 624.7 499.9 624.9 496.9 625.3 497.6 625.6 496.4 626.0 497.8 626.3 496.3 626.7 496.0 627.1 495.3 627.4 495.7 627.5 494.7 627.8 495.7 628.1 497.6 628.5 499.2 628.9 504.2 629.2 508.3 629.6 510.4 629.9 513.0 630.3 510.4 630.7 516.1 630.8 515.4 631.0 516.3 631.4 514.3 631.7 510.0 632.1 510.8 632.5 505.6 632.8 503.9 633.2 500.6 633.5 501.2 633.9 497.6 634.3 495.0 634.6 492.9 634.6 494.5 635.0 492.2 635.3 497.0 635.7 495.4 636.1 497.8 636.4 498.3 636.8 502.6 637.0 503.9 637.1 501.3 637.5 499.3 637.9 500.2 638.2 496.0 638.6 496.4 638.9 495.5 639.3 492.0 639.7 495.1 639.9 491.9 640.0 493.9 640.4 495.6 640.7 504.7 641.1 504.6 641.4 510.0 641.5 507.0 641.8 503.2 642.2 498.9 642.5 496.1 642.7 494.6 642.9 496.9 643.3 501.4 643.6 503.3 644.0 510.5 644.3 510.6 644.6 515.9 644.7 517.0 645.1 513.8 645.4 508.3 645.6 509.6 645.8 508.9 646.1 512.3 646.5 517.5 646.9 522.9 646.9 520.5 647.2 522.0 647.6 518.8 647.9 522.5 648.3 518.9 648.7 517.5 649.0 517.3 649.4 516.5 649.4 518.3 649.7 521.4 650.1 520.7 650.5 517.8 650.8 520.7 651.2 520.3 651.3 520.2 651.5 523.0 651.9 518.4 652.3 519.8 652.6 518.2 653.0 518.4 653.3 520.8 653.6 517.9 653.7 516.4 654.1 519.4 654.4 518.5 654.8 517.7 655.1 519.6 655.1 518.0 655.5 520.5 655.9 516.8 656.2 514.9 656.4 517.1 656.6 515.5 656.9 519.7 657.3 521.7 657.6 520.8" fill="none" stroke="#000" stroke-width="1.15" stroke-linejoin="bevel"/>
<g font-family="'Liberation Sans', Arial, Helvetica, sans-serif" font-size="16.7" fill="#000" style="will-change:transform;filter:grayscale(1)">
<text x="672.2" y="30.9" text-anchor="start" >obli-</text>
<text x="672.2" y="50.2" text-anchor="start" >quity</text>
<text x="672.2" y="88.8" text-anchor="start" >39–43</text>
<text x="672.2" y="130.7" text-anchor="start" >short</text>
<text x="671.5" y="144.6" text-anchor="start" >ecc.</text>
<text x="672.2" y="174.9" text-anchor="start" >90–130</text>
<text x="671.9" y="199.4" text-anchor="start" >long</text>
<text x="671.5" y="215.7" text-anchor="start" >ecc.</text>
<text x="672.2" y="235.9" text-anchor="start" >394–</text>
<text x="671.2" y="253.9" text-anchor="start" >414</text>
<text x="671.2" y="273.2" text-anchor="start" >preces-</text>
<text x="669.6" y="291.4" text-anchor="start" >sion</text>
<text x="669.0" y="340.6" text-anchor="start" >18–25</text>
<text x="14.6" y="556.1" text-anchor="middle" >0</text>
<text x="121.0" y="556.1" text-anchor="middle" >500</text>
<text x="231.2" y="556.1" text-anchor="middle" >1000</text>
<text x="335.4" y="556.1" text-anchor="middle" >1500</text>
<text x="444.5" y="556.1" text-anchor="middle" >2000</text>
<text x="551.8" y="556.1" text-anchor="middle" >2500</text>
<text x="658.9" y="556.1" text-anchor="middle" >3000</text>
<text x="369.5" y="585.8" text-anchor="middle" >Age (ka)</text>
<text x="676.6" y="528.7" text-anchor="start" >0</text>
<text x="676.6" y="498.7" text-anchor="start" >0.2</text>
<text x="676.6" y="468.7" text-anchor="start" >0.4</text>
<text x="676.6" y="438.7" text-anchor="start" >0.6</text>
<text x="676.6" y="408.7" text-anchor="start" >0.8</text>
<text x="676.6" y="378.7" text-anchor="start" >1.0</text>
<text transform="translate(711.8 386.9) rotate(90)" x="0" y="0" font-size="16.75">‘Hematite’ (Am<tspan font-size="9" dx="0.9" dy="-5">-1</tspan><tspan dx="-0.6" dy="5">)</tspan></text>
</g>
</svg>
</body></html>
